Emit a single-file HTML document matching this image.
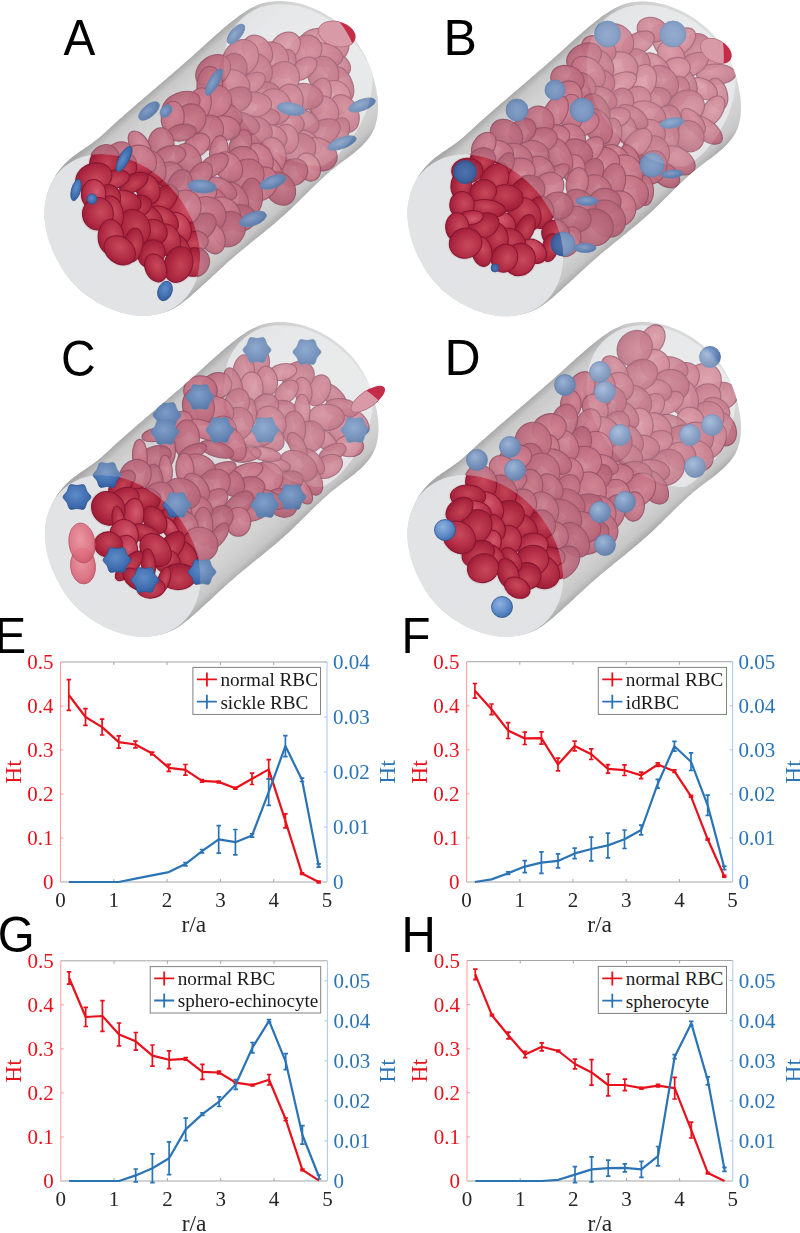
<!DOCTYPE html>
<html><head><meta charset="utf-8"><style>
html,body{margin:0;padding:0;background:#fff;width:800px;height:1233px;overflow:hidden}
svg{display:block;font-family:"Liberation Serif",serif;filter:blur(0.35px)}
</style></head><body>
<svg width="800" height="1233" viewBox="0 0 800 1233">
<defs>
<radialGradient id="pk0" cx="0.4" cy="0.38" r="0.65"><stop offset="0" stop-color="#d07486"/><stop offset="0.75" stop-color="#bd596f"/><stop offset="1" stop-color="#a94c63"/></radialGradient>
<radialGradient id="pk1" cx="0.45" cy="0.4" r="0.65"><stop offset="0" stop-color="#c66a7c"/><stop offset="0.75" stop-color="#b44f66"/><stop offset="1" stop-color="#9f435a"/></radialGradient>
<radialGradient id="pk2" cx="0.4" cy="0.45" r="0.65"><stop offset="0" stop-color="#d88494"/><stop offset="0.75" stop-color="#c66679"/><stop offset="1" stop-color="#b1566b"/></radialGradient>
<radialGradient id="pk3" cx="0.5" cy="0.4" r="0.65"><stop offset="0" stop-color="#c06074"/><stop offset="0.75" stop-color="#ab4860"/><stop offset="1" stop-color="#983e55"/></radialGradient>
<radialGradient id="dk0" cx="0.4" cy="0.38" r="0.65"><stop offset="0" stop-color="#d25a6c"/><stop offset="0.7" stop-color="#b8304a"/><stop offset="1" stop-color="#9c223b"/></radialGradient>
<radialGradient id="dk1" cx="0.45" cy="0.4" r="0.65"><stop offset="0" stop-color="#c84a5c"/><stop offset="0.7" stop-color="#ae2841"/><stop offset="1" stop-color="#931c34"/></radialGradient>
<radialGradient id="dk2" cx="0.4" cy="0.45" r="0.65"><stop offset="0" stop-color="#d86474"/><stop offset="0.7" stop-color="#bd384f"/><stop offset="1" stop-color="#a2263e"/></radialGradient>
<radialGradient id="dk3" cx="0.5" cy="0.4" r="0.65"><stop offset="0" stop-color="#c44456"/><stop offset="0.7" stop-color="#a8243c"/><stop offset="1" stop-color="#8e1a31"/></radialGradient>
<radialGradient id="bs" cx="0.4" cy="0.35" r="0.7"><stop offset="0" stop-color="#91aed6"/><stop offset="0.55" stop-color="#6888ba"/><stop offset="1" stop-color="#4e6d9e"/></radialGradient>
<radialGradient id="bd" cx="0.5" cy="0.5" r="0.6"><stop offset="0" stop-color="#7395c4"/><stop offset="0.55" stop-color="#6688ba"/><stop offset="0.8" stop-color="#5a7cb0"/><stop offset="1" stop-color="#46679a"/></radialGradient>
<radialGradient id="be" cx="0.45" cy="0.4" r="0.65"><stop offset="0" stop-color="#7393c4"/><stop offset="0.7" stop-color="#4d72aa"/><stop offset="1" stop-color="#3e6096"/></radialGradient>
<filter id="soft" x="-5%" y="-5%" width="110%" height="110%"><feGaussianBlur stdDeviation="0.45"/></filter>
<radialGradient id="bf" cx="0.45" cy="0.4" r="0.65"><stop offset="0" stop-color="#5e8cc8"/><stop offset="0.7" stop-color="#3f6cae"/><stop offset="1" stop-color="#2f5a98"/></radialGradient>
<radialGradient id="bdf" cx="0.5" cy="0.5" r="0.6"><stop offset="0" stop-color="#4f74b0"/><stop offset="0.6" stop-color="#40649f"/><stop offset="1" stop-color="#2f4f88"/></radialGradient>
<radialGradient id="bsf" cx="0.4" cy="0.35" r="0.7"><stop offset="0" stop-color="#8fb2e0"/><stop offset="0.6" stop-color="#5f8cc8"/><stop offset="1" stop-color="#3f6aa8"/></radialGradient>
<radialGradient id="lr" cx="0.45" cy="0.4" r="0.65"><stop offset="0" stop-color="#ec909c"/><stop offset="0.7" stop-color="#dc6a7c"/><stop offset="1" stop-color="#c85468"/></radialGradient>
<radialGradient id="bst" cx="0.45" cy="0.4" r="0.65"><stop offset="0" stop-color="#6e93c6"/><stop offset="0.7" stop-color="#4a72ab"/><stop offset="1" stop-color="#3a5f96"/></radialGradient>
</defs>
<linearGradient id="gA" gradientUnits="userSpaceOnUse" x1="120.0" y1="118.6" x2="239.3" y2="254.9"><stop offset="0" stop-color="#a8a8a9"/><stop offset="0.045" stop-color="#c8c8c9"/><stop offset="0.1" stop-color="#d0d0d1"/><stop offset="0.2" stop-color="#d7d7d8"/><stop offset="0.5" stop-color="#dddddf"/><stop offset="0.8" stop-color="#d7d7d8"/><stop offset="0.9" stop-color="#cfcfd0"/><stop offset="0.955" stop-color="#c6c6c7"/><stop offset="1" stop-color="#a8a8a9"/></linearGradient>
<clipPath id="rimA"><ellipse cx="122.2" cy="235.0" rx="89.5" ry="68.0" transform="rotate(49.2 122.2 235.0)"/></clipPath>
<clipPath id="silA"><path d="M45.0 221.1 L44.8 218.7 L44.6 216.3 L44.5 214.0 L44.5 211.6 L44.6 209.2 L44.8 206.8 L45.1 204.4 L45.5 202.0 L45.9 199.7 L46.4 197.3 L47.1 195.0 L47.7 192.7 L48.5 190.4 L49.4 188.1 L50.3 185.8 L51.3 183.6 L52.3 181.5 L53.5 179.3 L54.7 177.2 L55.9 175.1 L57.3 173.1 L58.7 171.1 L60.1 169.2 L61.7 167.3 L63.3 165.5 L64.9 163.8 L66.6 162.1 L68.3 160.4 L70.2 158.8 L72.0 157.3 L73.9 155.8 L75.8 154.4 L77.8 153.0 L79.8 151.6 L81.8 150.2 L83.8 148.9 L85.8 147.5 L87.8 146.2 L89.8 144.8 L91.7 143.4 L93.7 142.0 L95.6 140.5 L97.5 139.1 L99.4 137.5 L101.2 135.9 L103.0 134.3 L104.8 132.7 L106.6 131.1 L108.4 129.4 L110.2 127.7 L112.0 126.1 L113.7 124.5 L115.5 122.8 L117.3 121.2 L119.1 119.6 L121.0 118.0 L122.8 116.4 L124.6 114.8 L126.4 113.2 L128.2 111.6 L130.1 110.0 L131.9 108.4 L133.7 106.8 L135.6 105.2 L137.4 103.6 L139.2 102.1 L141.1 100.5 L142.9 98.9 L144.7 97.3 L146.6 95.7 L148.4 94.2 L150.3 92.6 L152.1 91.0 L153.9 89.4 L155.8 87.9 L157.6 86.3 L159.4 84.7 L161.3 83.2 L163.1 81.6 L165.0 80.0 L166.8 78.4 L168.6 76.8 L170.5 75.3 L172.3 73.7 L174.1 72.1 L175.9 70.5 L177.8 68.9 L179.6 67.4 L181.4 65.8 L183.2 64.2 L185.1 62.6 L186.9 61.0 L188.7 59.4 L190.5 57.8 L192.3 56.2 L194.1 54.6 L195.9 52.9 L197.8 51.3 L199.6 49.7 L201.4 48.1 L203.2 46.5 L204.9 44.8 L206.7 43.2 L208.5 41.6 L210.3 39.9 L212.1 38.3 L213.9 36.7 L215.8 35.1 L217.6 33.5 L219.4 31.9 L221.2 30.3 L223.1 28.7 L224.9 27.1 L226.8 25.6 L228.7 24.0 L230.5 22.5 L232.4 21.0 L234.4 19.5 L236.3 18.0 L238.2 16.6 L240.2 15.1 L242.2 13.7 L244.2 12.4 L246.2 11.0 L248.3 9.8 L250.4 8.5 L252.5 7.4 L254.6 6.4 L256.8 5.4 L259.0 4.6 L261.2 3.8 L263.4 3.1 L265.7 2.6 L268.0 2.1 L270.3 1.7 L272.7 1.4 L275.0 1.2 L277.4 1.1 L279.8 1.0 L282.2 1.1 L284.6 1.2 L287.0 1.4 L289.4 1.7 L291.8 2.0 L294.2 2.4 L296.6 2.9 L298.9 3.5 L301.3 4.1 L303.7 4.8 L306.1 5.6 L308.4 6.4 L310.7 7.3 L313.1 8.2 L315.3 9.2 L317.6 10.2 L319.9 11.3 L322.1 12.5 L324.3 13.7 L326.4 14.9 L328.5 16.2 L330.6 17.6 L332.7 19.0 L334.7 20.4 L336.6 21.9 L338.5 23.4 L340.4 24.9 L342.2 26.5 L344.0 28.1 L345.7 29.7 L347.4 31.4 L349.1 33.1 L350.6 34.8 L352.2 36.6 L353.7 38.4 L355.1 40.2 L356.5 42.1 L357.9 44.0 L359.2 45.9 L360.4 47.9 L361.7 49.9 L362.8 51.9 L364.0 53.9 L365.1 56.0 L366.1 58.1 L367.1 60.3 L368.1 62.5 L369.0 64.7 L369.9 66.9 L370.7 69.2 L371.5 71.5 L372.3 73.8 L373.0 76.2 L373.7 78.6 L374.4 81.0 L375.0 83.5 L375.5 85.9 L376.1 88.4 L376.5 90.9 L376.9 93.4 L377.3 95.9 L377.6 98.4 L377.8 101.0 L377.9 103.5 L378.0 105.9 L378.0 108.4 L377.9 110.9 L377.7 113.3 L377.5 115.7 L377.1 118.1 L376.7 120.4 L376.1 122.7 L375.5 125.0 L374.8 127.2 L373.9 129.3 L372.9 131.4 L371.8 133.5 L370.6 135.5 L369.3 137.4 L367.9 139.3 L366.5 141.1 L364.9 142.8 L363.3 144.6 L361.6 146.3 L359.8 147.9 L358.0 149.5 L356.2 151.1 L354.3 152.7 L352.4 154.2 L350.4 155.7 L348.5 157.2 L346.5 158.7 L344.6 160.1 L342.6 161.6 L340.7 163.1 L338.7 164.5 L336.8 166.0 L334.9 167.5 L333.0 169.0 L331.1 170.6 L329.2 172.1 L327.4 173.7 L325.6 175.3 L323.8 176.9 L322.0 178.6 L320.2 180.2 L318.5 181.9 L316.7 183.5 L315.0 185.2 L313.2 186.9 L311.5 188.6 L309.8 190.3 L308.1 192.0 L306.4 193.7 L304.6 195.4 L302.9 197.1 L301.2 198.8 L299.5 200.5 L297.8 202.2 L296.1 203.8 L294.3 205.5 L292.6 207.2 L290.8 208.9 L289.1 210.5 L287.3 212.2 L285.5 213.8 L283.7 215.4 L281.9 217.0 L280.1 218.6 L278.3 220.2 L276.4 221.8 L274.6 223.4 L272.7 224.9 L270.9 226.5 L269.0 228.0 L267.1 229.6 L265.3 231.1 L263.4 232.7 L261.5 234.2 L259.6 235.7 L257.7 237.2 L255.8 238.8 L254.0 240.3 L252.1 241.8 L250.2 243.3 L248.3 244.9 L246.4 246.4 L244.6 247.9 L242.7 249.5 L240.8 251.0 L239.0 252.6 L237.1 254.1 L235.3 255.7 L233.5 257.3 L231.6 258.9 L229.8 260.5 L228.0 262.1 L226.2 263.7 L224.4 265.3 L222.7 266.9 L220.9 268.5 L219.1 270.2 L217.3 271.8 L215.6 273.4 L213.8 275.1 L212.0 276.7 L210.3 278.4 L208.5 280.0 L206.7 281.7 L204.9 283.3 L203.1 285.0 L201.3 286.6 L199.5 288.2 L197.7 289.9 L195.9 291.5 L194.1 293.1 L192.2 294.8 L190.4 296.4 L188.5 298.0 L186.6 299.5 L184.7 301.1 L182.7 302.6 L180.8 304.0 L178.8 305.4 L176.7 306.7 L174.7 307.9 L172.6 309.0 L170.5 310.0 L168.3 311.0 L166.1 311.8 L163.9 312.6 L161.7 313.2 L159.4 313.8 L157.1 314.3 L154.8 314.7 L152.5 315.0 L150.1 315.3 L147.7 315.5 L145.4 315.5 L143.0 315.6 L140.6 315.5 L138.2 315.4 L135.8 315.2 L133.4 314.9 L131.0 314.5 L128.6 314.1 L126.2 313.6 L123.8 313.1 L121.4 312.5 L119.1 311.8 L116.7 311.1 L114.4 310.3 L112.0 309.4 L109.7 308.5 L107.4 307.5 L105.2 306.5 L102.9 305.4 L100.7 304.3 L98.5 303.1 L96.4 301.9 L94.3 300.6 L92.2 299.3 L90.1 298.0 L88.1 296.5 L86.1 295.1 L84.2 293.6 L82.3 292.1 L80.5 290.5 L78.7 288.9 L77.0 287.3 L75.3 285.6 L73.6 283.9 L72.0 282.1 L70.5 280.4 L69.0 278.5 L67.5 276.7 L66.1 274.8 L64.8 272.9 L63.5 270.9 L62.2 268.9 L61.0 266.9 L59.8 264.8 L58.7 262.7 L57.6 260.5 L56.6 258.4 L55.6 256.1 L54.7 253.9 L53.8 251.6 L52.9 249.3 L52.1 247.0 L51.3 244.6 L50.5 242.3 L49.7 239.9 L49.0 237.6 L48.3 235.2 L47.6 232.9 L47.0 230.5 L46.4 228.2 L45.8 225.8 L45.4 223.5Z"/></clipPath>
<path d="M45.0 221.1 L44.8 218.7 L44.6 216.3 L44.5 214.0 L44.5 211.6 L44.6 209.2 L44.8 206.8 L45.1 204.4 L45.5 202.0 L45.9 199.7 L46.4 197.3 L47.1 195.0 L47.7 192.7 L48.5 190.4 L49.4 188.1 L50.3 185.8 L51.3 183.6 L52.3 181.5 L53.5 179.3 L54.7 177.2 L55.9 175.1 L57.3 173.1 L58.7 171.1 L60.1 169.2 L61.7 167.3 L63.3 165.5 L64.9 163.8 L66.6 162.1 L68.3 160.4 L70.2 158.8 L72.0 157.3 L73.9 155.8 L75.8 154.4 L77.8 153.0 L79.8 151.6 L81.8 150.2 L83.8 148.9 L85.8 147.5 L87.8 146.2 L89.8 144.8 L91.7 143.4 L93.7 142.0 L95.6 140.5 L97.5 139.1 L99.4 137.5 L101.2 135.9 L103.0 134.3 L104.8 132.7 L106.6 131.1 L108.4 129.4 L110.2 127.7 L112.0 126.1 L113.7 124.5 L115.5 122.8 L117.3 121.2 L119.1 119.6 L121.0 118.0 L122.8 116.4 L124.6 114.8 L126.4 113.2 L128.2 111.6 L130.1 110.0 L131.9 108.4 L133.7 106.8 L135.6 105.2 L137.4 103.6 L139.2 102.1 L141.1 100.5 L142.9 98.9 L144.7 97.3 L146.6 95.7 L148.4 94.2 L150.3 92.6 L152.1 91.0 L153.9 89.4 L155.8 87.9 L157.6 86.3 L159.4 84.7 L161.3 83.2 L163.1 81.6 L165.0 80.0 L166.8 78.4 L168.6 76.8 L170.5 75.3 L172.3 73.7 L174.1 72.1 L175.9 70.5 L177.8 68.9 L179.6 67.4 L181.4 65.8 L183.2 64.2 L185.1 62.6 L186.9 61.0 L188.7 59.4 L190.5 57.8 L192.3 56.2 L194.1 54.6 L195.9 52.9 L197.8 51.3 L199.6 49.7 L201.4 48.1 L203.2 46.5 L204.9 44.8 L206.7 43.2 L208.5 41.6 L210.3 39.9 L212.1 38.3 L213.9 36.7 L215.8 35.1 L217.6 33.5 L219.4 31.9 L221.2 30.3 L223.1 28.7 L224.9 27.1 L226.8 25.6 L228.7 24.0 L230.5 22.5 L232.4 21.0 L234.4 19.5 L236.3 18.0 L238.2 16.6 L240.2 15.1 L242.2 13.7 L244.2 12.4 L246.2 11.0 L248.3 9.8 L250.4 8.5 L252.5 7.4 L254.6 6.4 L256.8 5.4 L259.0 4.6 L261.2 3.8 L263.4 3.1 L265.7 2.6 L268.0 2.1 L270.3 1.7 L272.7 1.4 L275.0 1.2 L277.4 1.1 L279.8 1.0 L282.2 1.1 L284.6 1.2 L287.0 1.4 L289.4 1.7 L291.8 2.0 L294.2 2.4 L296.6 2.9 L298.9 3.5 L301.3 4.1 L303.7 4.8 L306.1 5.6 L308.4 6.4 L310.7 7.3 L313.1 8.2 L315.3 9.2 L317.6 10.2 L319.9 11.3 L322.1 12.5 L324.3 13.7 L326.4 14.9 L328.5 16.2 L330.6 17.6 L332.7 19.0 L334.7 20.4 L336.6 21.9 L338.5 23.4 L340.4 24.9 L342.2 26.5 L344.0 28.1 L345.7 29.7 L347.4 31.4 L349.1 33.1 L350.6 34.8 L352.2 36.6 L353.7 38.4 L355.1 40.2 L356.5 42.1 L357.9 44.0 L359.2 45.9 L360.4 47.9 L361.7 49.9 L362.8 51.9 L364.0 53.9 L365.1 56.0 L366.1 58.1 L367.1 60.3 L368.1 62.5 L369.0 64.7 L369.9 66.9 L370.7 69.2 L371.5 71.5 L372.3 73.8 L373.0 76.2 L373.7 78.6 L374.4 81.0 L375.0 83.5 L375.5 85.9 L376.1 88.4 L376.5 90.9 L376.9 93.4 L377.3 95.9 L377.6 98.4 L377.8 101.0 L377.9 103.5 L378.0 105.9 L378.0 108.4 L377.9 110.9 L377.7 113.3 L377.5 115.7 L377.1 118.1 L376.7 120.4 L376.1 122.7 L375.5 125.0 L374.8 127.2 L373.9 129.3 L372.9 131.4 L371.8 133.5 L370.6 135.5 L369.3 137.4 L367.9 139.3 L366.5 141.1 L364.9 142.8 L363.3 144.6 L361.6 146.3 L359.8 147.9 L358.0 149.5 L356.2 151.1 L354.3 152.7 L352.4 154.2 L350.4 155.7 L348.5 157.2 L346.5 158.7 L344.6 160.1 L342.6 161.6 L340.7 163.1 L338.7 164.5 L336.8 166.0 L334.9 167.5 L333.0 169.0 L331.1 170.6 L329.2 172.1 L327.4 173.7 L325.6 175.3 L323.8 176.9 L322.0 178.6 L320.2 180.2 L318.5 181.9 L316.7 183.5 L315.0 185.2 L313.2 186.9 L311.5 188.6 L309.8 190.3 L308.1 192.0 L306.4 193.7 L304.6 195.4 L302.9 197.1 L301.2 198.8 L299.5 200.5 L297.8 202.2 L296.1 203.8 L294.3 205.5 L292.6 207.2 L290.8 208.9 L289.1 210.5 L287.3 212.2 L285.5 213.8 L283.7 215.4 L281.9 217.0 L280.1 218.6 L278.3 220.2 L276.4 221.8 L274.6 223.4 L272.7 224.9 L270.9 226.5 L269.0 228.0 L267.1 229.6 L265.3 231.1 L263.4 232.7 L261.5 234.2 L259.6 235.7 L257.7 237.2 L255.8 238.8 L254.0 240.3 L252.1 241.8 L250.2 243.3 L248.3 244.9 L246.4 246.4 L244.6 247.9 L242.7 249.5 L240.8 251.0 L239.0 252.6 L237.1 254.1 L235.3 255.7 L233.5 257.3 L231.6 258.9 L229.8 260.5 L228.0 262.1 L226.2 263.7 L224.4 265.3 L222.7 266.9 L220.9 268.5 L219.1 270.2 L217.3 271.8 L215.6 273.4 L213.8 275.1 L212.0 276.7 L210.3 278.4 L208.5 280.0 L206.7 281.7 L204.9 283.3 L203.1 285.0 L201.3 286.6 L199.5 288.2 L197.7 289.9 L195.9 291.5 L194.1 293.1 L192.2 294.8 L190.4 296.4 L188.5 298.0 L186.6 299.5 L184.7 301.1 L182.7 302.6 L180.8 304.0 L178.8 305.4 L176.7 306.7 L174.7 307.9 L172.6 309.0 L170.5 310.0 L168.3 311.0 L166.1 311.8 L163.9 312.6 L161.7 313.2 L159.4 313.8 L157.1 314.3 L154.8 314.7 L152.5 315.0 L150.1 315.3 L147.7 315.5 L145.4 315.5 L143.0 315.6 L140.6 315.5 L138.2 315.4 L135.8 315.2 L133.4 314.9 L131.0 314.5 L128.6 314.1 L126.2 313.6 L123.8 313.1 L121.4 312.5 L119.1 311.8 L116.7 311.1 L114.4 310.3 L112.0 309.4 L109.7 308.5 L107.4 307.5 L105.2 306.5 L102.9 305.4 L100.7 304.3 L98.5 303.1 L96.4 301.9 L94.3 300.6 L92.2 299.3 L90.1 298.0 L88.1 296.5 L86.1 295.1 L84.2 293.6 L82.3 292.1 L80.5 290.5 L78.7 288.9 L77.0 287.3 L75.3 285.6 L73.6 283.9 L72.0 282.1 L70.5 280.4 L69.0 278.5 L67.5 276.7 L66.1 274.8 L64.8 272.9 L63.5 270.9 L62.2 268.9 L61.0 266.9 L59.8 264.8 L58.7 262.7 L57.6 260.5 L56.6 258.4 L55.6 256.1 L54.7 253.9 L53.8 251.6 L52.9 249.3 L52.1 247.0 L51.3 244.6 L50.5 242.3 L49.7 239.9 L49.0 237.6 L48.3 235.2 L47.6 232.9 L47.0 230.5 L46.4 228.2 L45.8 225.8 L45.4 223.5Z" fill="url(#gA)"/>
<ellipse cx="122.2" cy="235.0" rx="89.5" ry="68.0" transform="rotate(49.2 122.2 235.0)" fill="#e4e5e7"/>
<ellipse cx="301.6" cy="85.2" rx="89.5" ry="68.0" transform="rotate(49.2 301.6 85.2)" fill="#eaebec" opacity="0.85" clip-path="url(#silA)"/>
<g clip-path="url(#silA)"><g filter="url(#soft)" stroke="#86344e" stroke-width="1.1" stroke-opacity="0.85" fill-opacity="0.92"><ellipse cx="332.3" cy="42.4" rx="19.4" ry="16.3" transform="rotate(69 332.3 42.4)" fill="url(#pk0)"/><ellipse cx="317.7" cy="39.9" rx="17.8" ry="11.4" transform="rotate(174 317.7 39.9)" fill="url(#pk2)"/><ellipse cx="335.8" cy="65.2" rx="15.4" ry="11.4" transform="rotate(25 335.8 65.2)" fill="url(#pk0)"/><ellipse cx="324.2" cy="54.9" rx="18.8" ry="11.6" transform="rotate(13 324.2 54.9)" fill="url(#pk0)"/><ellipse cx="341.3" cy="83.9" rx="18.9" ry="10.9" transform="rotate(66 341.3 83.9)" fill="url(#pk1)"/><ellipse cx="306.1" cy="50.1" rx="16.1" ry="14.8" transform="rotate(150 306.1 50.1)" fill="url(#pk0)"/><ellipse cx="323.1" cy="73.5" rx="17.2" ry="15.7" transform="rotate(81 323.1 73.5)" fill="url(#pk1)"/><ellipse cx="334.6" cy="98.0" rx="17.5" ry="16.3" transform="rotate(86 334.6 98.0)" fill="url(#pk2)"/><ellipse cx="344.3" cy="113.5" rx="19.6" ry="13.9" transform="rotate(66 344.3 113.5)" fill="url(#pk0)"/><ellipse cx="285.1" cy="47.0" rx="16.8" ry="13.1" transform="rotate(138 285.1 47.0)" fill="url(#pk2)"/><ellipse cx="303.1" cy="68.9" rx="15.6" ry="9.4" transform="rotate(144 303.1 68.9)" fill="url(#pk0)"/><ellipse cx="319.5" cy="96.4" rx="18.9" ry="11.0" transform="rotate(106 319.5 96.4)" fill="url(#pk0)"/><ellipse cx="285.4" cy="63.7" rx="14.7" ry="10.3" transform="rotate(106 285.4 63.7)" fill="url(#pk1)"/><ellipse cx="325.1" cy="111.2" rx="15.8" ry="13.0" transform="rotate(62 325.1 111.2)" fill="url(#pk0)"/><ellipse cx="304.5" cy="96.5" rx="18.5" ry="13.0" transform="rotate(6 304.5 96.5)" fill="url(#pk1)"/><ellipse cx="336.6" cy="134.0" rx="17.7" ry="10.9" transform="rotate(121 336.6 134.0)" fill="url(#pk1)"/><ellipse cx="269.2" cy="60.5" rx="19.8" ry="18.1" transform="rotate(150 269.2 60.5)" fill="url(#pk0)"/><ellipse cx="257.5" cy="51.5" rx="17.4" ry="13.8" transform="rotate(55 257.5 51.5)" fill="url(#pk0)"/><ellipse cx="281.8" cy="80.4" rx="19.7" ry="16.6" transform="rotate(124 281.8 80.4)" fill="url(#pk0)"/><ellipse cx="321.8" cy="133.3" rx="19.8" ry="12.5" transform="rotate(151 321.8 133.3)" fill="url(#pk1)"/><ellipse cx="288.8" cy="101.4" rx="17.3" ry="14.3" transform="rotate(99 288.8 101.4)" fill="url(#pk0)"/><ellipse cx="305.7" cy="121.8" rx="14.5" ry="10.5" transform="rotate(35 305.7 121.8)" fill="url(#pk1)"/><ellipse cx="257.2" cy="71.6" rx="17.8" ry="15.0" transform="rotate(78 257.2 71.6)" fill="url(#pk1)"/><ellipse cx="240.7" cy="58.1" rx="19.6" ry="16.8" transform="rotate(129 240.7 58.1)" fill="url(#pk0)"/><ellipse cx="309.9" cy="141.9" rx="14.2" ry="8.0" transform="rotate(47 309.9 141.9)" fill="url(#pk0)"/><ellipse cx="317.9" cy="154.2" rx="19.9" ry="16.0" transform="rotate(25 317.9 154.2)" fill="url(#pk0)"/><ellipse cx="289.7" cy="123.4" rx="14.6" ry="11.6" transform="rotate(12 289.7 123.4)" fill="url(#pk0)"/><ellipse cx="263.1" cy="93.1" rx="16.9" ry="11.4" transform="rotate(175 263.1 93.1)" fill="url(#pk1)"/><ellipse cx="274.4" cy="106.7" rx="18.1" ry="16.7" transform="rotate(70 274.4 106.7)" fill="url(#pk0)"/><ellipse cx="249.9" cy="84.4" rx="17.1" ry="9.6" transform="rotate(148 249.9 84.4)" fill="url(#pk0)"/><ellipse cx="232.6" cy="70.4" rx="17.3" ry="14.1" transform="rotate(110 232.6 70.4)" fill="url(#pk3)"/><ellipse cx="297.5" cy="149.5" rx="18.7" ry="15.9" transform="rotate(161 297.5 149.5)" fill="url(#pk1)"/><ellipse cx="286.4" cy="139.0" rx="14.8" ry="12.2" transform="rotate(86 286.4 139.0)" fill="url(#pk0)"/><ellipse cx="308.5" cy="167.0" rx="14.6" ry="11.5" transform="rotate(64 308.5 167.0)" fill="url(#pk2)"/><ellipse cx="265.2" cy="118.1" rx="14.8" ry="9.7" transform="rotate(176 265.2 118.1)" fill="url(#pk1)"/><ellipse cx="251.6" cy="104.6" rx="20.0" ry="12.8" transform="rotate(179 251.6 104.6)" fill="url(#pk0)"/><ellipse cx="233.5" cy="85.1" rx="16.9" ry="14.9" transform="rotate(33 233.5 85.1)" fill="url(#pk0)"/><ellipse cx="271.2" cy="136.8" rx="16.2" ry="11.9" transform="rotate(19 271.2 136.8)" fill="url(#pk0)"/><ellipse cx="213.1" cy="71.0" rx="19.1" ry="14.5" transform="rotate(141 213.1 71.0)" fill="url(#pk1)"/><ellipse cx="236.7" cy="99.8" rx="16.0" ry="12.0" transform="rotate(151 236.7 99.8)" fill="url(#pk3)"/><ellipse cx="292.9" cy="172.4" rx="15.3" ry="13.1" transform="rotate(152 292.9 172.4)" fill="url(#pk1)"/><ellipse cx="255.9" cy="131.2" rx="16.8" ry="14.5" transform="rotate(26 255.9 131.2)" fill="url(#pk1)"/><ellipse cx="272.5" cy="155.4" rx="18.1" ry="13.5" transform="rotate(82 272.5 155.4)" fill="url(#pk0)"/><ellipse cx="209.8" cy="85.8" rx="19.4" ry="12.9" transform="rotate(91 209.8 85.8)" fill="url(#pk1)"/><ellipse cx="240.8" cy="123.8" rx="19.3" ry="11.3" transform="rotate(15 240.8 123.8)" fill="url(#pk3)"/><ellipse cx="227.5" cy="113.4" rx="16.6" ry="9.6" transform="rotate(33 227.5 113.4)" fill="url(#pk1)"/><ellipse cx="214.4" cy="101.4" rx="17.5" ry="16.1" transform="rotate(148 214.4 101.4)" fill="url(#pk0)"/><ellipse cx="270.8" cy="171.0" rx="17.7" ry="10.1" transform="rotate(59 270.8 171.0)" fill="url(#pk0)"/><ellipse cx="257.8" cy="160.5" rx="17.5" ry="15.1" transform="rotate(67 257.8 160.5)" fill="url(#pk0)"/><ellipse cx="280.1" cy="188.5" rx="17.7" ry="14.4" transform="rotate(56 280.1 188.5)" fill="url(#pk3)"/><ellipse cx="240.3" cy="144.9" rx="16.1" ry="10.4" transform="rotate(112 240.3 144.9)" fill="url(#pk1)"/><ellipse cx="224.9" cy="128.0" rx="15.6" ry="12.1" transform="rotate(10 224.9 128.0)" fill="url(#pk0)"/><ellipse cx="199.0" cy="105.4" rx="18.0" ry="11.8" transform="rotate(105 199.0 105.4)" fill="url(#pk0)"/><ellipse cx="242.3" cy="161.9" rx="16.3" ry="15.5" transform="rotate(171 242.3 161.9)" fill="url(#pk0)"/><ellipse cx="261.2" cy="183.9" rx="18.3" ry="15.2" transform="rotate(132 261.2 183.9)" fill="url(#pk0)"/><ellipse cx="207.9" cy="132.6" rx="18.2" ry="14.8" transform="rotate(119 207.9 132.6)" fill="url(#pk1)"/><ellipse cx="246.1" cy="177.2" rx="19.3" ry="16.9" transform="rotate(131 246.1 177.2)" fill="url(#pk1)"/><ellipse cx="181.2" cy="104.6" rx="19.6" ry="12.1" transform="rotate(159 181.2 104.6)" fill="url(#pk1)"/><ellipse cx="218.9" cy="151.6" rx="16.1" ry="9.2" transform="rotate(97 218.9 151.6)" fill="url(#pk0)"/><ellipse cx="190.0" cy="119.7" rx="16.6" ry="15.2" transform="rotate(137 190.0 119.7)" fill="url(#pk1)"/><ellipse cx="228.4" cy="167.0" rx="16.3" ry="12.9" transform="rotate(53 228.4 167.0)" fill="url(#pk0)"/><ellipse cx="250.9" cy="197.8" rx="19.9" ry="11.7" transform="rotate(95 250.9 197.8)" fill="url(#pk3)"/><ellipse cx="196.5" cy="145.4" rx="14.5" ry="10.7" transform="rotate(142 196.5 145.4)" fill="url(#pk0)"/><ellipse cx="172.7" cy="117.8" rx="16.6" ry="11.5" transform="rotate(93 172.7 117.8)" fill="url(#pk0)"/><ellipse cx="213.2" cy="165.6" rx="17.1" ry="9.6" transform="rotate(146 213.2 165.6)" fill="url(#pk1)"/><ellipse cx="181.7" cy="132.6" rx="14.8" ry="8.3" transform="rotate(171 181.7 132.6)" fill="url(#pk3)"/><ellipse cx="232.9" cy="200.2" rx="19.1" ry="14.5" transform="rotate(59 232.9 200.2)" fill="url(#pk1)"/><ellipse cx="222.2" cy="188.4" rx="16.2" ry="9.0" transform="rotate(32 222.2 188.4)" fill="url(#pk1)"/><ellipse cx="240.6" cy="217.9" rx="15.1" ry="13.4" transform="rotate(174 240.6 217.9)" fill="url(#pk3)"/><ellipse cx="188.3" cy="158.1" rx="15.7" ry="11.8" transform="rotate(56 188.3 158.1)" fill="url(#pk1)"/><ellipse cx="200.0" cy="175.7" rx="15.6" ry="10.2" transform="rotate(129 200.0 175.7)" fill="url(#pk1)"/><ellipse cx="214.8" cy="201.7" rx="15.3" ry="11.4" transform="rotate(54 214.8 201.7)" fill="url(#pk1)"/><ellipse cx="223.0" cy="214.0" rx="18.3" ry="16.2" transform="rotate(39 223.0 214.0)" fill="url(#pk0)"/><ellipse cx="161.2" cy="144.1" rx="16.4" ry="12.9" transform="rotate(89 161.2 144.1)" fill="url(#pk1)"/><ellipse cx="170.4" cy="155.5" rx="15.5" ry="9.8" transform="rotate(169 170.4 155.5)" fill="url(#pk1)"/><ellipse cx="201.8" cy="194.0" rx="15.0" ry="9.6" transform="rotate(171 201.8 194.0)" fill="url(#pk0)"/><ellipse cx="229.2" cy="229.1" rx="18.0" ry="16.0" transform="rotate(113 229.2 229.1)" fill="url(#pk3)"/><ellipse cx="207.2" cy="214.6" rx="19.1" ry="17.8" transform="rotate(29 207.2 214.6)" fill="url(#pk1)"/><ellipse cx="169.9" cy="176.1" rx="15.2" ry="14.3" transform="rotate(9 169.9 176.1)" fill="url(#pk3)"/><ellipse cx="179.5" cy="187.6" rx="18.5" ry="12.4" transform="rotate(106 179.5 187.6)" fill="url(#pk3)"/><ellipse cx="139.8" cy="145.9" rx="16.4" ry="9.3" transform="rotate(59 139.8 145.9)" fill="url(#pk0)"/><ellipse cx="153.4" cy="167.9" rx="17.6" ry="11.9" transform="rotate(71 153.4 167.9)" fill="url(#pk1)"/><ellipse cx="213.0" cy="238.4" rx="15.8" ry="11.8" transform="rotate(72 213.0 238.4)" fill="url(#pk0)"/><ellipse cx="200.3" cy="227.6" rx="17.8" ry="12.0" transform="rotate(142 200.3 227.6)" fill="url(#pk3)"/><ellipse cx="183.4" cy="208.4" rx="18.9" ry="17.0" transform="rotate(125 183.4 208.4)" fill="url(#pk0)"/><ellipse cx="140.5" cy="161.1" rx="16.9" ry="15.1" transform="rotate(44 140.5 161.1)" fill="url(#pk0)"/><ellipse cx="161.5" cy="200.2" rx="19.2" ry="12.9" transform="rotate(141 161.5 200.2)" fill="url(#pk3)"/><ellipse cx="148.1" cy="189.4" rx="16.3" ry="12.5" transform="rotate(73 148.1 189.4)" fill="url(#pk1)"/><ellipse cx="117.8" cy="154.8" rx="15.4" ry="11.6" transform="rotate(143 117.8 154.8)" fill="url(#pk1)"/><ellipse cx="192.3" cy="241.8" rx="16.0" ry="11.3" transform="rotate(174 192.3 241.8)" fill="url(#pk1)"/><ellipse cx="177.6" cy="228.4" rx="17.9" ry="14.1" transform="rotate(66 177.6 228.4)" fill="url(#pk0)"/><ellipse cx="124.1" cy="168.7" rx="16.2" ry="13.1" transform="rotate(105 124.1 168.7)" fill="url(#pk3)"/><ellipse cx="133.8" cy="182.6" rx="16.6" ry="9.3" transform="rotate(151 133.8 182.6)" fill="url(#pk3)"/><ellipse cx="163.1" cy="219.7" rx="18.5" ry="12.4" transform="rotate(37 163.1 219.7)" fill="url(#pk1)"/><ellipse cx="193.3" cy="262.0" rx="16.4" ry="15.2" transform="rotate(161 193.3 262.0)" fill="url(#pk3)"/><ellipse cx="104.1" cy="162.2" rx="18.1" ry="15.1" transform="rotate(114 104.1 162.2)" fill="url(#pk3)"/><ellipse cx="177.9" cy="249.6" rx="19.5" ry="12.4" transform="rotate(61 177.9 249.6)" fill="url(#pk3)"/><ellipse cx="167.0" cy="239.8" rx="17.7" ry="14.2" transform="rotate(66 167.0 239.8)" fill="url(#pk1)"/><ellipse cx="147.3" cy="217.5" rx="19.1" ry="12.5" transform="rotate(38 147.3 217.5)" fill="url(#pk3)"/><ellipse cx="137.2" cy="206.6" rx="16.1" ry="11.5" transform="rotate(157 137.2 206.6)" fill="url(#pk3)"/><ellipse cx="113.5" cy="179.6" rx="17.5" ry="9.8" transform="rotate(165 113.5 179.6)" fill="url(#pk1)"/><ellipse cx="154.1" cy="231.9" rx="14.5" ry="13.3" transform="rotate(32 154.1 231.9)" fill="url(#pk3)"/><ellipse cx="178.3" cy="264.4" rx="19.7" ry="15.2" transform="rotate(110 178.3 264.4)" fill="url(#pk3)"/><ellipse cx="122.9" cy="202.4" rx="19.8" ry="13.0" transform="rotate(10 122.9 202.4)" fill="url(#pk1)"/><ellipse cx="93.8" cy="177.9" rx="19.9" ry="15.6" transform="rotate(158 93.8 177.9)" fill="url(#pk1)"/><ellipse cx="108.6" cy="198.1" rx="14.7" ry="12.9" transform="rotate(88 108.6 198.1)" fill="url(#pk3)"/><ellipse cx="133.8" cy="227.9" rx="20.0" ry="17.4" transform="rotate(68 133.8 227.9)" fill="url(#pk3)"/><ellipse cx="151.6" cy="253.7" rx="15.7" ry="13.8" transform="rotate(126 151.6 253.7)" fill="url(#pk3)"/><ellipse cx="112.6" cy="213.0" rx="18.8" ry="11.2" transform="rotate(79 112.6 213.0)" fill="url(#pk1)"/><ellipse cx="93.6" cy="194.3" rx="15.8" ry="13.1" transform="rotate(92 93.6 194.3)" fill="url(#pk0)"/><ellipse cx="155.7" cy="267.8" rx="15.7" ry="11.1" transform="rotate(67 155.7 267.8)" fill="url(#pk1)"/><ellipse cx="133.3" cy="245.0" rx="18.4" ry="10.2" transform="rotate(99 133.3 245.0)" fill="url(#pk3)"/><ellipse cx="97.9" cy="213.8" rx="17.5" ry="16.6" transform="rotate(93 97.9 213.8)" fill="url(#pk1)"/><ellipse cx="110.8" cy="236.9" rx="18.8" ry="13.7" transform="rotate(89 110.8 236.9)" fill="url(#pk1)"/><ellipse cx="119.7" cy="250.3" rx="18.3" ry="14.1" transform="rotate(37 119.7 250.3)" fill="url(#pk1)"/></g><ellipse cx="236" cy="34" rx="12" ry="5.5" transform="rotate(-50 236 34)" fill="url(#be)" stroke="#4d74a8" stroke-width="0.8"/><ellipse cx="214" cy="82" rx="15" ry="5" transform="rotate(-60 214 82)" fill="url(#be)" stroke="#4d74a8" stroke-width="0.8"/><ellipse cx="149" cy="111" rx="12.5" ry="6" transform="rotate(-40 149 111)" fill="url(#be)" stroke="#4d74a8" stroke-width="0.8"/><ellipse cx="166" cy="111" rx="7" ry="5" transform="rotate(-50 166 111)" fill="url(#be)" stroke="#4d74a8" stroke-width="0.8"/><ellipse cx="291" cy="109" rx="14" ry="6" transform="rotate(10 291 109)" fill="url(#be)" stroke="#4d74a8" stroke-width="0.8"/><ellipse cx="362" cy="105" rx="14" ry="5.5" transform="rotate(-20 362 105)" fill="url(#be)" stroke="#4d74a8" stroke-width="0.8"/><ellipse cx="342" cy="143" rx="15" ry="5.5" transform="rotate(-20 342 143)" fill="url(#be)" stroke="#4d74a8" stroke-width="0.8"/><ellipse cx="273" cy="182" rx="13.5" ry="6" transform="rotate(-20 273 182)" fill="url(#be)" stroke="#4d74a8" stroke-width="0.8"/><ellipse cx="202" cy="186.5" rx="14" ry="6.5" transform="rotate(5 202 186.5)" fill="url(#be)" stroke="#4d74a8" stroke-width="0.8"/><ellipse cx="253" cy="219" rx="14" ry="6.5" transform="rotate(-20 253 219)" fill="url(#be)" stroke="#4d74a8" stroke-width="0.8"/></g>

<path d="M45.0 221.1 L44.8 218.7 L44.6 216.3 L44.5 214.0 L44.5 211.6 L44.6 209.2 L44.8 206.8 L45.1 204.4 L45.5 202.0 L45.9 199.7 L46.4 197.3 L47.1 195.0 L47.7 192.7 L48.5 190.4 L49.4 188.1 L50.3 185.8 L51.3 183.6 L52.3 181.5 L53.5 179.3 L54.7 177.2 L55.9 175.1 L57.3 173.1 L58.7 171.1 L60.1 169.2 L61.7 167.3 L63.3 165.5 L64.9 163.8 L66.6 162.1 L68.3 160.4 L70.2 158.8 L72.0 157.3 L73.9 155.8 L75.8 154.4 L77.8 153.0 L79.8 151.6 L81.8 150.2 L83.8 148.9 L85.8 147.5 L87.8 146.2 L89.8 144.8 L91.7 143.4 L93.7 142.0 L95.6 140.5 L97.5 139.1 L99.4 137.5 L101.2 135.9 L103.0 134.3 L104.8 132.7 L106.6 131.1 L108.4 129.4 L110.2 127.7 L112.0 126.1 L113.7 124.5 L115.5 122.8 L117.3 121.2 L119.1 119.6 L121.0 118.0 L122.8 116.4 L124.6 114.8 L126.4 113.2 L128.2 111.6 L130.1 110.0 L131.9 108.4 L133.7 106.8 L135.6 105.2 L137.4 103.6 L139.2 102.1 L141.1 100.5 L142.9 98.9 L144.7 97.3 L146.6 95.7 L148.4 94.2 L150.3 92.6 L152.1 91.0 L153.9 89.4 L155.8 87.9 L157.6 86.3 L159.4 84.7 L161.3 83.2 L163.1 81.6 L165.0 80.0 L166.8 78.4 L168.6 76.8 L170.5 75.3 L172.3 73.7 L174.1 72.1 L175.9 70.5 L177.8 68.9 L179.6 67.4 L181.4 65.8 L183.2 64.2 L185.1 62.6 L186.9 61.0 L188.7 59.4 L190.5 57.8 L192.3 56.2 L194.1 54.6 L195.9 52.9 L197.8 51.3 L199.6 49.7 L201.4 48.1 L203.2 46.5 L204.9 44.8 L206.7 43.2 L208.5 41.6 L210.3 39.9 L212.1 38.3 L213.9 36.7 L215.8 35.1 L217.6 33.5 L219.4 31.9 L221.2 30.3 L223.1 28.7 L224.9 27.1 L226.8 25.6 L228.7 24.0 L230.5 22.5 L232.4 21.0 L234.4 19.5 L236.3 18.0 L238.2 16.6 L240.2 15.1 L242.2 13.7 L244.2 12.4 L246.2 11.0 L248.3 9.8 L250.4 8.5 L252.5 7.4 L254.6 6.4 L256.8 5.4 L259.0 4.6 L261.2 3.8 L263.4 3.1 L265.7 2.6 L268.0 2.1 L270.3 1.7 L272.7 1.4 L275.0 1.2 L277.4 1.1 L279.8 1.0 L282.2 1.1 L284.6 1.2 L287.0 1.4 L289.4 1.7 L291.8 2.0 L294.2 2.4 L296.6 2.9 L298.9 3.5 L301.3 4.1 L303.7 4.8 L306.1 5.6 L308.4 6.4 L310.7 7.3 L313.1 8.2 L315.3 9.2 L317.6 10.2 L319.9 11.3 L322.1 12.5 L324.3 13.7 L326.4 14.9 L328.5 16.2 L330.6 17.6 L332.7 19.0 L334.7 20.4 L336.6 21.9 L338.5 23.4 L340.4 24.9 L342.2 26.5 L344.0 28.1 L345.7 29.7 L347.4 31.4 L349.1 33.1 L350.6 34.8 L352.2 36.6 L353.7 38.4 L355.1 40.2 L356.5 42.1 L357.9 44.0 L359.2 45.9 L360.4 47.9 L361.7 49.9 L362.8 51.9 L364.0 53.9 L365.1 56.0 L366.1 58.1 L367.1 60.3 L368.1 62.5 L369.0 64.7 L369.9 66.9 L370.7 69.2 L371.5 71.5 L372.3 73.8 L373.0 76.2 L373.7 78.6 L374.4 81.0 L375.0 83.5 L375.5 85.9 L376.1 88.4 L376.5 90.9 L376.9 93.4 L377.3 95.9 L377.6 98.4 L377.8 101.0 L377.9 103.5 L378.0 105.9 L378.0 108.4 L377.9 110.9 L377.7 113.3 L377.5 115.7 L377.1 118.1 L376.7 120.4 L376.1 122.7 L375.5 125.0 L374.8 127.2 L373.9 129.3 L372.9 131.4 L371.8 133.5 L370.6 135.5 L369.3 137.4 L367.9 139.3 L366.5 141.1 L364.9 142.8 L363.3 144.6 L361.6 146.3 L359.8 147.9 L358.0 149.5 L356.2 151.1 L354.3 152.7 L352.4 154.2 L350.4 155.7 L348.5 157.2 L346.5 158.7 L344.6 160.1 L342.6 161.6 L340.7 163.1 L338.7 164.5 L336.8 166.0 L334.9 167.5 L333.0 169.0 L331.1 170.6 L329.2 172.1 L327.4 173.7 L325.6 175.3 L323.8 176.9 L322.0 178.6 L320.2 180.2 L318.5 181.9 L316.7 183.5 L315.0 185.2 L313.2 186.9 L311.5 188.6 L309.8 190.3 L308.1 192.0 L306.4 193.7 L304.6 195.4 L302.9 197.1 L301.2 198.8 L299.5 200.5 L297.8 202.2 L296.1 203.8 L294.3 205.5 L292.6 207.2 L290.8 208.9 L289.1 210.5 L287.3 212.2 L285.5 213.8 L283.7 215.4 L281.9 217.0 L280.1 218.6 L278.3 220.2 L276.4 221.8 L274.6 223.4 L272.7 224.9 L270.9 226.5 L269.0 228.0 L267.1 229.6 L265.3 231.1 L263.4 232.7 L261.5 234.2 L259.6 235.7 L257.7 237.2 L255.8 238.8 L254.0 240.3 L252.1 241.8 L250.2 243.3 L248.3 244.9 L246.4 246.4 L244.6 247.9 L242.7 249.5 L240.8 251.0 L239.0 252.6 L237.1 254.1 L235.3 255.7 L233.5 257.3 L231.6 258.9 L229.8 260.5 L228.0 262.1 L226.2 263.7 L224.4 265.3 L222.7 266.9 L220.9 268.5 L219.1 270.2 L217.3 271.8 L215.6 273.4 L213.8 275.1 L212.0 276.7 L210.3 278.4 L208.5 280.0 L206.7 281.7 L204.9 283.3 L203.1 285.0 L201.3 286.6 L199.5 288.2 L197.7 289.9 L195.9 291.5 L194.1 293.1 L192.2 294.8 L190.4 296.4 L188.5 298.0 L186.6 299.5 L184.7 301.1 L182.7 302.6 L180.8 304.0 L178.8 305.4 L176.7 306.7 L174.7 307.9 L172.6 309.0 L170.5 310.0 L168.3 311.0 L166.1 311.8 L163.9 312.6 L161.7 313.2 L159.4 313.8 L157.1 314.3 L154.8 314.7 L152.5 315.0 L150.1 315.3 L147.7 315.5 L145.4 315.5 L143.0 315.6 L140.6 315.5 L138.2 315.4 L135.8 315.2 L133.4 314.9 L131.0 314.5 L128.6 314.1 L126.2 313.6 L123.8 313.1 L121.4 312.5 L119.1 311.8 L116.7 311.1 L114.4 310.3 L112.0 309.4 L109.7 308.5 L107.4 307.5 L105.2 306.5 L102.9 305.4 L100.7 304.3 L98.5 303.1 L96.4 301.9 L94.3 300.6 L92.2 299.3 L90.1 298.0 L88.1 296.5 L86.1 295.1 L84.2 293.6 L82.3 292.1 L80.5 290.5 L78.7 288.9 L77.0 287.3 L75.3 285.6 L73.6 283.9 L72.0 282.1 L70.5 280.4 L69.0 278.5 L67.5 276.7 L66.1 274.8 L64.8 272.9 L63.5 270.9 L62.2 268.9 L61.0 266.9 L59.8 264.8 L58.7 262.7 L57.6 260.5 L56.6 258.4 L55.6 256.1 L54.7 253.9 L53.8 251.6 L52.9 249.3 L52.1 247.0 L51.3 244.6 L50.5 242.3 L49.7 239.9 L49.0 237.6 L48.3 235.2 L47.6 232.9 L47.0 230.5 L46.4 228.2 L45.8 225.8 L45.4 223.5Z" fill="url(#gA)" opacity="0.18"/>
<ellipse cx="301.6" cy="85.2" rx="89.5" ry="68.0" transform="rotate(49.2 301.6 85.2)" fill="#ffffff" opacity="0.12" clip-path="url(#silA)"/>
<g clip-path="url(#rimA)"><ellipse cx="122.2" cy="235.0" rx="89.5" ry="68.0" transform="rotate(49.2 122.2 235.0)" fill="#e2e3e5" opacity="0.85"/><g filter="url(#soft)" stroke="#861630" stroke-width="1"><ellipse cx="207.2" cy="214.6" rx="17.7" ry="16.6" transform="rotate(29 207.2 214.6)" fill="url(#dk1)"/><ellipse cx="169.9" cy="176.1" rx="14.2" ry="13.3" transform="rotate(9 169.9 176.1)" fill="url(#dk3)"/><ellipse cx="179.5" cy="187.6" rx="17.2" ry="11.5" transform="rotate(106 179.5 187.6)" fill="url(#dk3)"/><ellipse cx="139.8" cy="145.9" rx="15.3" ry="8.6" transform="rotate(59 139.8 145.9)" fill="url(#dk0)"/><ellipse cx="153.4" cy="167.9" rx="16.3" ry="11.1" transform="rotate(71 153.4 167.9)" fill="url(#dk1)"/><ellipse cx="213.0" cy="238.4" rx="14.7" ry="11.0" transform="rotate(72 213.0 238.4)" fill="url(#dk0)"/><ellipse cx="200.3" cy="227.6" rx="16.6" ry="11.2" transform="rotate(142 200.3 227.6)" fill="url(#dk3)"/><ellipse cx="183.4" cy="208.4" rx="17.6" ry="15.8" transform="rotate(125 183.4 208.4)" fill="url(#dk0)"/><ellipse cx="140.5" cy="161.1" rx="15.7" ry="14.0" transform="rotate(44 140.5 161.1)" fill="url(#dk0)"/><ellipse cx="161.5" cy="200.2" rx="17.9" ry="12.0" transform="rotate(141 161.5 200.2)" fill="url(#dk3)"/><ellipse cx="148.1" cy="189.4" rx="15.2" ry="11.6" transform="rotate(73 148.1 189.4)" fill="url(#dk1)"/><ellipse cx="117.8" cy="154.8" rx="14.4" ry="10.8" transform="rotate(143 117.8 154.8)" fill="url(#dk1)"/><ellipse cx="192.3" cy="241.8" rx="14.9" ry="10.5" transform="rotate(174 192.3 241.8)" fill="url(#dk1)"/><ellipse cx="177.6" cy="228.4" rx="16.6" ry="13.1" transform="rotate(66 177.6 228.4)" fill="url(#dk0)"/><ellipse cx="124.1" cy="168.7" rx="15.0" ry="12.2" transform="rotate(105 124.1 168.7)" fill="url(#dk3)"/><ellipse cx="133.8" cy="182.6" rx="15.5" ry="8.7" transform="rotate(151 133.8 182.6)" fill="url(#dk3)"/><ellipse cx="163.1" cy="219.7" rx="17.2" ry="11.5" transform="rotate(37 163.1 219.7)" fill="url(#dk1)"/><ellipse cx="193.3" cy="262.0" rx="15.3" ry="14.2" transform="rotate(161 193.3 262.0)" fill="url(#dk3)"/><ellipse cx="104.1" cy="162.2" rx="16.8" ry="14.0" transform="rotate(114 104.1 162.2)" fill="url(#dk3)"/><ellipse cx="177.9" cy="249.6" rx="18.1" ry="11.5" transform="rotate(61 177.9 249.6)" fill="url(#dk3)"/><ellipse cx="167.0" cy="239.8" rx="16.4" ry="13.2" transform="rotate(66 167.0 239.8)" fill="url(#dk1)"/><ellipse cx="147.3" cy="217.5" rx="17.8" ry="11.6" transform="rotate(38 147.3 217.5)" fill="url(#dk3)"/><ellipse cx="137.2" cy="206.6" rx="15.0" ry="10.7" transform="rotate(157 137.2 206.6)" fill="url(#dk3)"/><ellipse cx="113.5" cy="179.6" rx="16.3" ry="9.1" transform="rotate(165 113.5 179.6)" fill="url(#dk1)"/><ellipse cx="154.1" cy="231.9" rx="13.5" ry="12.3" transform="rotate(32 154.1 231.9)" fill="url(#dk3)"/><ellipse cx="178.3" cy="264.4" rx="18.4" ry="14.1" transform="rotate(110 178.3 264.4)" fill="url(#dk3)"/><ellipse cx="122.9" cy="202.4" rx="18.4" ry="12.1" transform="rotate(10 122.9 202.4)" fill="url(#dk1)"/><ellipse cx="93.8" cy="177.9" rx="18.5" ry="14.5" transform="rotate(158 93.8 177.9)" fill="url(#dk1)"/><ellipse cx="108.6" cy="198.1" rx="13.6" ry="12.0" transform="rotate(88 108.6 198.1)" fill="url(#dk3)"/><ellipse cx="133.8" cy="227.9" rx="18.6" ry="16.2" transform="rotate(68 133.8 227.9)" fill="url(#dk3)"/><ellipse cx="151.6" cy="253.7" rx="14.6" ry="12.8" transform="rotate(126 151.6 253.7)" fill="url(#dk3)"/><ellipse cx="112.6" cy="213.0" rx="17.5" ry="10.4" transform="rotate(79 112.6 213.0)" fill="url(#dk1)"/><ellipse cx="93.6" cy="194.3" rx="14.7" ry="12.2" transform="rotate(92 93.6 194.3)" fill="url(#dk0)"/><ellipse cx="155.7" cy="267.8" rx="14.6" ry="10.4" transform="rotate(67 155.7 267.8)" fill="url(#dk1)"/><ellipse cx="133.3" cy="245.0" rx="17.1" ry="9.5" transform="rotate(99 133.3 245.0)" fill="url(#dk3)"/><ellipse cx="97.9" cy="213.8" rx="16.3" ry="15.4" transform="rotate(93 97.9 213.8)" fill="url(#dk1)"/><ellipse cx="110.8" cy="236.9" rx="17.5" ry="12.7" transform="rotate(89 110.8 236.9)" fill="url(#dk1)"/><ellipse cx="119.7" cy="250.3" rx="17.0" ry="13.1" transform="rotate(37 119.7 250.3)" fill="url(#dk1)"/></g></g>
<ellipse cx="124" cy="159" rx="14" ry="5" transform="rotate(-62 124 159)" fill="url(#bf)" stroke="#2f5590" stroke-width="0.8"/><ellipse cx="76" cy="190" rx="4.5" ry="11" transform="rotate(15 76 190)" fill="url(#bf)" stroke="#2f5590" stroke-width="0.8"/><ellipse cx="92" cy="199" rx="5" ry="5" transform="rotate(0 92 199)" fill="url(#bf)" stroke="#2f5590" stroke-width="0.8"/><ellipse cx="165" cy="291" rx="7" ry="10" transform="rotate(20 165 291)" fill="url(#bf)" stroke="#2f5590" stroke-width="0.8"/>
<ellipse cx="337" cy="34" rx="19" ry="12.5" transform="rotate(15 337 34)" fill="#c42c48"/>
<ellipse cx="337" cy="34" rx="19" ry="12.5" transform="rotate(15 337 34)" fill="#d99aa8" stroke="#b77486" stroke-width="0.8" clip-path="url(#silA)"/>
<text transform="translate(63.5 55) scale(0.955 1)" font-family="Liberation Sans" font-size="50" fill="#000">A</text>
<linearGradient id="gB" gradientUnits="userSpaceOnUse" x1="483.0" y1="119.1" x2="602.3" y2="255.4"><stop offset="0" stop-color="#a8a8a9"/><stop offset="0.045" stop-color="#c8c8c9"/><stop offset="0.1" stop-color="#d0d0d1"/><stop offset="0.2" stop-color="#d7d7d8"/><stop offset="0.5" stop-color="#dddddf"/><stop offset="0.8" stop-color="#d7d7d8"/><stop offset="0.9" stop-color="#cfcfd0"/><stop offset="0.955" stop-color="#c6c6c7"/><stop offset="1" stop-color="#a8a8a9"/></linearGradient>
<clipPath id="rimB"><ellipse cx="485.2" cy="235.5" rx="89.5" ry="68.0" transform="rotate(49.2 485.2 235.5)"/></clipPath>
<clipPath id="silB"><path d="M408.0 221.6 L407.8 219.2 L407.6 216.8 L407.5 214.5 L407.5 212.1 L407.6 209.7 L407.8 207.3 L408.1 204.9 L408.5 202.5 L408.9 200.2 L409.4 197.8 L410.1 195.5 L410.7 193.2 L411.5 190.9 L412.4 188.6 L413.3 186.3 L414.3 184.1 L415.3 182.0 L416.5 179.8 L417.7 177.7 L418.9 175.6 L420.3 173.6 L421.7 171.6 L423.1 169.7 L424.7 167.8 L426.3 166.0 L427.9 164.3 L429.6 162.6 L431.3 160.9 L433.2 159.3 L435.0 157.8 L436.9 156.3 L438.8 154.9 L440.8 153.5 L442.8 152.1 L444.8 150.7 L446.8 149.4 L448.8 148.0 L450.8 146.7 L452.8 145.3 L454.7 143.9 L456.7 142.5 L458.6 141.0 L460.5 139.6 L462.4 138.0 L464.2 136.4 L466.0 134.8 L467.8 133.2 L469.6 131.6 L471.4 129.9 L473.2 128.2 L475.0 126.6 L476.7 125.0 L478.5 123.3 L480.3 121.7 L482.1 120.1 L484.0 118.5 L485.8 116.9 L487.6 115.3 L489.4 113.7 L491.2 112.1 L493.1 110.5 L494.9 108.9 L496.7 107.3 L498.6 105.7 L500.4 104.1 L502.2 102.6 L504.1 101.0 L505.9 99.4 L507.7 97.8 L509.6 96.2 L511.4 94.7 L513.3 93.1 L515.1 91.5 L516.9 89.9 L518.8 88.4 L520.6 86.8 L522.4 85.2 L524.3 83.7 L526.1 82.1 L528.0 80.5 L529.8 78.9 L531.6 77.3 L533.5 75.8 L535.3 74.2 L537.1 72.6 L538.9 71.0 L540.8 69.4 L542.6 67.9 L544.4 66.3 L546.2 64.7 L548.1 63.1 L549.9 61.5 L551.7 59.9 L553.5 58.3 L555.3 56.7 L557.1 55.1 L558.9 53.4 L560.8 51.8 L562.6 50.2 L564.4 48.6 L566.2 47.0 L567.9 45.3 L569.7 43.7 L571.5 42.1 L573.3 40.4 L575.1 38.8 L576.9 37.2 L578.8 35.6 L580.6 34.0 L582.4 32.4 L584.2 30.8 L586.1 29.2 L587.9 27.6 L589.8 26.1 L591.7 24.5 L593.5 23.0 L595.4 21.5 L597.4 20.0 L599.3 18.5 L601.2 17.1 L603.2 15.6 L605.2 14.2 L607.2 12.9 L609.2 11.5 L611.3 10.3 L613.4 9.0 L615.5 7.9 L617.6 6.9 L619.8 5.9 L622.0 5.1 L624.2 4.3 L626.4 3.6 L628.7 3.1 L631.0 2.6 L633.3 2.2 L635.7 1.9 L638.0 1.7 L640.4 1.6 L642.8 1.5 L645.2 1.6 L647.6 1.7 L650.0 1.9 L652.4 2.2 L654.8 2.5 L657.2 2.9 L659.6 3.4 L661.9 4.0 L664.3 4.6 L666.7 5.3 L669.1 6.1 L671.4 6.9 L673.7 7.8 L676.1 8.7 L678.3 9.7 L680.6 10.7 L682.9 11.8 L685.1 13.0 L687.3 14.2 L689.4 15.4 L691.5 16.7 L693.6 18.1 L695.7 19.5 L697.7 20.9 L699.6 22.4 L701.5 23.9 L703.4 25.4 L705.2 27.0 L707.0 28.6 L708.7 30.2 L710.4 31.9 L712.1 33.6 L713.6 35.3 L715.2 37.1 L716.7 38.9 L718.1 40.7 L719.5 42.6 L720.9 44.5 L722.2 46.4 L723.4 48.4 L724.7 50.4 L725.8 52.4 L727.0 54.4 L728.1 56.5 L729.1 58.6 L730.1 60.8 L731.1 63.0 L732.0 65.2 L732.9 67.4 L733.7 69.7 L734.5 72.0 L735.3 74.3 L736.0 76.7 L736.7 79.1 L737.4 81.5 L738.0 84.0 L738.5 86.4 L739.1 88.9 L739.5 91.4 L739.9 93.9 L740.3 96.4 L740.6 98.9 L740.8 101.5 L740.9 104.0 L741.0 106.4 L741.0 108.9 L740.9 111.4 L740.7 113.8 L740.5 116.2 L740.1 118.6 L739.7 120.9 L739.1 123.2 L738.5 125.5 L737.8 127.7 L736.9 129.8 L735.9 131.9 L734.8 134.0 L733.6 136.0 L732.3 137.9 L730.9 139.8 L729.5 141.6 L727.9 143.3 L726.3 145.1 L724.6 146.8 L722.8 148.4 L721.0 150.0 L719.2 151.6 L717.3 153.2 L715.4 154.7 L713.4 156.2 L711.5 157.7 L709.5 159.2 L707.6 160.6 L705.6 162.1 L703.7 163.6 L701.7 165.0 L699.8 166.5 L697.9 168.0 L696.0 169.5 L694.1 171.1 L692.2 172.6 L690.4 174.2 L688.6 175.8 L686.8 177.4 L685.0 179.1 L683.2 180.7 L681.5 182.4 L679.7 184.0 L678.0 185.7 L676.2 187.4 L674.5 189.1 L672.8 190.8 L671.1 192.5 L669.4 194.2 L667.6 195.9 L665.9 197.6 L664.2 199.3 L662.5 201.0 L660.8 202.7 L659.1 204.3 L657.3 206.0 L655.6 207.7 L653.8 209.4 L652.1 211.0 L650.3 212.7 L648.5 214.3 L646.7 215.9 L644.9 217.5 L643.1 219.1 L641.3 220.7 L639.4 222.3 L637.6 223.9 L635.7 225.4 L633.9 227.0 L632.0 228.5 L630.1 230.1 L628.3 231.6 L626.4 233.2 L624.5 234.7 L622.6 236.2 L620.7 237.7 L618.8 239.3 L617.0 240.8 L615.1 242.3 L613.2 243.8 L611.3 245.4 L609.4 246.9 L607.6 248.4 L605.7 250.0 L603.8 251.5 L602.0 253.1 L600.1 254.6 L598.3 256.2 L596.5 257.8 L594.6 259.4 L592.8 261.0 L591.0 262.6 L589.2 264.2 L587.4 265.8 L585.7 267.4 L583.9 269.0 L582.1 270.7 L580.3 272.3 L578.6 273.9 L576.8 275.6 L575.0 277.2 L573.3 278.9 L571.5 280.5 L569.7 282.2 L567.9 283.8 L566.1 285.5 L564.3 287.1 L562.5 288.7 L560.7 290.4 L558.9 292.0 L557.1 293.6 L555.2 295.3 L553.4 296.9 L551.5 298.5 L549.6 300.0 L547.7 301.6 L545.7 303.1 L543.8 304.5 L541.8 305.9 L539.7 307.2 L537.7 308.4 L535.6 309.5 L533.5 310.5 L531.3 311.5 L529.1 312.3 L526.9 313.1 L524.7 313.7 L522.4 314.3 L520.1 314.8 L517.8 315.2 L515.5 315.5 L513.1 315.8 L510.7 316.0 L508.4 316.0 L506.0 316.1 L503.6 316.0 L501.2 315.9 L498.8 315.7 L496.4 315.4 L494.0 315.0 L491.6 314.6 L489.2 314.1 L486.8 313.6 L484.4 313.0 L482.1 312.3 L479.7 311.6 L477.4 310.8 L475.0 309.9 L472.7 309.0 L470.4 308.0 L468.2 307.0 L465.9 305.9 L463.7 304.8 L461.5 303.6 L459.4 302.4 L457.3 301.1 L455.2 299.8 L453.1 298.5 L451.1 297.0 L449.1 295.6 L447.2 294.1 L445.3 292.6 L443.5 291.0 L441.7 289.4 L440.0 287.8 L438.3 286.1 L436.6 284.4 L435.0 282.6 L433.5 280.9 L432.0 279.0 L430.5 277.2 L429.1 275.3 L427.8 273.4 L426.5 271.4 L425.2 269.4 L424.0 267.4 L422.8 265.3 L421.7 263.2 L420.6 261.0 L419.6 258.9 L418.6 256.6 L417.7 254.4 L416.8 252.1 L415.9 249.8 L415.1 247.5 L414.3 245.1 L413.5 242.8 L412.7 240.4 L412.0 238.1 L411.3 235.7 L410.6 233.4 L410.0 231.0 L409.4 228.7 L408.8 226.3 L408.4 224.0Z"/></clipPath>
<path d="M408.0 221.6 L407.8 219.2 L407.6 216.8 L407.5 214.5 L407.5 212.1 L407.6 209.7 L407.8 207.3 L408.1 204.9 L408.5 202.5 L408.9 200.2 L409.4 197.8 L410.1 195.5 L410.7 193.2 L411.5 190.9 L412.4 188.6 L413.3 186.3 L414.3 184.1 L415.3 182.0 L416.5 179.8 L417.7 177.7 L418.9 175.6 L420.3 173.6 L421.7 171.6 L423.1 169.7 L424.7 167.8 L426.3 166.0 L427.9 164.3 L429.6 162.6 L431.3 160.9 L433.2 159.3 L435.0 157.8 L436.9 156.3 L438.8 154.9 L440.8 153.5 L442.8 152.1 L444.8 150.7 L446.8 149.4 L448.8 148.0 L450.8 146.7 L452.8 145.3 L454.7 143.9 L456.7 142.5 L458.6 141.0 L460.5 139.6 L462.4 138.0 L464.2 136.4 L466.0 134.8 L467.8 133.2 L469.6 131.6 L471.4 129.9 L473.2 128.2 L475.0 126.6 L476.7 125.0 L478.5 123.3 L480.3 121.7 L482.1 120.1 L484.0 118.5 L485.8 116.9 L487.6 115.3 L489.4 113.7 L491.2 112.1 L493.1 110.5 L494.9 108.9 L496.7 107.3 L498.6 105.7 L500.4 104.1 L502.2 102.6 L504.1 101.0 L505.9 99.4 L507.7 97.8 L509.6 96.2 L511.4 94.7 L513.3 93.1 L515.1 91.5 L516.9 89.9 L518.8 88.4 L520.6 86.8 L522.4 85.2 L524.3 83.7 L526.1 82.1 L528.0 80.5 L529.8 78.9 L531.6 77.3 L533.5 75.8 L535.3 74.2 L537.1 72.6 L538.9 71.0 L540.8 69.4 L542.6 67.9 L544.4 66.3 L546.2 64.7 L548.1 63.1 L549.9 61.5 L551.7 59.9 L553.5 58.3 L555.3 56.7 L557.1 55.1 L558.9 53.4 L560.8 51.8 L562.6 50.2 L564.4 48.6 L566.2 47.0 L567.9 45.3 L569.7 43.7 L571.5 42.1 L573.3 40.4 L575.1 38.8 L576.9 37.2 L578.8 35.6 L580.6 34.0 L582.4 32.4 L584.2 30.8 L586.1 29.2 L587.9 27.6 L589.8 26.1 L591.7 24.5 L593.5 23.0 L595.4 21.5 L597.4 20.0 L599.3 18.5 L601.2 17.1 L603.2 15.6 L605.2 14.2 L607.2 12.9 L609.2 11.5 L611.3 10.3 L613.4 9.0 L615.5 7.9 L617.6 6.9 L619.8 5.9 L622.0 5.1 L624.2 4.3 L626.4 3.6 L628.7 3.1 L631.0 2.6 L633.3 2.2 L635.7 1.9 L638.0 1.7 L640.4 1.6 L642.8 1.5 L645.2 1.6 L647.6 1.7 L650.0 1.9 L652.4 2.2 L654.8 2.5 L657.2 2.9 L659.6 3.4 L661.9 4.0 L664.3 4.6 L666.7 5.3 L669.1 6.1 L671.4 6.9 L673.7 7.8 L676.1 8.7 L678.3 9.7 L680.6 10.7 L682.9 11.8 L685.1 13.0 L687.3 14.2 L689.4 15.4 L691.5 16.7 L693.6 18.1 L695.7 19.5 L697.7 20.9 L699.6 22.4 L701.5 23.9 L703.4 25.4 L705.2 27.0 L707.0 28.6 L708.7 30.2 L710.4 31.9 L712.1 33.6 L713.6 35.3 L715.2 37.1 L716.7 38.9 L718.1 40.7 L719.5 42.6 L720.9 44.5 L722.2 46.4 L723.4 48.4 L724.7 50.4 L725.8 52.4 L727.0 54.4 L728.1 56.5 L729.1 58.6 L730.1 60.8 L731.1 63.0 L732.0 65.2 L732.9 67.4 L733.7 69.7 L734.5 72.0 L735.3 74.3 L736.0 76.7 L736.7 79.1 L737.4 81.5 L738.0 84.0 L738.5 86.4 L739.1 88.9 L739.5 91.4 L739.9 93.9 L740.3 96.4 L740.6 98.9 L740.8 101.5 L740.9 104.0 L741.0 106.4 L741.0 108.9 L740.9 111.4 L740.7 113.8 L740.5 116.2 L740.1 118.6 L739.7 120.9 L739.1 123.2 L738.5 125.5 L737.8 127.7 L736.9 129.8 L735.9 131.9 L734.8 134.0 L733.6 136.0 L732.3 137.9 L730.9 139.8 L729.5 141.6 L727.9 143.3 L726.3 145.1 L724.6 146.8 L722.8 148.4 L721.0 150.0 L719.2 151.6 L717.3 153.2 L715.4 154.7 L713.4 156.2 L711.5 157.7 L709.5 159.2 L707.6 160.6 L705.6 162.1 L703.7 163.6 L701.7 165.0 L699.8 166.5 L697.9 168.0 L696.0 169.5 L694.1 171.1 L692.2 172.6 L690.4 174.2 L688.6 175.8 L686.8 177.4 L685.0 179.1 L683.2 180.7 L681.5 182.4 L679.7 184.0 L678.0 185.7 L676.2 187.4 L674.5 189.1 L672.8 190.8 L671.1 192.5 L669.4 194.2 L667.6 195.9 L665.9 197.6 L664.2 199.3 L662.5 201.0 L660.8 202.7 L659.1 204.3 L657.3 206.0 L655.6 207.7 L653.8 209.4 L652.1 211.0 L650.3 212.7 L648.5 214.3 L646.7 215.9 L644.9 217.5 L643.1 219.1 L641.3 220.7 L639.4 222.3 L637.6 223.9 L635.7 225.4 L633.9 227.0 L632.0 228.5 L630.1 230.1 L628.3 231.6 L626.4 233.2 L624.5 234.7 L622.6 236.2 L620.7 237.7 L618.8 239.3 L617.0 240.8 L615.1 242.3 L613.2 243.8 L611.3 245.4 L609.4 246.9 L607.6 248.4 L605.7 250.0 L603.8 251.5 L602.0 253.1 L600.1 254.6 L598.3 256.2 L596.5 257.8 L594.6 259.4 L592.8 261.0 L591.0 262.6 L589.2 264.2 L587.4 265.8 L585.7 267.4 L583.9 269.0 L582.1 270.7 L580.3 272.3 L578.6 273.9 L576.8 275.6 L575.0 277.2 L573.3 278.9 L571.5 280.5 L569.7 282.2 L567.9 283.8 L566.1 285.5 L564.3 287.1 L562.5 288.7 L560.7 290.4 L558.9 292.0 L557.1 293.6 L555.2 295.3 L553.4 296.9 L551.5 298.5 L549.6 300.0 L547.7 301.6 L545.7 303.1 L543.8 304.5 L541.8 305.9 L539.7 307.2 L537.7 308.4 L535.6 309.5 L533.5 310.5 L531.3 311.5 L529.1 312.3 L526.9 313.1 L524.7 313.7 L522.4 314.3 L520.1 314.8 L517.8 315.2 L515.5 315.5 L513.1 315.8 L510.7 316.0 L508.4 316.0 L506.0 316.1 L503.6 316.0 L501.2 315.9 L498.8 315.7 L496.4 315.4 L494.0 315.0 L491.6 314.6 L489.2 314.1 L486.8 313.6 L484.4 313.0 L482.1 312.3 L479.7 311.6 L477.4 310.8 L475.0 309.9 L472.7 309.0 L470.4 308.0 L468.2 307.0 L465.9 305.9 L463.7 304.8 L461.5 303.6 L459.4 302.4 L457.3 301.1 L455.2 299.8 L453.1 298.5 L451.1 297.0 L449.1 295.6 L447.2 294.1 L445.3 292.6 L443.5 291.0 L441.7 289.4 L440.0 287.8 L438.3 286.1 L436.6 284.4 L435.0 282.6 L433.5 280.9 L432.0 279.0 L430.5 277.2 L429.1 275.3 L427.8 273.4 L426.5 271.4 L425.2 269.4 L424.0 267.4 L422.8 265.3 L421.7 263.2 L420.6 261.0 L419.6 258.9 L418.6 256.6 L417.7 254.4 L416.8 252.1 L415.9 249.8 L415.1 247.5 L414.3 245.1 L413.5 242.8 L412.7 240.4 L412.0 238.1 L411.3 235.7 L410.6 233.4 L410.0 231.0 L409.4 228.7 L408.8 226.3 L408.4 224.0Z" fill="url(#gB)"/>
<ellipse cx="485.2" cy="235.5" rx="89.5" ry="68.0" transform="rotate(49.2 485.2 235.5)" fill="#e4e5e7"/>
<ellipse cx="664.6" cy="85.8" rx="89.5" ry="68.0" transform="rotate(49.2 664.6 85.8)" fill="#eaebec" opacity="0.85" clip-path="url(#silB)"/>
<g clip-path="url(#silB)"><g filter="url(#soft)" stroke="#86344e" stroke-width="1.1" stroke-opacity="0.85" fill-opacity="0.92"><ellipse cx="713.2" cy="57.5" rx="17.6" ry="9.4" transform="rotate(146 713.2 57.5)" fill="url(#pk0)"/><ellipse cx="716.0" cy="74.1" rx="19.7" ry="10.1" transform="rotate(0 716.0 74.1)" fill="url(#pk0)"/><ellipse cx="695.0" cy="51.1" rx="18.4" ry="16.2" transform="rotate(128 695.0 51.1)" fill="url(#pk1)"/><ellipse cx="679.8" cy="42.5" rx="18.5" ry="11.0" transform="rotate(140 679.8 42.5)" fill="url(#pk2)"/><ellipse cx="717.7" cy="93.9" rx="16.2" ry="9.6" transform="rotate(75 717.7 93.9)" fill="url(#pk0)"/><ellipse cx="691.0" cy="65.4" rx="19.2" ry="10.3" transform="rotate(150 691.0 65.4)" fill="url(#pk0)"/><ellipse cx="664.8" cy="41.9" rx="18.6" ry="11.5" transform="rotate(65 664.8 41.9)" fill="url(#pk2)"/><ellipse cx="703.4" cy="88.8" rx="15.1" ry="9.6" transform="rotate(30 703.4 88.8)" fill="url(#pk2)"/><ellipse cx="652.4" cy="29.7" rx="15.6" ry="12.0" transform="rotate(18 652.4 29.7)" fill="url(#pk0)"/><ellipse cx="671.2" cy="55.2" rx="15.4" ry="12.1" transform="rotate(48 671.2 55.2)" fill="url(#pk2)"/><ellipse cx="686.8" cy="81.3" rx="15.8" ry="8.2" transform="rotate(61 686.8 81.3)" fill="url(#pk1)"/><ellipse cx="712.5" cy="111.2" rx="17.0" ry="9.8" transform="rotate(123 712.5 111.2)" fill="url(#pk2)"/><ellipse cx="676.0" cy="69.0" rx="14.5" ry="11.3" transform="rotate(164 676.0 69.0)" fill="url(#pk2)"/><ellipse cx="638.2" cy="43.3" rx="17.4" ry="10.4" transform="rotate(151 638.2 43.3)" fill="url(#pk0)"/><ellipse cx="656.3" cy="65.3" rx="16.1" ry="9.0" transform="rotate(40 656.3 65.3)" fill="url(#pk0)"/><ellipse cx="675.0" cy="92.1" rx="17.1" ry="12.9" transform="rotate(126 675.0 92.1)" fill="url(#pk1)"/><ellipse cx="686.5" cy="106.7" rx="18.1" ry="16.5" transform="rotate(160 686.5 106.7)" fill="url(#pk0)"/><ellipse cx="705.3" cy="129.7" rx="20.0" ry="10.2" transform="rotate(37 705.3 129.7)" fill="url(#pk0)"/><ellipse cx="662.8" cy="81.6" rx="17.9" ry="13.8" transform="rotate(49 662.8 81.6)" fill="url(#pk1)"/><ellipse cx="693.2" cy="121.6" rx="15.8" ry="8.4" transform="rotate(48 693.2 121.6)" fill="url(#pk0)"/><ellipse cx="636.5" cy="63.1" rx="14.4" ry="13.5" transform="rotate(67 636.5 63.1)" fill="url(#pk1)"/><ellipse cx="616.0" cy="41.2" rx="18.6" ry="16.4" transform="rotate(40 616.0 41.2)" fill="url(#pk0)"/><ellipse cx="656.2" cy="97.7" rx="14.8" ry="10.4" transform="rotate(175 656.2 97.7)" fill="url(#pk1)"/><ellipse cx="689.1" cy="136.2" rx="15.9" ry="14.7" transform="rotate(61 689.1 136.2)" fill="url(#pk1)"/><ellipse cx="640.9" cy="83.3" rx="19.9" ry="14.2" transform="rotate(118 640.9 83.3)" fill="url(#pk2)"/><ellipse cx="667.3" cy="121.5" rx="16.6" ry="13.4" transform="rotate(106 667.3 121.5)" fill="url(#pk1)"/><ellipse cx="620.3" cy="67.9" rx="17.7" ry="16.1" transform="rotate(14 620.3 67.9)" fill="url(#pk2)"/><ellipse cx="598.8" cy="49.1" rx="17.9" ry="12.7" transform="rotate(23 598.8 49.1)" fill="url(#pk0)"/><ellipse cx="636.5" cy="100.4" rx="15.1" ry="13.5" transform="rotate(145 636.5 100.4)" fill="url(#pk0)"/><ellipse cx="647.9" cy="114.7" rx="18.6" ry="12.9" transform="rotate(22 647.9 114.7)" fill="url(#pk0)"/><ellipse cx="602.9" cy="64.0" rx="15.2" ry="9.4" transform="rotate(62 602.9 64.0)" fill="url(#pk1)"/><ellipse cx="619.7" cy="83.6" rx="17.9" ry="10.0" transform="rotate(155 619.7 83.6)" fill="url(#pk2)"/><ellipse cx="664.0" cy="138.0" rx="17.8" ry="14.8" transform="rotate(108 664.0 138.0)" fill="url(#pk1)"/><ellipse cx="677.6" cy="160.4" rx="19.2" ry="12.4" transform="rotate(32 677.6 160.4)" fill="url(#pk0)"/><ellipse cx="584.0" cy="57.1" rx="18.4" ry="13.0" transform="rotate(153 584.0 57.1)" fill="url(#pk1)"/><ellipse cx="650.0" cy="133.8" rx="15.4" ry="14.3" transform="rotate(16 650.0 133.8)" fill="url(#pk0)"/><ellipse cx="621.2" cy="102.2" rx="14.2" ry="12.2" transform="rotate(109 621.2 102.2)" fill="url(#pk1)"/><ellipse cx="632.8" cy="116.8" rx="17.1" ry="9.5" transform="rotate(33 632.8 116.8)" fill="url(#pk1)"/><ellipse cx="600.6" cy="83.2" rx="14.2" ry="13.3" transform="rotate(0 600.6 83.2)" fill="url(#pk1)"/><ellipse cx="588.4" cy="72.7" rx="19.1" ry="13.8" transform="rotate(42 588.4 72.7)" fill="url(#pk0)"/><ellipse cx="653.9" cy="152.8" rx="17.0" ry="15.7" transform="rotate(85 653.9 152.8)" fill="url(#pk1)"/><ellipse cx="602.7" cy="98.4" rx="15.4" ry="10.6" transform="rotate(31 602.7 98.4)" fill="url(#pk1)"/><ellipse cx="665.1" cy="174.4" rx="16.6" ry="10.7" transform="rotate(39 665.1 174.4)" fill="url(#pk1)"/><ellipse cx="626.7" cy="130.3" rx="15.0" ry="10.0" transform="rotate(79 626.7 130.3)" fill="url(#pk1)"/><ellipse cx="615.2" cy="118.1" rx="15.5" ry="9.8" transform="rotate(161 615.2 118.1)" fill="url(#pk0)"/><ellipse cx="637.2" cy="143.7" rx="18.0" ry="11.2" transform="rotate(132 637.2 143.7)" fill="url(#pk0)"/><ellipse cx="652.3" cy="167.3" rx="17.1" ry="14.3" transform="rotate(111 652.3 167.3)" fill="url(#pk1)"/><ellipse cx="581.0" cy="87.6" rx="15.9" ry="14.2" transform="rotate(49 581.0 87.6)" fill="url(#pk1)"/><ellipse cx="595.5" cy="111.3" rx="18.4" ry="13.5" transform="rotate(65 595.5 111.3)" fill="url(#pk3)"/><ellipse cx="567.5" cy="79.4" rx="17.1" ry="13.6" transform="rotate(19 567.5 79.4)" fill="url(#pk1)"/><ellipse cx="611.2" cy="133.9" rx="16.0" ry="10.5" transform="rotate(99 611.2 133.9)" fill="url(#pk1)"/><ellipse cx="630.2" cy="158.1" rx="14.1" ry="8.3" transform="rotate(65 630.2 158.1)" fill="url(#pk1)"/><ellipse cx="597.9" cy="126.4" rx="18.9" ry="13.0" transform="rotate(63 597.9 126.4)" fill="url(#pk1)"/><ellipse cx="568.4" cy="95.6" rx="14.8" ry="13.6" transform="rotate(107 568.4 95.6)" fill="url(#pk0)"/><ellipse cx="645.1" cy="190.4" rx="15.1" ry="8.5" transform="rotate(88 645.1 190.4)" fill="url(#pk1)"/><ellipse cx="615.6" cy="157.6" rx="15.8" ry="11.2" transform="rotate(36 615.6 157.6)" fill="url(#pk0)"/><ellipse cx="626.2" cy="172.0" rx="18.1" ry="15.8" transform="rotate(49 626.2 172.0)" fill="url(#pk0)"/><ellipse cx="582.5" cy="123.6" rx="17.2" ry="12.0" transform="rotate(158 582.5 123.6)" fill="url(#pk0)"/><ellipse cx="571.5" cy="112.7" rx="18.4" ry="12.2" transform="rotate(90 571.5 112.7)" fill="url(#pk0)"/><ellipse cx="628.6" cy="193.2" rx="19.9" ry="17.7" transform="rotate(7 628.6 193.2)" fill="url(#pk0)"/><ellipse cx="600.8" cy="161.9" rx="18.9" ry="15.0" transform="rotate(176 600.8 161.9)" fill="url(#pk0)"/><ellipse cx="590.8" cy="150.4" rx="16.0" ry="9.9" transform="rotate(131 590.8 150.4)" fill="url(#pk0)"/><ellipse cx="555.4" cy="112.3" rx="17.9" ry="11.2" transform="rotate(118 555.4 112.3)" fill="url(#pk0)"/><ellipse cx="613.4" cy="181.5" rx="18.2" ry="12.0" transform="rotate(100 613.4 181.5)" fill="url(#pk1)"/><ellipse cx="569.9" cy="138.6" rx="15.6" ry="14.7" transform="rotate(16 569.9 138.6)" fill="url(#pk0)"/><ellipse cx="576.2" cy="153.0" rx="16.7" ry="13.8" transform="rotate(18 576.2 153.0)" fill="url(#pk3)"/><ellipse cx="591.5" cy="173.7" rx="16.1" ry="11.0" transform="rotate(117 591.5 173.7)" fill="url(#pk3)"/><ellipse cx="619.4" cy="208.5" rx="17.6" ry="16.5" transform="rotate(93 619.4 208.5)" fill="url(#pk0)"/><ellipse cx="555.3" cy="135.5" rx="14.4" ry="10.9" transform="rotate(178 555.3 135.5)" fill="url(#pk0)"/><ellipse cx="539.3" cy="120.9" rx="15.3" ry="14.3" transform="rotate(46 539.3 120.9)" fill="url(#pk1)"/><ellipse cx="596.9" cy="189.6" rx="16.2" ry="13.6" transform="rotate(45 596.9 189.6)" fill="url(#pk1)"/><ellipse cx="605.5" cy="201.5" rx="15.7" ry="13.0" transform="rotate(9 605.5 201.5)" fill="url(#pk3)"/><ellipse cx="573.8" cy="168.8" rx="14.3" ry="11.2" transform="rotate(97 573.8 168.8)" fill="url(#pk0)"/><ellipse cx="559.9" cy="156.3" rx="19.4" ry="11.2" transform="rotate(67 559.9 156.3)" fill="url(#pk1)"/><ellipse cx="541.4" cy="139.7" rx="16.1" ry="11.9" transform="rotate(166 541.4 139.7)" fill="url(#pk1)"/><ellipse cx="577.2" cy="183.1" rx="15.7" ry="10.9" transform="rotate(101 577.2 183.1)" fill="url(#pk0)"/><ellipse cx="606.9" cy="218.6" rx="19.9" ry="17.2" transform="rotate(45 606.9 218.6)" fill="url(#pk3)"/><ellipse cx="522.3" cy="130.9" rx="14.5" ry="11.6" transform="rotate(145 522.3 130.9)" fill="url(#pk3)"/><ellipse cx="556.5" cy="174.1" rx="14.6" ry="7.5" transform="rotate(145 556.5 174.1)" fill="url(#pk1)"/><ellipse cx="580.3" cy="203.9" rx="17.2" ry="12.8" transform="rotate(37 580.3 203.9)" fill="url(#pk3)"/><ellipse cx="532.9" cy="154.2" rx="16.2" ry="13.6" transform="rotate(8 532.9 154.2)" fill="url(#pk1)"/><ellipse cx="593.4" cy="227.6" rx="19.9" ry="18.6" transform="rotate(165 593.4 227.6)" fill="url(#pk3)"/><ellipse cx="540.2" cy="170.5" rx="15.7" ry="13.2" transform="rotate(41 540.2 170.5)" fill="url(#pk1)"/><ellipse cx="506.5" cy="134.5" rx="17.2" ry="14.0" transform="rotate(35 506.5 134.5)" fill="url(#pk3)"/><ellipse cx="576.0" cy="219.3" rx="15.2" ry="13.1" transform="rotate(2 576.0 219.3)" fill="url(#pk3)"/><ellipse cx="547.3" cy="188.7" rx="18.1" ry="14.6" transform="rotate(135 547.3 188.7)" fill="url(#pk0)"/><ellipse cx="516.7" cy="157.1" rx="16.8" ry="12.9" transform="rotate(28 516.7 157.1)" fill="url(#pk1)"/><ellipse cx="558.2" cy="205.7" rx="15.1" ry="13.7" transform="rotate(7 558.2 205.7)" fill="url(#pk3)"/><ellipse cx="518.6" cy="172.7" rx="16.8" ry="14.4" transform="rotate(158 518.6 172.7)" fill="url(#pk0)"/><ellipse cx="497.6" cy="151.9" rx="16.2" ry="11.5" transform="rotate(15 497.6 151.9)" fill="url(#pk0)"/><ellipse cx="526.9" cy="192.1" rx="19.0" ry="15.9" transform="rotate(145 526.9 192.1)" fill="url(#pk3)"/><ellipse cx="504.4" cy="166.6" rx="15.1" ry="8.2" transform="rotate(117 504.4 166.6)" fill="url(#pk3)"/><ellipse cx="568.5" cy="241.8" rx="15.9" ry="11.3" transform="rotate(119 568.5 241.8)" fill="url(#pk1)"/><ellipse cx="483.7" cy="146.3" rx="15.3" ry="10.7" transform="rotate(124 483.7 146.3)" fill="url(#pk0)"/><ellipse cx="540.1" cy="212.7" rx="17.0" ry="13.8" transform="rotate(89 540.1 212.7)" fill="url(#pk3)"/><ellipse cx="555.2" cy="233.7" rx="15.0" ry="13.9" transform="rotate(48 555.2 233.7)" fill="url(#pk3)"/><ellipse cx="481.9" cy="160.7" rx="14.2" ry="12.5" transform="rotate(147 481.9 160.7)" fill="url(#pk3)"/><ellipse cx="524.5" cy="214.5" rx="19.6" ry="16.7" transform="rotate(50 524.5 214.5)" fill="url(#pk1)"/><ellipse cx="493.9" cy="180.7" rx="19.9" ry="14.3" transform="rotate(124 493.9 180.7)" fill="url(#pk1)"/><ellipse cx="550.1" cy="247.5" rx="15.4" ry="8.5" transform="rotate(103 550.1 247.5)" fill="url(#pk3)"/><ellipse cx="505.4" cy="198.1" rx="19.2" ry="14.5" transform="rotate(0 505.4 198.1)" fill="url(#pk3)"/><ellipse cx="524.9" cy="229.2" rx="16.7" ry="9.5" transform="rotate(115 524.9 229.2)" fill="url(#pk3)"/><ellipse cx="467.3" cy="170.7" rx="16.8" ry="13.4" transform="rotate(176 467.3 170.7)" fill="url(#pk3)"/><ellipse cx="483.3" cy="191.5" rx="14.3" ry="12.7" transform="rotate(162 483.3 191.5)" fill="url(#pk1)"/><ellipse cx="533.7" cy="251.2" rx="15.2" ry="11.5" transform="rotate(40 533.7 251.2)" fill="url(#pk0)"/><ellipse cx="502.6" cy="224.1" rx="14.8" ry="12.4" transform="rotate(35 502.6 224.1)" fill="url(#pk0)"/><ellipse cx="487.6" cy="208.5" rx="19.1" ry="9.6" transform="rotate(7 487.6 208.5)" fill="url(#pk1)"/><ellipse cx="461.3" cy="185.1" rx="15.8" ry="11.0" transform="rotate(97 461.3 185.1)" fill="url(#pk3)"/><ellipse cx="509.8" cy="243.4" rx="17.6" ry="15.8" transform="rotate(34 509.8 243.4)" fill="url(#pk3)"/><ellipse cx="519.5" cy="259.5" rx="17.8" ry="16.7" transform="rotate(125 519.5 259.5)" fill="url(#pk1)"/><ellipse cx="496.1" cy="238.4" rx="17.5" ry="13.0" transform="rotate(82 496.1 238.4)" fill="url(#pk3)"/><ellipse cx="483.4" cy="226.1" rx="17.7" ry="13.0" transform="rotate(151 483.4 226.1)" fill="url(#pk3)"/><ellipse cx="462.0" cy="204.8" rx="14.4" ry="13.1" transform="rotate(93 462.0 204.8)" fill="url(#pk1)"/><ellipse cx="470.1" cy="217.8" rx="14.3" ry="7.6" transform="rotate(171 470.1 217.8)" fill="url(#pk0)"/><ellipse cx="504.6" cy="258.1" rx="15.5" ry="13.7" transform="rotate(120 504.6 258.1)" fill="url(#pk1)"/><ellipse cx="481.8" cy="251.3" rx="16.4" ry="10.7" transform="rotate(78 481.8 251.3)" fill="url(#pk1)"/><ellipse cx="457.3" cy="227.2" rx="15.5" ry="12.4" transform="rotate(88 457.3 227.2)" fill="url(#pk1)"/><ellipse cx="465.6" cy="243.1" rx="17.6" ry="16.2" transform="rotate(162 465.6 243.1)" fill="url(#pk1)"/></g><circle cx="607.5" cy="34" r="13" fill="url(#bd)" stroke="#4d74a8" stroke-width="0.8"/><circle cx="673" cy="34" r="13" fill="url(#bd)" stroke="#4d74a8" stroke-width="0.8"/><circle cx="555" cy="90" r="10" fill="url(#bd)" stroke="#4d74a8" stroke-width="0.8"/><circle cx="517" cy="110" r="11" fill="url(#bd)" stroke="#4d74a8" stroke-width="0.8"/><circle cx="582" cy="110" r="12" fill="url(#bd)" stroke="#4d74a8" stroke-width="0.8"/><circle cx="652" cy="165" r="12" fill="url(#bd)" stroke="#4d74a8" stroke-width="0.8"/><ellipse cx="672" cy="174" rx="11" ry="4" transform="rotate(-5 672 174)" fill="url(#be)" stroke="#4d74a8" stroke-width="0.8"/><ellipse cx="587" cy="201" rx="11" ry="4.5" transform="rotate(0 587 201)" fill="url(#be)" stroke="#4d74a8" stroke-width="0.8"/><circle cx="563" cy="244" r="12" fill="url(#bd)" stroke="#4d74a8" stroke-width="0.8"/><ellipse cx="585" cy="248" rx="11" ry="4.5" transform="rotate(0 585 248)" fill="url(#be)" stroke="#4d74a8" stroke-width="0.8"/><ellipse cx="672" cy="123" rx="12" ry="5" transform="rotate(-10 672 123)" fill="url(#be)" stroke="#4d74a8" stroke-width="0.8"/></g>

<path d="M408.0 221.6 L407.8 219.2 L407.6 216.8 L407.5 214.5 L407.5 212.1 L407.6 209.7 L407.8 207.3 L408.1 204.9 L408.5 202.5 L408.9 200.2 L409.4 197.8 L410.1 195.5 L410.7 193.2 L411.5 190.9 L412.4 188.6 L413.3 186.3 L414.3 184.1 L415.3 182.0 L416.5 179.8 L417.7 177.7 L418.9 175.6 L420.3 173.6 L421.7 171.6 L423.1 169.7 L424.7 167.8 L426.3 166.0 L427.9 164.3 L429.6 162.6 L431.3 160.9 L433.2 159.3 L435.0 157.8 L436.9 156.3 L438.8 154.9 L440.8 153.5 L442.8 152.1 L444.8 150.7 L446.8 149.4 L448.8 148.0 L450.8 146.7 L452.8 145.3 L454.7 143.9 L456.7 142.5 L458.6 141.0 L460.5 139.6 L462.4 138.0 L464.2 136.4 L466.0 134.8 L467.8 133.2 L469.6 131.6 L471.4 129.9 L473.2 128.2 L475.0 126.6 L476.7 125.0 L478.5 123.3 L480.3 121.7 L482.1 120.1 L484.0 118.5 L485.8 116.9 L487.6 115.3 L489.4 113.7 L491.2 112.1 L493.1 110.5 L494.9 108.9 L496.7 107.3 L498.6 105.7 L500.4 104.1 L502.2 102.6 L504.1 101.0 L505.9 99.4 L507.7 97.8 L509.6 96.2 L511.4 94.7 L513.3 93.1 L515.1 91.5 L516.9 89.9 L518.8 88.4 L520.6 86.8 L522.4 85.2 L524.3 83.7 L526.1 82.1 L528.0 80.5 L529.8 78.9 L531.6 77.3 L533.5 75.8 L535.3 74.2 L537.1 72.6 L538.9 71.0 L540.8 69.4 L542.6 67.9 L544.4 66.3 L546.2 64.7 L548.1 63.1 L549.9 61.5 L551.7 59.9 L553.5 58.3 L555.3 56.7 L557.1 55.1 L558.9 53.4 L560.8 51.8 L562.6 50.2 L564.4 48.6 L566.2 47.0 L567.9 45.3 L569.7 43.7 L571.5 42.1 L573.3 40.4 L575.1 38.8 L576.9 37.2 L578.8 35.6 L580.6 34.0 L582.4 32.4 L584.2 30.8 L586.1 29.2 L587.9 27.6 L589.8 26.1 L591.7 24.5 L593.5 23.0 L595.4 21.5 L597.4 20.0 L599.3 18.5 L601.2 17.1 L603.2 15.6 L605.2 14.2 L607.2 12.9 L609.2 11.5 L611.3 10.3 L613.4 9.0 L615.5 7.9 L617.6 6.9 L619.8 5.9 L622.0 5.1 L624.2 4.3 L626.4 3.6 L628.7 3.1 L631.0 2.6 L633.3 2.2 L635.7 1.9 L638.0 1.7 L640.4 1.6 L642.8 1.5 L645.2 1.6 L647.6 1.7 L650.0 1.9 L652.4 2.2 L654.8 2.5 L657.2 2.9 L659.6 3.4 L661.9 4.0 L664.3 4.6 L666.7 5.3 L669.1 6.1 L671.4 6.9 L673.7 7.8 L676.1 8.7 L678.3 9.7 L680.6 10.7 L682.9 11.8 L685.1 13.0 L687.3 14.2 L689.4 15.4 L691.5 16.7 L693.6 18.1 L695.7 19.5 L697.7 20.9 L699.6 22.4 L701.5 23.9 L703.4 25.4 L705.2 27.0 L707.0 28.6 L708.7 30.2 L710.4 31.9 L712.1 33.6 L713.6 35.3 L715.2 37.1 L716.7 38.9 L718.1 40.7 L719.5 42.6 L720.9 44.5 L722.2 46.4 L723.4 48.4 L724.7 50.4 L725.8 52.4 L727.0 54.4 L728.1 56.5 L729.1 58.6 L730.1 60.8 L731.1 63.0 L732.0 65.2 L732.9 67.4 L733.7 69.7 L734.5 72.0 L735.3 74.3 L736.0 76.7 L736.7 79.1 L737.4 81.5 L738.0 84.0 L738.5 86.4 L739.1 88.9 L739.5 91.4 L739.9 93.9 L740.3 96.4 L740.6 98.9 L740.8 101.5 L740.9 104.0 L741.0 106.4 L741.0 108.9 L740.9 111.4 L740.7 113.8 L740.5 116.2 L740.1 118.6 L739.7 120.9 L739.1 123.2 L738.5 125.5 L737.8 127.7 L736.9 129.8 L735.9 131.9 L734.8 134.0 L733.6 136.0 L732.3 137.9 L730.9 139.8 L729.5 141.6 L727.9 143.3 L726.3 145.1 L724.6 146.8 L722.8 148.4 L721.0 150.0 L719.2 151.6 L717.3 153.2 L715.4 154.7 L713.4 156.2 L711.5 157.7 L709.5 159.2 L707.6 160.6 L705.6 162.1 L703.7 163.6 L701.7 165.0 L699.8 166.5 L697.9 168.0 L696.0 169.5 L694.1 171.1 L692.2 172.6 L690.4 174.2 L688.6 175.8 L686.8 177.4 L685.0 179.1 L683.2 180.7 L681.5 182.4 L679.7 184.0 L678.0 185.7 L676.2 187.4 L674.5 189.1 L672.8 190.8 L671.1 192.5 L669.4 194.2 L667.6 195.9 L665.9 197.6 L664.2 199.3 L662.5 201.0 L660.8 202.7 L659.1 204.3 L657.3 206.0 L655.6 207.7 L653.8 209.4 L652.1 211.0 L650.3 212.7 L648.5 214.3 L646.7 215.9 L644.9 217.5 L643.1 219.1 L641.3 220.7 L639.4 222.3 L637.6 223.9 L635.7 225.4 L633.9 227.0 L632.0 228.5 L630.1 230.1 L628.3 231.6 L626.4 233.2 L624.5 234.7 L622.6 236.2 L620.7 237.7 L618.8 239.3 L617.0 240.8 L615.1 242.3 L613.2 243.8 L611.3 245.4 L609.4 246.9 L607.6 248.4 L605.7 250.0 L603.8 251.5 L602.0 253.1 L600.1 254.6 L598.3 256.2 L596.5 257.8 L594.6 259.4 L592.8 261.0 L591.0 262.6 L589.2 264.2 L587.4 265.8 L585.7 267.4 L583.9 269.0 L582.1 270.7 L580.3 272.3 L578.6 273.9 L576.8 275.6 L575.0 277.2 L573.3 278.9 L571.5 280.5 L569.7 282.2 L567.9 283.8 L566.1 285.5 L564.3 287.1 L562.5 288.7 L560.7 290.4 L558.9 292.0 L557.1 293.6 L555.2 295.3 L553.4 296.9 L551.5 298.5 L549.6 300.0 L547.7 301.6 L545.7 303.1 L543.8 304.5 L541.8 305.9 L539.7 307.2 L537.7 308.4 L535.6 309.5 L533.5 310.5 L531.3 311.5 L529.1 312.3 L526.9 313.1 L524.7 313.7 L522.4 314.3 L520.1 314.8 L517.8 315.2 L515.5 315.5 L513.1 315.8 L510.7 316.0 L508.4 316.0 L506.0 316.1 L503.6 316.0 L501.2 315.9 L498.8 315.7 L496.4 315.4 L494.0 315.0 L491.6 314.6 L489.2 314.1 L486.8 313.6 L484.4 313.0 L482.1 312.3 L479.7 311.6 L477.4 310.8 L475.0 309.9 L472.7 309.0 L470.4 308.0 L468.2 307.0 L465.9 305.9 L463.7 304.8 L461.5 303.6 L459.4 302.4 L457.3 301.1 L455.2 299.8 L453.1 298.5 L451.1 297.0 L449.1 295.6 L447.2 294.1 L445.3 292.6 L443.5 291.0 L441.7 289.4 L440.0 287.8 L438.3 286.1 L436.6 284.4 L435.0 282.6 L433.5 280.9 L432.0 279.0 L430.5 277.2 L429.1 275.3 L427.8 273.4 L426.5 271.4 L425.2 269.4 L424.0 267.4 L422.8 265.3 L421.7 263.2 L420.6 261.0 L419.6 258.9 L418.6 256.6 L417.7 254.4 L416.8 252.1 L415.9 249.8 L415.1 247.5 L414.3 245.1 L413.5 242.8 L412.7 240.4 L412.0 238.1 L411.3 235.7 L410.6 233.4 L410.0 231.0 L409.4 228.7 L408.8 226.3 L408.4 224.0Z" fill="url(#gB)" opacity="0.18"/>
<ellipse cx="664.6" cy="85.8" rx="89.5" ry="68.0" transform="rotate(49.2 664.6 85.8)" fill="#ffffff" opacity="0.12" clip-path="url(#silB)"/>
<g clip-path="url(#rimB)"><ellipse cx="485.2" cy="235.5" rx="89.5" ry="68.0" transform="rotate(49.2 485.2 235.5)" fill="#e2e3e5" opacity="0.85"/><g filter="url(#soft)" stroke="#861630" stroke-width="1"><ellipse cx="547.3" cy="188.7" rx="16.8" ry="13.6" transform="rotate(135 547.3 188.7)" fill="url(#dk0)"/><ellipse cx="516.7" cy="157.1" rx="15.6" ry="12.0" transform="rotate(28 516.7 157.1)" fill="url(#dk1)"/><ellipse cx="558.2" cy="205.7" rx="14.0" ry="12.8" transform="rotate(7 558.2 205.7)" fill="url(#dk3)"/><ellipse cx="518.6" cy="172.7" rx="15.6" ry="13.4" transform="rotate(158 518.6 172.7)" fill="url(#dk0)"/><ellipse cx="497.6" cy="151.9" rx="15.1" ry="10.7" transform="rotate(15 497.6 151.9)" fill="url(#dk0)"/><ellipse cx="526.9" cy="192.1" rx="17.7" ry="14.7" transform="rotate(145 526.9 192.1)" fill="url(#dk3)"/><ellipse cx="504.4" cy="166.6" rx="14.1" ry="7.7" transform="rotate(117 504.4 166.6)" fill="url(#dk3)"/><ellipse cx="568.5" cy="241.8" rx="14.8" ry="10.5" transform="rotate(119 568.5 241.8)" fill="url(#dk1)"/><ellipse cx="483.7" cy="146.3" rx="14.2" ry="10.0" transform="rotate(124 483.7 146.3)" fill="url(#dk0)"/><ellipse cx="540.1" cy="212.7" rx="15.8" ry="12.8" transform="rotate(89 540.1 212.7)" fill="url(#dk3)"/><ellipse cx="555.2" cy="233.7" rx="14.0" ry="13.0" transform="rotate(48 555.2 233.7)" fill="url(#dk3)"/><ellipse cx="481.9" cy="160.7" rx="13.2" ry="11.6" transform="rotate(147 481.9 160.7)" fill="url(#dk3)"/><ellipse cx="524.5" cy="214.5" rx="18.2" ry="15.5" transform="rotate(50 524.5 214.5)" fill="url(#dk1)"/><ellipse cx="493.9" cy="180.7" rx="18.5" ry="13.3" transform="rotate(124 493.9 180.7)" fill="url(#dk1)"/><ellipse cx="550.1" cy="247.5" rx="14.3" ry="7.9" transform="rotate(103 550.1 247.5)" fill="url(#dk3)"/><ellipse cx="505.4" cy="198.1" rx="17.9" ry="13.5" transform="rotate(0 505.4 198.1)" fill="url(#dk3)"/><ellipse cx="524.9" cy="229.2" rx="15.6" ry="8.9" transform="rotate(115 524.9 229.2)" fill="url(#dk3)"/><ellipse cx="467.3" cy="170.7" rx="15.6" ry="12.5" transform="rotate(176 467.3 170.7)" fill="url(#dk3)"/><ellipse cx="483.3" cy="191.5" rx="13.3" ry="11.8" transform="rotate(162 483.3 191.5)" fill="url(#dk1)"/><ellipse cx="533.7" cy="251.2" rx="14.1" ry="10.7" transform="rotate(40 533.7 251.2)" fill="url(#dk0)"/><ellipse cx="502.6" cy="224.1" rx="13.8" ry="11.5" transform="rotate(35 502.6 224.1)" fill="url(#dk0)"/><ellipse cx="487.6" cy="208.5" rx="17.8" ry="8.9" transform="rotate(7 487.6 208.5)" fill="url(#dk1)"/><ellipse cx="461.3" cy="185.1" rx="14.7" ry="10.3" transform="rotate(97 461.3 185.1)" fill="url(#dk3)"/><ellipse cx="509.8" cy="243.4" rx="16.3" ry="14.7" transform="rotate(34 509.8 243.4)" fill="url(#dk3)"/><ellipse cx="519.5" cy="259.5" rx="16.5" ry="15.5" transform="rotate(125 519.5 259.5)" fill="url(#dk1)"/><ellipse cx="496.1" cy="238.4" rx="16.3" ry="12.1" transform="rotate(82 496.1 238.4)" fill="url(#dk3)"/><ellipse cx="483.4" cy="226.1" rx="16.5" ry="12.1" transform="rotate(151 483.4 226.1)" fill="url(#dk3)"/><ellipse cx="462.0" cy="204.8" rx="13.4" ry="12.2" transform="rotate(93 462.0 204.8)" fill="url(#dk1)"/><ellipse cx="470.1" cy="217.8" rx="13.3" ry="7.1" transform="rotate(171 470.1 217.8)" fill="url(#dk0)"/><ellipse cx="504.6" cy="258.1" rx="14.4" ry="12.8" transform="rotate(120 504.6 258.1)" fill="url(#dk1)"/><ellipse cx="481.8" cy="251.3" rx="15.3" ry="9.9" transform="rotate(78 481.8 251.3)" fill="url(#dk1)"/><ellipse cx="457.3" cy="227.2" rx="14.4" ry="11.6" transform="rotate(88 457.3 227.2)" fill="url(#dk1)"/><ellipse cx="465.6" cy="243.1" rx="16.4" ry="15.0" transform="rotate(162 465.6 243.1)" fill="url(#dk1)"/></g></g>
<circle cx="465" cy="172" r="11.5" fill="url(#bdf)" stroke="#2f5590" stroke-width="0.8"/><circle cx="495" cy="268" r="4" fill="url(#bdf)" stroke="#2f5590" stroke-width="0.8"/>
<g clip-path="url(#rimB)"><circle cx="563" cy="244" r="12" fill="url(#bdf)" stroke="#2f5590" stroke-width="0.8"/></g>
<ellipse cx="716" cy="51" rx="17" ry="11" transform="rotate(30 716 51)" fill="#c42c48"/>
<ellipse cx="716" cy="51" rx="17" ry="11" transform="rotate(30 716 51)" fill="#d99aa8" stroke="#b77486" stroke-width="0.8" clip-path="url(#silB)"/>
<text transform="translate(443.5 55) scale(1 1)" font-family="Liberation Sans" font-size="50" fill="#000">B</text>
<linearGradient id="gC" gradientUnits="userSpaceOnUse" x1="120.5" y1="439.6" x2="239.8" y2="575.9"><stop offset="0" stop-color="#a8a8a9"/><stop offset="0.045" stop-color="#c8c8c9"/><stop offset="0.1" stop-color="#d0d0d1"/><stop offset="0.2" stop-color="#d7d7d8"/><stop offset="0.5" stop-color="#dddddf"/><stop offset="0.8" stop-color="#d7d7d8"/><stop offset="0.9" stop-color="#cfcfd0"/><stop offset="0.955" stop-color="#c6c6c7"/><stop offset="1" stop-color="#a8a8a9"/></linearGradient>
<clipPath id="rimC"><ellipse cx="122.7" cy="556.0" rx="89.5" ry="68.0" transform="rotate(49.2 122.7 556.0)"/></clipPath>
<clipPath id="silC"><path d="M45.5 542.1 L45.3 539.7 L45.1 537.3 L45.0 535.0 L45.0 532.6 L45.1 530.2 L45.3 527.8 L45.6 525.4 L46.0 523.0 L46.4 520.7 L46.9 518.3 L47.6 516.0 L48.2 513.7 L49.0 511.4 L49.9 509.1 L50.8 506.8 L51.8 504.6 L52.8 502.5 L54.0 500.3 L55.2 498.2 L56.4 496.1 L57.8 494.1 L59.2 492.1 L60.6 490.2 L62.2 488.3 L63.8 486.5 L65.4 484.8 L67.1 483.1 L68.8 481.4 L70.7 479.8 L72.5 478.3 L74.4 476.8 L76.3 475.4 L78.3 474.0 L80.3 472.6 L82.3 471.2 L84.3 469.9 L86.3 468.5 L88.3 467.2 L90.3 465.8 L92.2 464.4 L94.2 463.0 L96.1 461.5 L98.0 460.1 L99.9 458.5 L101.7 456.9 L103.5 455.3 L105.3 453.7 L107.1 452.1 L108.9 450.4 L110.7 448.7 L112.5 447.1 L114.2 445.5 L116.0 443.8 L117.8 442.2 L119.6 440.6 L121.5 439.0 L123.3 437.4 L125.1 435.8 L126.9 434.2 L128.7 432.6 L130.6 431.0 L132.4 429.4 L134.2 427.8 L136.1 426.2 L137.9 424.6 L139.7 423.1 L141.6 421.5 L143.4 419.9 L145.2 418.3 L147.1 416.7 L148.9 415.2 L150.8 413.6 L152.6 412.0 L154.4 410.4 L156.3 408.9 L158.1 407.3 L159.9 405.7 L161.8 404.2 L163.6 402.6 L165.5 401.0 L167.3 399.4 L169.1 397.8 L171.0 396.3 L172.8 394.7 L174.6 393.1 L176.4 391.5 L178.3 389.9 L180.1 388.4 L181.9 386.8 L183.7 385.2 L185.6 383.6 L187.4 382.0 L189.2 380.4 L191.0 378.8 L192.8 377.2 L194.6 375.6 L196.4 373.9 L198.3 372.3 L200.1 370.7 L201.9 369.1 L203.7 367.5 L205.4 365.8 L207.2 364.2 L209.0 362.6 L210.8 360.9 L212.6 359.3 L214.4 357.7 L216.3 356.1 L218.1 354.5 L219.9 352.9 L221.7 351.3 L223.6 349.7 L225.4 348.1 L227.3 346.6 L229.2 345.0 L231.0 343.5 L232.9 342.0 L234.9 340.5 L236.8 339.0 L238.7 337.6 L240.7 336.1 L242.7 334.7 L244.7 333.4 L246.7 332.0 L248.8 330.8 L250.9 329.5 L253.0 328.4 L255.1 327.4 L257.3 326.4 L259.5 325.6 L261.7 324.8 L263.9 324.1 L266.2 323.6 L268.5 323.1 L270.8 322.7 L273.2 322.4 L275.5 322.2 L277.9 322.1 L280.3 322.0 L282.7 322.1 L285.1 322.2 L287.5 322.4 L289.9 322.7 L292.3 323.0 L294.7 323.4 L297.1 323.9 L299.4 324.5 L301.8 325.1 L304.2 325.8 L306.6 326.6 L308.9 327.4 L311.2 328.3 L313.6 329.2 L315.8 330.2 L318.1 331.2 L320.4 332.3 L322.6 333.5 L324.8 334.7 L326.9 335.9 L329.0 337.2 L331.1 338.6 L333.2 340.0 L335.2 341.4 L337.1 342.9 L339.0 344.4 L340.9 345.9 L342.7 347.5 L344.5 349.1 L346.2 350.7 L347.9 352.4 L349.6 354.1 L351.1 355.8 L352.7 357.6 L354.2 359.4 L355.6 361.2 L357.0 363.1 L358.4 365.0 L359.7 366.9 L360.9 368.9 L362.2 370.9 L363.3 372.9 L364.5 374.9 L365.6 377.0 L366.6 379.1 L367.6 381.3 L368.6 383.5 L369.5 385.7 L370.4 387.9 L371.2 390.2 L372.0 392.5 L372.8 394.8 L373.5 397.2 L374.2 399.6 L374.9 402.0 L375.5 404.5 L376.0 406.9 L376.6 409.4 L377.0 411.9 L377.4 414.4 L377.8 416.9 L378.1 419.4 L378.3 422.0 L378.4 424.5 L378.5 426.9 L378.5 429.4 L378.4 431.9 L378.2 434.3 L378.0 436.7 L377.6 439.1 L377.2 441.4 L376.6 443.7 L376.0 446.0 L375.3 448.2 L374.4 450.3 L373.4 452.4 L372.3 454.5 L371.1 456.5 L369.8 458.4 L368.4 460.3 L367.0 462.1 L365.4 463.8 L363.8 465.6 L362.1 467.3 L360.3 468.9 L358.5 470.5 L356.7 472.1 L354.8 473.7 L352.9 475.2 L350.9 476.7 L349.0 478.2 L347.0 479.7 L345.1 481.1 L343.1 482.6 L341.2 484.1 L339.2 485.5 L337.3 487.0 L335.4 488.5 L333.5 490.0 L331.6 491.6 L329.7 493.1 L327.9 494.7 L326.1 496.3 L324.3 497.9 L322.5 499.6 L320.7 501.2 L319.0 502.9 L317.2 504.5 L315.5 506.2 L313.7 507.9 L312.0 509.6 L310.3 511.3 L308.6 513.0 L306.9 514.7 L305.1 516.4 L303.4 518.1 L301.7 519.8 L300.0 521.5 L298.3 523.2 L296.6 524.8 L294.8 526.5 L293.1 528.2 L291.3 529.9 L289.6 531.5 L287.8 533.2 L286.0 534.8 L284.2 536.4 L282.4 538.0 L280.6 539.6 L278.8 541.2 L276.9 542.8 L275.1 544.4 L273.2 545.9 L271.4 547.5 L269.5 549.0 L267.6 550.6 L265.8 552.1 L263.9 553.7 L262.0 555.2 L260.1 556.7 L258.2 558.2 L256.3 559.8 L254.5 561.3 L252.6 562.8 L250.7 564.3 L248.8 565.9 L246.9 567.4 L245.1 568.9 L243.2 570.5 L241.3 572.0 L239.5 573.6 L237.6 575.1 L235.8 576.7 L234.0 578.3 L232.1 579.9 L230.3 581.5 L228.5 583.1 L226.7 584.7 L224.9 586.3 L223.2 587.9 L221.4 589.5 L219.6 591.2 L217.8 592.8 L216.1 594.4 L214.3 596.1 L212.5 597.7 L210.8 599.4 L209.0 601.0 L207.2 602.7 L205.4 604.3 L203.6 606.0 L201.8 607.6 L200.0 609.2 L198.2 610.9 L196.4 612.5 L194.6 614.1 L192.7 615.8 L190.9 617.4 L189.0 619.0 L187.1 620.5 L185.2 622.1 L183.2 623.6 L181.3 625.0 L179.3 626.4 L177.2 627.7 L175.2 628.9 L173.1 630.0 L171.0 631.0 L168.8 632.0 L166.6 632.8 L164.4 633.6 L162.2 634.2 L159.9 634.8 L157.6 635.3 L155.3 635.7 L153.0 636.0 L150.6 636.3 L148.2 636.5 L145.9 636.5 L143.5 636.6 L141.1 636.5 L138.7 636.4 L136.3 636.2 L133.9 635.9 L131.5 635.5 L129.1 635.1 L126.7 634.6 L124.3 634.1 L121.9 633.5 L119.6 632.8 L117.2 632.1 L114.9 631.3 L112.5 630.4 L110.2 629.5 L107.9 628.5 L105.7 627.5 L103.4 626.4 L101.2 625.3 L99.0 624.1 L96.9 622.9 L94.8 621.6 L92.7 620.3 L90.6 619.0 L88.6 617.5 L86.6 616.1 L84.7 614.6 L82.8 613.1 L81.0 611.5 L79.2 609.9 L77.5 608.3 L75.8 606.6 L74.1 604.9 L72.5 603.1 L71.0 601.4 L69.5 599.5 L68.0 597.7 L66.6 595.8 L65.3 593.9 L64.0 591.9 L62.7 589.9 L61.5 587.9 L60.3 585.8 L59.2 583.7 L58.1 581.5 L57.1 579.4 L56.1 577.1 L55.2 574.9 L54.3 572.6 L53.4 570.3 L52.6 568.0 L51.8 565.6 L51.0 563.3 L50.2 560.9 L49.5 558.6 L48.8 556.2 L48.1 553.9 L47.5 551.5 L46.9 549.2 L46.3 546.8 L45.9 544.5Z"/></clipPath>
<path d="M45.5 542.1 L45.3 539.7 L45.1 537.3 L45.0 535.0 L45.0 532.6 L45.1 530.2 L45.3 527.8 L45.6 525.4 L46.0 523.0 L46.4 520.7 L46.9 518.3 L47.6 516.0 L48.2 513.7 L49.0 511.4 L49.9 509.1 L50.8 506.8 L51.8 504.6 L52.8 502.5 L54.0 500.3 L55.2 498.2 L56.4 496.1 L57.8 494.1 L59.2 492.1 L60.6 490.2 L62.2 488.3 L63.8 486.5 L65.4 484.8 L67.1 483.1 L68.8 481.4 L70.7 479.8 L72.5 478.3 L74.4 476.8 L76.3 475.4 L78.3 474.0 L80.3 472.6 L82.3 471.2 L84.3 469.9 L86.3 468.5 L88.3 467.2 L90.3 465.8 L92.2 464.4 L94.2 463.0 L96.1 461.5 L98.0 460.1 L99.9 458.5 L101.7 456.9 L103.5 455.3 L105.3 453.7 L107.1 452.1 L108.9 450.4 L110.7 448.7 L112.5 447.1 L114.2 445.5 L116.0 443.8 L117.8 442.2 L119.6 440.6 L121.5 439.0 L123.3 437.4 L125.1 435.8 L126.9 434.2 L128.7 432.6 L130.6 431.0 L132.4 429.4 L134.2 427.8 L136.1 426.2 L137.9 424.6 L139.7 423.1 L141.6 421.5 L143.4 419.9 L145.2 418.3 L147.1 416.7 L148.9 415.2 L150.8 413.6 L152.6 412.0 L154.4 410.4 L156.3 408.9 L158.1 407.3 L159.9 405.7 L161.8 404.2 L163.6 402.6 L165.5 401.0 L167.3 399.4 L169.1 397.8 L171.0 396.3 L172.8 394.7 L174.6 393.1 L176.4 391.5 L178.3 389.9 L180.1 388.4 L181.9 386.8 L183.7 385.2 L185.6 383.6 L187.4 382.0 L189.2 380.4 L191.0 378.8 L192.8 377.2 L194.6 375.6 L196.4 373.9 L198.3 372.3 L200.1 370.7 L201.9 369.1 L203.7 367.5 L205.4 365.8 L207.2 364.2 L209.0 362.6 L210.8 360.9 L212.6 359.3 L214.4 357.7 L216.3 356.1 L218.1 354.5 L219.9 352.9 L221.7 351.3 L223.6 349.7 L225.4 348.1 L227.3 346.6 L229.2 345.0 L231.0 343.5 L232.9 342.0 L234.9 340.5 L236.8 339.0 L238.7 337.6 L240.7 336.1 L242.7 334.7 L244.7 333.4 L246.7 332.0 L248.8 330.8 L250.9 329.5 L253.0 328.4 L255.1 327.4 L257.3 326.4 L259.5 325.6 L261.7 324.8 L263.9 324.1 L266.2 323.6 L268.5 323.1 L270.8 322.7 L273.2 322.4 L275.5 322.2 L277.9 322.1 L280.3 322.0 L282.7 322.1 L285.1 322.2 L287.5 322.4 L289.9 322.7 L292.3 323.0 L294.7 323.4 L297.1 323.9 L299.4 324.5 L301.8 325.1 L304.2 325.8 L306.6 326.6 L308.9 327.4 L311.2 328.3 L313.6 329.2 L315.8 330.2 L318.1 331.2 L320.4 332.3 L322.6 333.5 L324.8 334.7 L326.9 335.9 L329.0 337.2 L331.1 338.6 L333.2 340.0 L335.2 341.4 L337.1 342.9 L339.0 344.4 L340.9 345.9 L342.7 347.5 L344.5 349.1 L346.2 350.7 L347.9 352.4 L349.6 354.1 L351.1 355.8 L352.7 357.6 L354.2 359.4 L355.6 361.2 L357.0 363.1 L358.4 365.0 L359.7 366.9 L360.9 368.9 L362.2 370.9 L363.3 372.9 L364.5 374.9 L365.6 377.0 L366.6 379.1 L367.6 381.3 L368.6 383.5 L369.5 385.7 L370.4 387.9 L371.2 390.2 L372.0 392.5 L372.8 394.8 L373.5 397.2 L374.2 399.6 L374.9 402.0 L375.5 404.5 L376.0 406.9 L376.6 409.4 L377.0 411.9 L377.4 414.4 L377.8 416.9 L378.1 419.4 L378.3 422.0 L378.4 424.5 L378.5 426.9 L378.5 429.4 L378.4 431.9 L378.2 434.3 L378.0 436.7 L377.6 439.1 L377.2 441.4 L376.6 443.7 L376.0 446.0 L375.3 448.2 L374.4 450.3 L373.4 452.4 L372.3 454.5 L371.1 456.5 L369.8 458.4 L368.4 460.3 L367.0 462.1 L365.4 463.8 L363.8 465.6 L362.1 467.3 L360.3 468.9 L358.5 470.5 L356.7 472.1 L354.8 473.7 L352.9 475.2 L350.9 476.7 L349.0 478.2 L347.0 479.7 L345.1 481.1 L343.1 482.6 L341.2 484.1 L339.2 485.5 L337.3 487.0 L335.4 488.5 L333.5 490.0 L331.6 491.6 L329.7 493.1 L327.9 494.7 L326.1 496.3 L324.3 497.9 L322.5 499.6 L320.7 501.2 L319.0 502.9 L317.2 504.5 L315.5 506.2 L313.7 507.9 L312.0 509.6 L310.3 511.3 L308.6 513.0 L306.9 514.7 L305.1 516.4 L303.4 518.1 L301.7 519.8 L300.0 521.5 L298.3 523.2 L296.6 524.8 L294.8 526.5 L293.1 528.2 L291.3 529.9 L289.6 531.5 L287.8 533.2 L286.0 534.8 L284.2 536.4 L282.4 538.0 L280.6 539.6 L278.8 541.2 L276.9 542.8 L275.1 544.4 L273.2 545.9 L271.4 547.5 L269.5 549.0 L267.6 550.6 L265.8 552.1 L263.9 553.7 L262.0 555.2 L260.1 556.7 L258.2 558.2 L256.3 559.8 L254.5 561.3 L252.6 562.8 L250.7 564.3 L248.8 565.9 L246.9 567.4 L245.1 568.9 L243.2 570.5 L241.3 572.0 L239.5 573.6 L237.6 575.1 L235.8 576.7 L234.0 578.3 L232.1 579.9 L230.3 581.5 L228.5 583.1 L226.7 584.7 L224.9 586.3 L223.2 587.9 L221.4 589.5 L219.6 591.2 L217.8 592.8 L216.1 594.4 L214.3 596.1 L212.5 597.7 L210.8 599.4 L209.0 601.0 L207.2 602.7 L205.4 604.3 L203.6 606.0 L201.8 607.6 L200.0 609.2 L198.2 610.9 L196.4 612.5 L194.6 614.1 L192.7 615.8 L190.9 617.4 L189.0 619.0 L187.1 620.5 L185.2 622.1 L183.2 623.6 L181.3 625.0 L179.3 626.4 L177.2 627.7 L175.2 628.9 L173.1 630.0 L171.0 631.0 L168.8 632.0 L166.6 632.8 L164.4 633.6 L162.2 634.2 L159.9 634.8 L157.6 635.3 L155.3 635.7 L153.0 636.0 L150.6 636.3 L148.2 636.5 L145.9 636.5 L143.5 636.6 L141.1 636.5 L138.7 636.4 L136.3 636.2 L133.9 635.9 L131.5 635.5 L129.1 635.1 L126.7 634.6 L124.3 634.1 L121.9 633.5 L119.6 632.8 L117.2 632.1 L114.9 631.3 L112.5 630.4 L110.2 629.5 L107.9 628.5 L105.7 627.5 L103.4 626.4 L101.2 625.3 L99.0 624.1 L96.9 622.9 L94.8 621.6 L92.7 620.3 L90.6 619.0 L88.6 617.5 L86.6 616.1 L84.7 614.6 L82.8 613.1 L81.0 611.5 L79.2 609.9 L77.5 608.3 L75.8 606.6 L74.1 604.9 L72.5 603.1 L71.0 601.4 L69.5 599.5 L68.0 597.7 L66.6 595.8 L65.3 593.9 L64.0 591.9 L62.7 589.9 L61.5 587.9 L60.3 585.8 L59.2 583.7 L58.1 581.5 L57.1 579.4 L56.1 577.1 L55.2 574.9 L54.3 572.6 L53.4 570.3 L52.6 568.0 L51.8 565.6 L51.0 563.3 L50.2 560.9 L49.5 558.6 L48.8 556.2 L48.1 553.9 L47.5 551.5 L46.9 549.2 L46.3 546.8 L45.9 544.5Z" fill="url(#gC)"/>
<ellipse cx="122.7" cy="556.0" rx="89.5" ry="68.0" transform="rotate(49.2 122.7 556.0)" fill="#e4e5e7"/>
<ellipse cx="302.1" cy="406.2" rx="89.5" ry="68.0" transform="rotate(49.2 302.1 406.2)" fill="#eaebec" opacity="0.85" clip-path="url(#silC)"/>
<g clip-path="url(#silC)"><g filter="url(#soft)" stroke="#86344e" stroke-width="1.1" stroke-opacity="0.85" fill-opacity="0.92"><ellipse cx="356.5" cy="421.3" rx="15.6" ry="9.0" transform="rotate(46 356.5 421.3)" fill="url(#pk0)"/><ellipse cx="333.6" cy="396.3" rx="17.9" ry="8.4" transform="rotate(45 333.6 396.3)" fill="url(#pk1)"/><ellipse cx="342.1" cy="408.1" rx="17.1" ry="9.3" transform="rotate(9 342.1 408.1)" fill="url(#pk1)"/><ellipse cx="318.3" cy="390.3" rx="16.1" ry="11.5" transform="rotate(115 318.3 390.3)" fill="url(#pk0)"/><ellipse cx="298.3" cy="376.3" rx="16.5" ry="14.4" transform="rotate(149 298.3 376.3)" fill="url(#pk1)"/><ellipse cx="342.7" cy="429.3" rx="14.4" ry="13.6" transform="rotate(46 342.7 429.3)" fill="url(#pk0)"/><ellipse cx="326.3" cy="417.3" rx="18.1" ry="13.1" transform="rotate(0 326.3 417.3)" fill="url(#pk0)"/><ellipse cx="303.2" cy="391.0" rx="14.0" ry="8.7" transform="rotate(80 303.2 391.0)" fill="url(#pk0)"/><ellipse cx="349.5" cy="446.1" rx="14.1" ry="10.7" transform="rotate(3 349.5 446.1)" fill="url(#pk2)"/><ellipse cx="282.6" cy="372.0" rx="14.4" ry="8.1" transform="rotate(168 282.6 372.0)" fill="url(#pk2)"/><ellipse cx="286.4" cy="392.2" rx="14.2" ry="9.4" transform="rotate(133 286.4 392.2)" fill="url(#pk0)"/><ellipse cx="301.9" cy="412.4" rx="18.2" ry="8.2" transform="rotate(91 301.9 412.4)" fill="url(#pk0)"/><ellipse cx="257.7" cy="361.3" rx="16.8" ry="11.8" transform="rotate(84 257.7 361.3)" fill="url(#pk1)"/><ellipse cx="324.4" cy="439.8" rx="14.1" ry="8.4" transform="rotate(39 324.4 439.8)" fill="url(#pk0)"/><ellipse cx="332.6" cy="452.6" rx="14.3" ry="7.9" transform="rotate(155 332.6 452.6)" fill="url(#pk1)"/><ellipse cx="267.2" cy="380.7" rx="14.7" ry="10.2" transform="rotate(80 267.2 380.7)" fill="url(#pk0)"/><ellipse cx="309.2" cy="436.8" rx="16.2" ry="15.1" transform="rotate(124 309.2 436.8)" fill="url(#pk1)"/><ellipse cx="280.5" cy="409.6" rx="14.8" ry="9.1" transform="rotate(173 280.5 409.6)" fill="url(#pk1)"/><ellipse cx="327.8" cy="466.4" rx="15.6" ry="10.9" transform="rotate(152 327.8 466.4)" fill="url(#pk0)"/><ellipse cx="294.2" cy="429.0" rx="18.0" ry="11.4" transform="rotate(88 294.2 429.0)" fill="url(#pk1)"/><ellipse cx="243.6" cy="374.4" rx="19.7" ry="11.0" transform="rotate(93 243.6 374.4)" fill="url(#pk0)"/><ellipse cx="251.3" cy="388.4" rx="16.5" ry="11.8" transform="rotate(93 251.3 388.4)" fill="url(#pk2)"/><ellipse cx="312.4" cy="461.8" rx="15.5" ry="8.9" transform="rotate(50 312.4 461.8)" fill="url(#pk1)"/><ellipse cx="265.2" cy="407.3" rx="14.4" ry="12.5" transform="rotate(135 265.2 407.3)" fill="url(#pk1)"/><ellipse cx="297.3" cy="445.8" rx="14.8" ry="7.5" transform="rotate(60 297.3 445.8)" fill="url(#pk1)"/><ellipse cx="271.4" cy="421.2" rx="16.6" ry="13.0" transform="rotate(48 271.4 421.2)" fill="url(#pk0)"/><ellipse cx="233.4" cy="385.4" rx="18.1" ry="8.7" transform="rotate(73 233.4 385.4)" fill="url(#pk1)"/><ellipse cx="311.9" cy="479.9" rx="16.1" ry="9.5" transform="rotate(66 311.9 479.9)" fill="url(#pk1)"/><ellipse cx="298.4" cy="465.8" rx="19.8" ry="13.9" transform="rotate(29 298.4 465.8)" fill="url(#pk1)"/><ellipse cx="249.9" cy="412.6" rx="14.2" ry="6.7" transform="rotate(89 249.9 412.6)" fill="url(#pk1)"/><ellipse cx="270.0" cy="437.3" rx="16.2" ry="11.8" transform="rotate(46 270.0 437.3)" fill="url(#pk0)"/><ellipse cx="236.9" cy="403.5" rx="15.2" ry="12.4" transform="rotate(109 236.9 403.5)" fill="url(#pk1)"/><ellipse cx="216.8" cy="385.9" rx="15.3" ry="13.0" transform="rotate(158 216.8 385.9)" fill="url(#pk0)"/><ellipse cx="301.9" cy="490.8" rx="15.0" ry="8.0" transform="rotate(56 301.9 490.8)" fill="url(#pk0)"/><ellipse cx="276.5" cy="464.5" rx="14.2" ry="6.1" transform="rotate(13 276.5 464.5)" fill="url(#pk0)"/><ellipse cx="253.3" cy="438.4" rx="17.4" ry="7.9" transform="rotate(6 253.3 438.4)" fill="url(#pk0)"/><ellipse cx="265.9" cy="454.3" rx="15.5" ry="6.8" transform="rotate(12 265.9 454.3)" fill="url(#pk0)"/><ellipse cx="288.7" cy="481.5" rx="14.7" ry="10.3" transform="rotate(165 288.7 481.5)" fill="url(#pk3)"/><ellipse cx="237.4" cy="423.6" rx="16.7" ry="15.6" transform="rotate(124 237.4 423.6)" fill="url(#pk1)"/><ellipse cx="200.5" cy="391.0" rx="16.8" ry="15.3" transform="rotate(0 200.5 391.0)" fill="url(#pk0)"/><ellipse cx="214.6" cy="411.7" rx="19.3" ry="15.4" transform="rotate(13 214.6 411.7)" fill="url(#pk0)"/><ellipse cx="245.1" cy="454.5" rx="16.2" ry="7.5" transform="rotate(173 245.1 454.5)" fill="url(#pk1)"/><ellipse cx="222.6" cy="430.8" rx="14.8" ry="13.7" transform="rotate(105 222.6 430.8)" fill="url(#pk0)"/><ellipse cx="233.1" cy="443.8" rx="18.2" ry="11.2" transform="rotate(62 233.1 443.8)" fill="url(#pk0)"/><ellipse cx="263.5" cy="479.2" rx="19.8" ry="16.6" transform="rotate(158 263.5 479.2)" fill="url(#pk0)"/><ellipse cx="281.7" cy="502.9" rx="16.4" ry="13.3" transform="rotate(36 281.7 502.9)" fill="url(#pk3)"/><ellipse cx="198.4" cy="406.5" rx="18.9" ry="15.8" transform="rotate(75 198.4 406.5)" fill="url(#pk1)"/><ellipse cx="245.2" cy="472.7" rx="18.6" ry="8.5" transform="rotate(160 245.2 472.7)" fill="url(#pk0)"/><ellipse cx="267.3" cy="498.7" rx="19.3" ry="8.3" transform="rotate(23 267.3 498.7)" fill="url(#pk1)"/><ellipse cx="204.8" cy="430.0" rx="19.8" ry="8.9" transform="rotate(21 204.8 430.0)" fill="url(#pk0)"/><ellipse cx="249.8" cy="487.8" rx="15.1" ry="11.1" transform="rotate(173 249.8 487.8)" fill="url(#pk1)"/><ellipse cx="216.8" cy="449.4" rx="17.7" ry="7.5" transform="rotate(17 216.8 449.4)" fill="url(#pk3)"/><ellipse cx="257.4" cy="509.7" rx="18.4" ry="9.4" transform="rotate(153 257.4 509.7)" fill="url(#pk1)"/><ellipse cx="232.5" cy="483.2" rx="14.3" ry="11.3" transform="rotate(58 232.5 483.2)" fill="url(#pk3)"/><ellipse cx="220.8" cy="470.3" rx="16.2" ry="7.2" transform="rotate(160 220.8 470.3)" fill="url(#pk1)"/><ellipse cx="179.3" cy="424.6" rx="15.0" ry="11.0" transform="rotate(130 179.3 424.6)" fill="url(#pk0)"/><ellipse cx="186.4" cy="438.8" rx="18.9" ry="13.1" transform="rotate(93 186.4 438.8)" fill="url(#pk1)"/><ellipse cx="238.2" cy="505.3" rx="18.2" ry="10.2" transform="rotate(137 238.2 505.3)" fill="url(#pk3)"/><ellipse cx="192.4" cy="452.2" rx="15.3" ry="7.0" transform="rotate(155 192.4 452.2)" fill="url(#pk3)"/><ellipse cx="199.2" cy="466.2" rx="16.9" ry="11.5" transform="rotate(22 199.2 466.2)" fill="url(#pk1)"/><ellipse cx="213.7" cy="484.6" rx="17.4" ry="14.5" transform="rotate(144 213.7 484.6)" fill="url(#pk1)"/><ellipse cx="238.3" cy="521.8" rx="14.5" ry="12.5" transform="rotate(93 238.3 521.8)" fill="url(#pk0)"/><ellipse cx="156.3" cy="434.5" rx="14.6" ry="6.7" transform="rotate(168 156.3 434.5)" fill="url(#pk1)"/><ellipse cx="213.4" cy="502.2" rx="16.8" ry="10.5" transform="rotate(139 213.4 502.2)" fill="url(#pk1)"/><ellipse cx="184.9" cy="469.3" rx="16.1" ry="9.1" transform="rotate(87 184.9 469.3)" fill="url(#pk0)"/><ellipse cx="167.7" cy="450.1" rx="16.5" ry="7.9" transform="rotate(91 167.7 450.1)" fill="url(#pk1)"/><ellipse cx="196.5" cy="487.6" rx="16.2" ry="10.6" transform="rotate(52 196.5 487.6)" fill="url(#pk1)"/><ellipse cx="219.8" cy="518.7" rx="14.8" ry="11.7" transform="rotate(136 219.8 518.7)" fill="url(#pk3)"/><ellipse cx="154.6" cy="456.8" rx="17.0" ry="10.4" transform="rotate(162 154.6 456.8)" fill="url(#pk3)"/><ellipse cx="165.8" cy="470.4" rx="15.3" ry="6.5" transform="rotate(86 165.8 470.4)" fill="url(#pk0)"/><ellipse cx="196.6" cy="508.2" rx="16.4" ry="12.6" transform="rotate(24 196.6 508.2)" fill="url(#pk1)"/><ellipse cx="218.8" cy="535.6" rx="14.6" ry="7.0" transform="rotate(124 218.8 535.6)" fill="url(#pk3)"/><ellipse cx="182.3" cy="493.6" rx="18.6" ry="14.9" transform="rotate(25 182.3 493.6)" fill="url(#pk3)"/><ellipse cx="203.1" cy="526.5" rx="19.3" ry="9.7" transform="rotate(90 203.1 526.5)" fill="url(#pk1)"/><ellipse cx="139.9" cy="455.9" rx="16.5" ry="7.4" transform="rotate(88 139.9 455.9)" fill="url(#pk0)"/><ellipse cx="153.5" cy="482.4" rx="18.1" ry="9.5" transform="rotate(90 153.5 482.4)" fill="url(#pk3)"/><ellipse cx="176.5" cy="512.9" rx="15.4" ry="10.7" transform="rotate(178 176.5 512.9)" fill="url(#pk1)"/><ellipse cx="185.5" cy="527.8" rx="16.8" ry="12.9" transform="rotate(78 185.5 527.8)" fill="url(#pk1)"/><ellipse cx="199.5" cy="544.6" rx="18.5" ry="17.4" transform="rotate(5 199.5 544.6)" fill="url(#pk1)"/><ellipse cx="158.2" cy="497.5" rx="16.7" ry="14.4" transform="rotate(139 158.2 497.5)" fill="url(#pk1)"/><ellipse cx="135.4" cy="475.5" rx="16.9" ry="15.1" transform="rotate(131 135.4 475.5)" fill="url(#pk1)"/><ellipse cx="170.4" cy="529.5" rx="14.6" ry="7.5" transform="rotate(59 170.4 529.5)" fill="url(#pk0)"/><ellipse cx="143.0" cy="499.8" rx="18.5" ry="12.6" transform="rotate(4 143.0 499.8)" fill="url(#pk3)"/><ellipse cx="154.7" cy="520.0" rx="16.2" ry="11.4" transform="rotate(54 154.7 520.0)" fill="url(#pk3)"/><ellipse cx="121.5" cy="484.2" rx="17.2" ry="9.7" transform="rotate(134 121.5 484.2)" fill="url(#pk3)"/><ellipse cx="184.8" cy="558.2" rx="18.6" ry="13.1" transform="rotate(70 184.8 558.2)" fill="url(#pk3)"/><ellipse cx="170.7" cy="547.3" rx="19.8" ry="11.3" transform="rotate(129 170.7 547.3)" fill="url(#pk3)"/><ellipse cx="122.2" cy="501.9" rx="19.9" ry="13.3" transform="rotate(146 122.2 501.9)" fill="url(#pk1)"/><ellipse cx="133.0" cy="515.5" rx="18.5" ry="11.5" transform="rotate(98 133.0 515.5)" fill="url(#pk0)"/><ellipse cx="143.6" cy="533.4" rx="17.9" ry="9.3" transform="rotate(17 143.6 533.4)" fill="url(#pk3)"/><ellipse cx="166.8" cy="561.4" rx="15.8" ry="12.5" transform="rotate(34 166.8 561.4)" fill="url(#pk1)"/><ellipse cx="155.6" cy="550.0" rx="19.5" ry="14.9" transform="rotate(50 155.6 550.0)" fill="url(#pk1)"/><ellipse cx="178.6" cy="576.7" rx="18.9" ry="13.8" transform="rotate(175 178.6 576.7)" fill="url(#pk3)"/><ellipse cx="108.3" cy="508.4" rx="18.8" ry="17.2" transform="rotate(46 108.3 508.4)" fill="url(#pk3)"/><ellipse cx="118.4" cy="520.7" rx="15.6" ry="6.6" transform="rotate(81 118.4 520.7)" fill="url(#pk1)"/><ellipse cx="163.8" cy="580.0" rx="14.3" ry="6.4" transform="rotate(108 163.8 580.0)" fill="url(#pk1)"/><ellipse cx="124.1" cy="535.4" rx="17.1" ry="15.4" transform="rotate(84 124.1 535.4)" fill="url(#pk0)"/><ellipse cx="148.4" cy="564.4" rx="16.9" ry="7.5" transform="rotate(85 148.4 564.4)" fill="url(#pk3)"/><ellipse cx="124.9" cy="551.0" rx="17.1" ry="13.3" transform="rotate(102 124.9 551.0)" fill="url(#pk0)"/><ellipse cx="151.0" cy="588.1" rx="15.2" ry="10.7" transform="rotate(176 151.0 588.1)" fill="url(#pk1)"/><ellipse cx="129.2" cy="565.8" rx="20.0" ry="8.6" transform="rotate(132 129.2 565.8)" fill="url(#pk3)"/><ellipse cx="108.4" cy="544.6" rx="15.0" ry="13.7" transform="rotate(6 108.4 544.6)" fill="url(#pk3)"/><ellipse cx="135.6" cy="579.3" rx="15.9" ry="9.3" transform="rotate(37 135.6 579.3)" fill="url(#pk3)"/></g><path d="M271.0 350.0C271.0 351.7 268.0 353.9 266.9 355.7C265.9 357.6 265.5 361.3 264.0 362.1C262.5 363.0 259.1 361.5 257.0 361.5C254.9 361.5 251.5 363.0 250.0 362.1C248.5 361.3 248.1 357.6 247.1 355.7C246.0 353.9 243.0 351.7 243.0 350.0C243.0 348.3 246.0 346.1 247.1 344.3C248.1 342.4 248.5 338.7 250.0 337.9C251.5 337.0 254.9 338.5 257.0 338.5C259.1 338.5 262.5 337.0 264.0 337.9C265.5 338.7 265.9 342.4 266.9 344.3C268.0 346.1 271.0 348.3 271.0 350.0Z" fill="url(#bst)" stroke="#4d74a8" stroke-width="0.8"/><path d="M321.0 352.0C321.0 353.7 318.0 355.9 316.9 357.7C315.9 359.6 315.5 363.3 314.0 364.1C312.5 365.0 309.1 363.5 307.0 363.5C304.9 363.5 301.5 365.0 300.0 364.1C298.5 363.3 298.1 359.6 297.1 357.7C296.0 355.9 293.0 353.7 293.0 352.0C293.0 350.3 296.0 348.1 297.1 346.3C298.1 344.4 298.5 340.7 300.0 339.9C301.5 339.0 304.9 340.5 307.0 340.5C309.1 340.5 312.5 339.0 314.0 339.9C315.5 340.7 315.9 344.4 316.9 346.3C318.0 348.1 321.0 350.3 321.0 352.0Z" fill="url(#bst)" stroke="#4d74a8" stroke-width="0.8"/><path d="M214.0 397.0C214.0 398.7 211.0 400.9 209.9 402.7C208.9 404.6 208.5 408.3 207.0 409.1C205.5 410.0 202.1 408.5 200.0 408.5C197.9 408.5 194.5 410.0 193.0 409.1C191.5 408.3 191.1 404.6 190.1 402.7C189.0 400.9 186.0 398.7 186.0 397.0C186.0 395.3 189.0 393.1 190.1 391.3C191.1 389.4 191.5 385.7 193.0 384.9C194.5 384.0 197.9 385.5 200.0 385.5C202.1 385.5 205.5 384.0 207.0 384.9C208.5 385.7 208.9 389.4 209.9 391.3C211.0 393.1 214.0 395.3 214.0 397.0Z" fill="url(#bst)" stroke="#4d74a8" stroke-width="0.8"/><path d="M181.0 415.0C181.0 416.7 178.0 418.9 176.9 420.7C175.9 422.6 175.5 426.3 174.0 427.1C172.5 428.0 169.1 426.5 167.0 426.5C164.9 426.5 161.5 428.0 160.0 427.1C158.5 426.3 158.1 422.6 157.1 420.7C156.0 418.9 153.0 416.7 153.0 415.0C153.0 413.3 156.0 411.1 157.1 409.3C158.1 407.4 158.5 403.7 160.0 402.9C161.5 402.0 164.9 403.5 167.0 403.5C169.1 403.5 172.5 402.0 174.0 402.9C175.5 403.7 175.9 407.4 176.9 409.3C178.0 411.1 181.0 413.3 181.0 415.0Z" fill="url(#bst)" stroke="#4d74a8" stroke-width="0.8"/><path d="M179.0 432.0C179.0 433.7 176.0 435.9 174.9 437.7C173.9 439.6 173.5 443.3 172.0 444.1C170.5 445.0 167.1 443.5 165.0 443.5C162.9 443.5 159.5 445.0 158.0 444.1C156.5 443.3 156.1 439.6 155.1 437.7C154.0 435.9 151.0 433.7 151.0 432.0C151.0 430.3 154.0 428.1 155.1 426.3C156.1 424.4 156.5 420.7 158.0 419.9C159.5 419.0 162.9 420.5 165.0 420.5C167.1 420.5 170.5 419.0 172.0 419.9C173.5 420.7 173.9 424.4 174.9 426.3C176.0 428.1 179.0 430.3 179.0 432.0Z" fill="url(#bst)" stroke="#4d74a8" stroke-width="0.8"/><path d="M234.0 430.0C234.0 431.7 231.0 433.9 229.9 435.7C228.9 437.6 228.5 441.3 227.0 442.1C225.5 443.0 222.1 441.5 220.0 441.5C217.9 441.5 214.5 443.0 213.0 442.1C211.5 441.3 211.1 437.6 210.1 435.7C209.0 433.9 206.0 431.7 206.0 430.0C206.0 428.3 209.0 426.1 210.1 424.3C211.1 422.4 211.5 418.7 213.0 417.9C214.5 417.0 217.9 418.5 220.0 418.5C222.1 418.5 225.5 417.0 227.0 417.9C228.5 418.7 228.9 422.4 229.9 424.3C231.0 426.1 234.0 428.3 234.0 430.0Z" fill="url(#bst)" stroke="#4d74a8" stroke-width="0.8"/><path d="M279.0 430.0C279.0 431.7 276.0 433.9 274.9 435.7C273.9 437.6 273.5 441.3 272.0 442.1C270.5 443.0 267.1 441.5 265.0 441.5C262.9 441.5 259.5 443.0 258.0 442.1C256.5 441.3 256.1 437.6 255.1 435.7C254.0 433.9 251.0 431.7 251.0 430.0C251.0 428.3 254.0 426.1 255.1 424.3C256.1 422.4 256.5 418.7 258.0 417.9C259.5 417.0 262.9 418.5 265.0 418.5C267.1 418.5 270.5 417.0 272.0 417.9C273.5 418.7 273.9 422.4 274.9 424.3C276.0 426.1 279.0 428.3 279.0 430.0Z" fill="url(#bst)" stroke="#4d74a8" stroke-width="0.8"/><path d="M369.0 430.0C369.0 431.7 366.0 433.9 364.9 435.7C363.9 437.6 363.5 441.3 362.0 442.1C360.5 443.0 357.1 441.5 355.0 441.5C352.9 441.5 349.5 443.0 348.0 442.1C346.5 441.3 346.1 437.6 345.1 435.7C344.0 433.9 341.0 431.7 341.0 430.0C341.0 428.3 344.0 426.1 345.1 424.3C346.1 422.4 346.5 418.7 348.0 417.9C349.5 417.0 352.9 418.5 355.0 418.5C357.1 418.5 360.5 417.0 362.0 417.9C363.5 418.7 363.9 422.4 364.9 424.3C366.0 426.1 369.0 428.3 369.0 430.0Z" fill="url(#bst)" stroke="#4d74a8" stroke-width="0.8"/><path d="M121.0 475.0C121.0 476.7 118.0 478.9 116.9 480.7C115.9 482.6 115.5 486.3 114.0 487.1C112.5 488.0 109.1 486.5 107.0 486.5C104.9 486.5 101.5 488.0 100.0 487.1C98.5 486.3 98.1 482.6 97.1 480.7C96.0 478.9 93.0 476.7 93.0 475.0C93.0 473.3 96.0 471.1 97.1 469.3C98.1 467.4 98.5 463.7 100.0 462.9C101.5 462.0 104.9 463.5 107.0 463.5C109.1 463.5 112.5 462.0 114.0 462.9C115.5 463.7 115.9 467.4 116.9 469.3C118.0 471.1 121.0 473.3 121.0 475.0Z" fill="url(#bst)" stroke="#4d74a8" stroke-width="0.8"/><path d="M191.0 505.0C191.0 506.7 188.0 508.9 186.9 510.7C185.9 512.6 185.5 516.3 184.0 517.1C182.5 518.0 179.1 516.5 177.0 516.5C174.9 516.5 171.5 518.0 170.0 517.1C168.5 516.3 168.1 512.6 167.1 510.7C166.0 508.9 163.0 506.7 163.0 505.0C163.0 503.3 166.0 501.1 167.1 499.3C168.1 497.4 168.5 493.7 170.0 492.9C171.5 492.0 174.9 493.5 177.0 493.5C179.1 493.5 182.5 492.0 184.0 492.9C185.5 493.7 185.9 497.4 186.9 499.3C188.0 501.1 191.0 503.3 191.0 505.0Z" fill="url(#bst)" stroke="#4d74a8" stroke-width="0.8"/><path d="M279.0 505.0C279.0 506.7 276.0 508.9 274.9 510.7C273.9 512.6 273.5 516.3 272.0 517.1C270.5 518.0 267.1 516.5 265.0 516.5C262.9 516.5 259.5 518.0 258.0 517.1C256.5 516.3 256.1 512.6 255.1 510.7C254.0 508.9 251.0 506.7 251.0 505.0C251.0 503.3 254.0 501.1 255.1 499.3C256.1 497.4 256.5 493.7 258.0 492.9C259.5 492.0 262.9 493.5 265.0 493.5C267.1 493.5 270.5 492.0 272.0 492.9C273.5 493.7 273.9 497.4 274.9 499.3C276.0 501.1 279.0 503.3 279.0 505.0Z" fill="url(#bst)" stroke="#4d74a8" stroke-width="0.8"/><path d="M306.0 497.0C306.0 498.7 303.0 500.9 301.9 502.7C300.9 504.6 300.5 508.3 299.0 509.1C297.5 510.0 294.1 508.5 292.0 508.5C289.9 508.5 286.5 510.0 285.0 509.1C283.5 508.3 283.1 504.6 282.1 502.7C281.0 500.9 278.0 498.7 278.0 497.0C278.0 495.3 281.0 493.1 282.1 491.3C283.1 489.4 283.5 485.7 285.0 484.9C286.5 484.0 289.9 485.5 292.0 485.5C294.1 485.5 297.5 484.0 299.0 484.9C300.5 485.7 300.9 489.4 301.9 491.3C303.0 493.1 306.0 495.3 306.0 497.0Z" fill="url(#bst)" stroke="#4d74a8" stroke-width="0.8"/><path d="M216.0 572.0C216.0 573.7 213.0 575.9 211.9 577.7C210.9 579.6 210.5 583.3 209.0 584.1C207.5 585.0 204.1 583.5 202.0 583.5C199.9 583.5 196.5 585.0 195.0 584.1C193.5 583.3 193.1 579.6 192.1 577.7C191.0 575.9 188.0 573.7 188.0 572.0C188.0 570.3 191.0 568.1 192.1 566.3C193.1 564.4 193.5 560.7 195.0 559.9C196.5 559.0 199.9 560.5 202.0 560.5C204.1 560.5 207.5 559.0 209.0 559.9C210.5 560.7 210.9 564.4 211.9 566.3C213.0 568.1 216.0 570.3 216.0 572.0Z" fill="url(#bst)" stroke="#4d74a8" stroke-width="0.8"/></g>

<path d="M45.5 542.1 L45.3 539.7 L45.1 537.3 L45.0 535.0 L45.0 532.6 L45.1 530.2 L45.3 527.8 L45.6 525.4 L46.0 523.0 L46.4 520.7 L46.9 518.3 L47.6 516.0 L48.2 513.7 L49.0 511.4 L49.9 509.1 L50.8 506.8 L51.8 504.6 L52.8 502.5 L54.0 500.3 L55.2 498.2 L56.4 496.1 L57.8 494.1 L59.2 492.1 L60.6 490.2 L62.2 488.3 L63.8 486.5 L65.4 484.8 L67.1 483.1 L68.8 481.4 L70.7 479.8 L72.5 478.3 L74.4 476.8 L76.3 475.4 L78.3 474.0 L80.3 472.6 L82.3 471.2 L84.3 469.9 L86.3 468.5 L88.3 467.2 L90.3 465.8 L92.2 464.4 L94.2 463.0 L96.1 461.5 L98.0 460.1 L99.9 458.5 L101.7 456.9 L103.5 455.3 L105.3 453.7 L107.1 452.1 L108.9 450.4 L110.7 448.7 L112.5 447.1 L114.2 445.5 L116.0 443.8 L117.8 442.2 L119.6 440.6 L121.5 439.0 L123.3 437.4 L125.1 435.8 L126.9 434.2 L128.7 432.6 L130.6 431.0 L132.4 429.4 L134.2 427.8 L136.1 426.2 L137.9 424.6 L139.7 423.1 L141.6 421.5 L143.4 419.9 L145.2 418.3 L147.1 416.7 L148.9 415.2 L150.8 413.6 L152.6 412.0 L154.4 410.4 L156.3 408.9 L158.1 407.3 L159.9 405.7 L161.8 404.2 L163.6 402.6 L165.5 401.0 L167.3 399.4 L169.1 397.8 L171.0 396.3 L172.8 394.7 L174.6 393.1 L176.4 391.5 L178.3 389.9 L180.1 388.4 L181.9 386.8 L183.7 385.2 L185.6 383.6 L187.4 382.0 L189.2 380.4 L191.0 378.8 L192.8 377.2 L194.6 375.6 L196.4 373.9 L198.3 372.3 L200.1 370.7 L201.9 369.1 L203.7 367.5 L205.4 365.8 L207.2 364.2 L209.0 362.6 L210.8 360.9 L212.6 359.3 L214.4 357.7 L216.3 356.1 L218.1 354.5 L219.9 352.9 L221.7 351.3 L223.6 349.7 L225.4 348.1 L227.3 346.6 L229.2 345.0 L231.0 343.5 L232.9 342.0 L234.9 340.5 L236.8 339.0 L238.7 337.6 L240.7 336.1 L242.7 334.7 L244.7 333.4 L246.7 332.0 L248.8 330.8 L250.9 329.5 L253.0 328.4 L255.1 327.4 L257.3 326.4 L259.5 325.6 L261.7 324.8 L263.9 324.1 L266.2 323.6 L268.5 323.1 L270.8 322.7 L273.2 322.4 L275.5 322.2 L277.9 322.1 L280.3 322.0 L282.7 322.1 L285.1 322.2 L287.5 322.4 L289.9 322.7 L292.3 323.0 L294.7 323.4 L297.1 323.9 L299.4 324.5 L301.8 325.1 L304.2 325.8 L306.6 326.6 L308.9 327.4 L311.2 328.3 L313.6 329.2 L315.8 330.2 L318.1 331.2 L320.4 332.3 L322.6 333.5 L324.8 334.7 L326.9 335.9 L329.0 337.2 L331.1 338.6 L333.2 340.0 L335.2 341.4 L337.1 342.9 L339.0 344.4 L340.9 345.9 L342.7 347.5 L344.5 349.1 L346.2 350.7 L347.9 352.4 L349.6 354.1 L351.1 355.8 L352.7 357.6 L354.2 359.4 L355.6 361.2 L357.0 363.1 L358.4 365.0 L359.7 366.9 L360.9 368.9 L362.2 370.9 L363.3 372.9 L364.5 374.9 L365.6 377.0 L366.6 379.1 L367.6 381.3 L368.6 383.5 L369.5 385.7 L370.4 387.9 L371.2 390.2 L372.0 392.5 L372.8 394.8 L373.5 397.2 L374.2 399.6 L374.9 402.0 L375.5 404.5 L376.0 406.9 L376.6 409.4 L377.0 411.9 L377.4 414.4 L377.8 416.9 L378.1 419.4 L378.3 422.0 L378.4 424.5 L378.5 426.9 L378.5 429.4 L378.4 431.9 L378.2 434.3 L378.0 436.7 L377.6 439.1 L377.2 441.4 L376.6 443.7 L376.0 446.0 L375.3 448.2 L374.4 450.3 L373.4 452.4 L372.3 454.5 L371.1 456.5 L369.8 458.4 L368.4 460.3 L367.0 462.1 L365.4 463.8 L363.8 465.6 L362.1 467.3 L360.3 468.9 L358.5 470.5 L356.7 472.1 L354.8 473.7 L352.9 475.2 L350.9 476.7 L349.0 478.2 L347.0 479.7 L345.1 481.1 L343.1 482.6 L341.2 484.1 L339.2 485.5 L337.3 487.0 L335.4 488.5 L333.5 490.0 L331.6 491.6 L329.7 493.1 L327.9 494.7 L326.1 496.3 L324.3 497.9 L322.5 499.6 L320.7 501.2 L319.0 502.9 L317.2 504.5 L315.5 506.2 L313.7 507.9 L312.0 509.6 L310.3 511.3 L308.6 513.0 L306.9 514.7 L305.1 516.4 L303.4 518.1 L301.7 519.8 L300.0 521.5 L298.3 523.2 L296.6 524.8 L294.8 526.5 L293.1 528.2 L291.3 529.9 L289.6 531.5 L287.8 533.2 L286.0 534.8 L284.2 536.4 L282.4 538.0 L280.6 539.6 L278.8 541.2 L276.9 542.8 L275.1 544.4 L273.2 545.9 L271.4 547.5 L269.5 549.0 L267.6 550.6 L265.8 552.1 L263.9 553.7 L262.0 555.2 L260.1 556.7 L258.2 558.2 L256.3 559.8 L254.5 561.3 L252.6 562.8 L250.7 564.3 L248.8 565.9 L246.9 567.4 L245.1 568.9 L243.2 570.5 L241.3 572.0 L239.5 573.6 L237.6 575.1 L235.8 576.7 L234.0 578.3 L232.1 579.9 L230.3 581.5 L228.5 583.1 L226.7 584.7 L224.9 586.3 L223.2 587.9 L221.4 589.5 L219.6 591.2 L217.8 592.8 L216.1 594.4 L214.3 596.1 L212.5 597.7 L210.8 599.4 L209.0 601.0 L207.2 602.7 L205.4 604.3 L203.6 606.0 L201.8 607.6 L200.0 609.2 L198.2 610.9 L196.4 612.5 L194.6 614.1 L192.7 615.8 L190.9 617.4 L189.0 619.0 L187.1 620.5 L185.2 622.1 L183.2 623.6 L181.3 625.0 L179.3 626.4 L177.2 627.7 L175.2 628.9 L173.1 630.0 L171.0 631.0 L168.8 632.0 L166.6 632.8 L164.4 633.6 L162.2 634.2 L159.9 634.8 L157.6 635.3 L155.3 635.7 L153.0 636.0 L150.6 636.3 L148.2 636.5 L145.9 636.5 L143.5 636.6 L141.1 636.5 L138.7 636.4 L136.3 636.2 L133.9 635.9 L131.5 635.5 L129.1 635.1 L126.7 634.6 L124.3 634.1 L121.9 633.5 L119.6 632.8 L117.2 632.1 L114.9 631.3 L112.5 630.4 L110.2 629.5 L107.9 628.5 L105.7 627.5 L103.4 626.4 L101.2 625.3 L99.0 624.1 L96.9 622.9 L94.8 621.6 L92.7 620.3 L90.6 619.0 L88.6 617.5 L86.6 616.1 L84.7 614.6 L82.8 613.1 L81.0 611.5 L79.2 609.9 L77.5 608.3 L75.8 606.6 L74.1 604.9 L72.5 603.1 L71.0 601.4 L69.5 599.5 L68.0 597.7 L66.6 595.8 L65.3 593.9 L64.0 591.9 L62.7 589.9 L61.5 587.9 L60.3 585.8 L59.2 583.7 L58.1 581.5 L57.1 579.4 L56.1 577.1 L55.2 574.9 L54.3 572.6 L53.4 570.3 L52.6 568.0 L51.8 565.6 L51.0 563.3 L50.2 560.9 L49.5 558.6 L48.8 556.2 L48.1 553.9 L47.5 551.5 L46.9 549.2 L46.3 546.8 L45.9 544.5Z" fill="url(#gC)" opacity="0.18"/>
<ellipse cx="302.1" cy="406.2" rx="89.5" ry="68.0" transform="rotate(49.2 302.1 406.2)" fill="#ffffff" opacity="0.12" clip-path="url(#silC)"/>
<g clip-path="url(#rimC)"><ellipse cx="122.7" cy="556.0" rx="89.5" ry="68.0" transform="rotate(49.2 122.7 556.0)" fill="#e2e3e5" opacity="0.85"/><g filter="url(#soft)" stroke="#861630" stroke-width="1"><ellipse cx="182.3" cy="493.6" rx="17.3" ry="13.9" transform="rotate(25 182.3 493.6)" fill="url(#dk3)"/><ellipse cx="203.1" cy="526.5" rx="17.9" ry="9.0" transform="rotate(90 203.1 526.5)" fill="url(#dk1)"/><ellipse cx="153.5" cy="482.4" rx="16.8" ry="8.9" transform="rotate(90 153.5 482.4)" fill="url(#dk3)"/><ellipse cx="176.5" cy="512.9" rx="14.4" ry="10.0" transform="rotate(178 176.5 512.9)" fill="url(#dk1)"/><ellipse cx="185.5" cy="527.8" rx="15.6" ry="12.0" transform="rotate(78 185.5 527.8)" fill="url(#dk1)"/><ellipse cx="199.5" cy="544.6" rx="17.2" ry="16.1" transform="rotate(5 199.5 544.6)" fill="url(#dk1)"/><ellipse cx="158.2" cy="497.5" rx="15.5" ry="13.4" transform="rotate(139 158.2 497.5)" fill="url(#dk1)"/><ellipse cx="135.4" cy="475.5" rx="15.7" ry="14.0" transform="rotate(131 135.4 475.5)" fill="url(#dk1)"/><ellipse cx="170.4" cy="529.5" rx="13.6" ry="7.0" transform="rotate(59 170.4 529.5)" fill="url(#dk0)"/><ellipse cx="143.0" cy="499.8" rx="17.2" ry="11.7" transform="rotate(4 143.0 499.8)" fill="url(#dk3)"/><ellipse cx="154.7" cy="520.0" rx="15.1" ry="10.6" transform="rotate(54 154.7 520.0)" fill="url(#dk3)"/><ellipse cx="121.5" cy="484.2" rx="16.0" ry="9.0" transform="rotate(134 121.5 484.2)" fill="url(#dk3)"/><ellipse cx="184.8" cy="558.2" rx="17.3" ry="12.2" transform="rotate(70 184.8 558.2)" fill="url(#dk3)"/><ellipse cx="170.7" cy="547.3" rx="18.4" ry="10.5" transform="rotate(129 170.7 547.3)" fill="url(#dk3)"/><ellipse cx="122.2" cy="501.9" rx="18.5" ry="12.4" transform="rotate(146 122.2 501.9)" fill="url(#dk1)"/><ellipse cx="133.0" cy="515.5" rx="17.2" ry="10.7" transform="rotate(98 133.0 515.5)" fill="url(#dk0)"/><ellipse cx="143.6" cy="533.4" rx="16.6" ry="8.6" transform="rotate(17 143.6 533.4)" fill="url(#dk3)"/><ellipse cx="166.8" cy="561.4" rx="14.7" ry="11.7" transform="rotate(34 166.8 561.4)" fill="url(#dk1)"/><ellipse cx="155.6" cy="550.0" rx="18.1" ry="13.8" transform="rotate(50 155.6 550.0)" fill="url(#dk1)"/><ellipse cx="178.6" cy="576.7" rx="17.6" ry="12.9" transform="rotate(175 178.6 576.7)" fill="url(#dk3)"/><ellipse cx="108.3" cy="508.4" rx="17.5" ry="16.0" transform="rotate(46 108.3 508.4)" fill="url(#dk3)"/><ellipse cx="118.4" cy="520.7" rx="14.5" ry="6.2" transform="rotate(81 118.4 520.7)" fill="url(#dk1)"/><ellipse cx="163.8" cy="580.0" rx="13.3" ry="6.0" transform="rotate(108 163.8 580.0)" fill="url(#dk1)"/><ellipse cx="124.1" cy="535.4" rx="15.9" ry="14.3" transform="rotate(84 124.1 535.4)" fill="url(#dk0)"/><ellipse cx="148.4" cy="564.4" rx="15.7" ry="7.0" transform="rotate(85 148.4 564.4)" fill="url(#dk3)"/><ellipse cx="124.9" cy="551.0" rx="15.9" ry="12.4" transform="rotate(102 124.9 551.0)" fill="url(#dk0)"/><ellipse cx="151.0" cy="588.1" rx="14.1" ry="10.0" transform="rotate(176 151.0 588.1)" fill="url(#dk1)"/><ellipse cx="129.2" cy="565.8" rx="18.6" ry="8.0" transform="rotate(132 129.2 565.8)" fill="url(#dk3)"/><ellipse cx="108.4" cy="544.6" rx="14.0" ry="12.7" transform="rotate(6 108.4 544.6)" fill="url(#dk3)"/><ellipse cx="135.6" cy="579.3" rx="14.8" ry="8.7" transform="rotate(37 135.6 579.3)" fill="url(#dk3)"/></g></g>
<path d="M91.0 497.0C91.0 498.7 88.0 500.9 86.9 502.7C85.9 504.6 85.5 508.3 84.0 509.1C82.5 510.0 79.1 508.5 77.0 508.5C74.9 508.5 71.5 510.0 70.0 509.1C68.5 508.3 68.1 504.6 67.1 502.7C66.0 500.9 63.0 498.7 63.0 497.0C63.0 495.3 66.0 493.1 67.1 491.3C68.1 489.4 68.5 485.7 70.0 484.9C71.5 484.0 74.9 485.5 77.0 485.5C79.1 485.5 82.5 484.0 84.0 484.9C85.5 485.7 85.9 489.4 86.9 491.3C88.0 493.1 91.0 495.3 91.0 497.0Z" fill="url(#bf)" stroke="#2f5590" stroke-width="0.8"/><path d="M131.0 560.0C131.0 561.7 128.0 563.9 126.9 565.7C125.9 567.6 125.5 571.3 124.0 572.1C122.5 573.0 119.1 571.5 117.0 571.5C114.9 571.5 111.5 573.0 110.0 572.1C108.5 571.3 108.1 567.6 107.1 565.7C106.0 563.9 103.0 561.7 103.0 560.0C103.0 558.3 106.0 556.1 107.1 554.3C108.1 552.4 108.5 548.7 110.0 547.9C111.5 547.0 114.9 548.5 117.0 548.5C119.1 548.5 122.5 547.0 124.0 547.9C125.5 548.7 125.9 552.4 126.9 554.3C128.0 556.1 131.0 558.3 131.0 560.0Z" fill="url(#bf)" stroke="#2f5590" stroke-width="0.8"/><path d="M159.0 580.0C159.0 581.7 156.0 583.9 154.9 585.7C153.9 587.6 153.5 591.3 152.0 592.1C150.5 593.0 147.1 591.5 145.0 591.5C142.9 591.5 139.5 593.0 138.0 592.1C136.5 591.3 136.1 587.6 135.1 585.7C134.0 583.9 131.0 581.7 131.0 580.0C131.0 578.3 134.0 576.1 135.1 574.3C136.1 572.4 136.5 568.7 138.0 567.9C139.5 567.0 142.9 568.5 145.0 568.5C147.1 568.5 150.5 567.0 152.0 567.9C153.5 568.7 153.9 572.4 154.9 574.3C156.0 576.1 159.0 578.3 159.0 580.0Z" fill="url(#bf)" stroke="#2f5590" stroke-width="0.8"/>
<g clip-path="url(#rimC)"><path d="M121.0 475.0C121.0 476.7 118.0 478.9 116.9 480.7C115.9 482.6 115.5 486.3 114.0 487.1C112.5 488.0 109.1 486.5 107.0 486.5C104.9 486.5 101.5 488.0 100.0 487.1C98.5 486.3 98.1 482.6 97.1 480.7C96.0 478.9 93.0 476.7 93.0 475.0C93.0 473.3 96.0 471.1 97.1 469.3C98.1 467.4 98.5 463.7 100.0 462.9C101.5 462.0 104.9 463.5 107.0 463.5C109.1 463.5 112.5 462.0 114.0 462.9C115.5 463.7 115.9 467.4 116.9 469.3C118.0 471.1 121.0 473.3 121.0 475.0Z" fill="url(#bf)" stroke="#2f5590" stroke-width="0.8"/><path d="M191.0 505.0C191.0 506.7 188.0 508.9 186.9 510.7C185.9 512.6 185.5 516.3 184.0 517.1C182.5 518.0 179.1 516.5 177.0 516.5C174.9 516.5 171.5 518.0 170.0 517.1C168.5 516.3 168.1 512.6 167.1 510.7C166.0 508.9 163.0 506.7 163.0 505.0C163.0 503.3 166.0 501.1 167.1 499.3C168.1 497.4 168.5 493.7 170.0 492.9C171.5 492.0 174.9 493.5 177.0 493.5C179.1 493.5 182.5 492.0 184.0 492.9C185.5 493.7 185.9 497.4 186.9 499.3C188.0 501.1 191.0 503.3 191.0 505.0Z" fill="url(#bf)" stroke="#2f5590" stroke-width="0.8"/><path d="M216.0 572.0C216.0 573.7 213.0 575.9 211.9 577.7C210.9 579.6 210.5 583.3 209.0 584.1C207.5 585.0 204.1 583.5 202.0 583.5C199.9 583.5 196.5 585.0 195.0 584.1C193.5 583.3 193.1 579.6 192.1 577.7C191.0 575.9 188.0 573.7 188.0 572.0C188.0 570.3 191.0 568.1 192.1 566.3C193.1 564.4 193.5 560.7 195.0 559.9C196.5 559.0 199.9 560.5 202.0 560.5C204.1 560.5 207.5 559.0 209.0 559.9C210.5 560.7 210.9 564.4 211.9 566.3C213.0 568.1 216.0 570.3 216.0 572.0Z" fill="url(#bf)" stroke="#2f5590" stroke-width="0.8"/></g>
<ellipse cx="83" cy="566" rx="12.5" ry="18" transform="rotate(-5 83 566)" fill="url(#lr)" stroke="#b44a60" stroke-width="0.8" opacity="0.9"/>
<ellipse cx="82" cy="543" rx="13" ry="20" transform="rotate(-8 82 543)" fill="url(#lr)" stroke="#b44a60" stroke-width="0.8" opacity="0.9"/>
<ellipse cx="368" cy="399" rx="20" ry="8" transform="rotate(-35 368 399)" fill="#c42c48"/>
<ellipse cx="368" cy="399" rx="20" ry="8" transform="rotate(-35 368 399)" fill="#d99aa8" stroke="#b77486" stroke-width="0.8" clip-path="url(#silC)"/>
<text transform="translate(61 376) scale(0.96 1)" font-family="Liberation Sans" font-size="50" fill="#000">C</text>
<linearGradient id="gD" gradientUnits="userSpaceOnUse" x1="483.0" y1="439.6" x2="602.3" y2="575.9"><stop offset="0" stop-color="#a8a8a9"/><stop offset="0.045" stop-color="#c8c8c9"/><stop offset="0.1" stop-color="#d0d0d1"/><stop offset="0.2" stop-color="#d7d7d8"/><stop offset="0.5" stop-color="#dddddf"/><stop offset="0.8" stop-color="#d7d7d8"/><stop offset="0.9" stop-color="#cfcfd0"/><stop offset="0.955" stop-color="#c6c6c7"/><stop offset="1" stop-color="#a8a8a9"/></linearGradient>
<clipPath id="rimD"><ellipse cx="485.2" cy="556.0" rx="89.5" ry="68.0" transform="rotate(49.2 485.2 556.0)"/></clipPath>
<clipPath id="silD"><path d="M408.0 542.1 L407.8 539.7 L407.6 537.3 L407.5 535.0 L407.5 532.6 L407.6 530.2 L407.8 527.8 L408.1 525.4 L408.5 523.0 L408.9 520.7 L409.4 518.3 L410.1 516.0 L410.7 513.7 L411.5 511.4 L412.4 509.1 L413.3 506.8 L414.3 504.6 L415.3 502.5 L416.5 500.3 L417.7 498.2 L418.9 496.1 L420.3 494.1 L421.7 492.1 L423.1 490.2 L424.7 488.3 L426.3 486.5 L427.9 484.8 L429.6 483.1 L431.3 481.4 L433.2 479.8 L435.0 478.3 L436.9 476.8 L438.8 475.4 L440.8 474.0 L442.8 472.6 L444.8 471.2 L446.8 469.9 L448.8 468.5 L450.8 467.2 L452.8 465.8 L454.7 464.4 L456.7 463.0 L458.6 461.5 L460.5 460.1 L462.4 458.5 L464.2 456.9 L466.0 455.3 L467.8 453.7 L469.6 452.1 L471.4 450.4 L473.2 448.7 L475.0 447.1 L476.7 445.5 L478.5 443.8 L480.3 442.2 L482.1 440.6 L484.0 439.0 L485.8 437.4 L487.6 435.8 L489.4 434.2 L491.2 432.6 L493.1 431.0 L494.9 429.4 L496.7 427.8 L498.6 426.2 L500.4 424.6 L502.2 423.1 L504.1 421.5 L505.9 419.9 L507.7 418.3 L509.6 416.7 L511.4 415.2 L513.3 413.6 L515.1 412.0 L516.9 410.4 L518.8 408.9 L520.6 407.3 L522.4 405.7 L524.3 404.2 L526.1 402.6 L528.0 401.0 L529.8 399.4 L531.6 397.8 L533.5 396.3 L535.3 394.7 L537.1 393.1 L538.9 391.5 L540.8 389.9 L542.6 388.4 L544.4 386.8 L546.2 385.2 L548.1 383.6 L549.9 382.0 L551.7 380.4 L553.5 378.8 L555.3 377.2 L557.1 375.6 L558.9 373.9 L560.8 372.3 L562.6 370.7 L564.4 369.1 L566.2 367.5 L567.9 365.8 L569.7 364.2 L571.5 362.6 L573.3 360.9 L575.1 359.3 L576.9 357.7 L578.8 356.1 L580.6 354.5 L582.4 352.9 L584.2 351.3 L586.1 349.7 L587.9 348.1 L589.8 346.6 L591.7 345.0 L593.5 343.5 L595.4 342.0 L597.4 340.5 L599.3 339.0 L601.2 337.6 L603.2 336.1 L605.2 334.7 L607.2 333.4 L609.2 332.0 L611.3 330.8 L613.4 329.5 L615.5 328.4 L617.6 327.4 L619.8 326.4 L622.0 325.6 L624.2 324.8 L626.4 324.1 L628.7 323.6 L631.0 323.1 L633.3 322.7 L635.7 322.4 L638.0 322.2 L640.4 322.1 L642.8 322.0 L645.2 322.1 L647.6 322.2 L650.0 322.4 L652.4 322.7 L654.8 323.0 L657.2 323.4 L659.6 323.9 L661.9 324.5 L664.3 325.1 L666.7 325.8 L669.1 326.6 L671.4 327.4 L673.7 328.3 L676.1 329.2 L678.3 330.2 L680.6 331.2 L682.9 332.3 L685.1 333.5 L687.3 334.7 L689.4 335.9 L691.5 337.2 L693.6 338.6 L695.7 340.0 L697.7 341.4 L699.6 342.9 L701.5 344.4 L703.4 345.9 L705.2 347.5 L707.0 349.1 L708.7 350.7 L710.4 352.4 L712.1 354.1 L713.6 355.8 L715.2 357.6 L716.7 359.4 L718.1 361.2 L719.5 363.1 L720.9 365.0 L722.2 366.9 L723.4 368.9 L724.7 370.9 L725.8 372.9 L727.0 374.9 L728.1 377.0 L729.1 379.1 L730.1 381.3 L731.1 383.5 L732.0 385.7 L732.9 387.9 L733.7 390.2 L734.5 392.5 L735.3 394.8 L736.0 397.2 L736.7 399.6 L737.4 402.0 L738.0 404.5 L738.5 406.9 L739.1 409.4 L739.5 411.9 L739.9 414.4 L740.3 416.9 L740.6 419.4 L740.8 422.0 L740.9 424.5 L741.0 426.9 L741.0 429.4 L740.9 431.9 L740.7 434.3 L740.5 436.7 L740.1 439.1 L739.7 441.4 L739.1 443.7 L738.5 446.0 L737.8 448.2 L736.9 450.3 L735.9 452.4 L734.8 454.5 L733.6 456.5 L732.3 458.4 L730.9 460.3 L729.5 462.1 L727.9 463.8 L726.3 465.6 L724.6 467.3 L722.8 468.9 L721.0 470.5 L719.2 472.1 L717.3 473.7 L715.4 475.2 L713.4 476.7 L711.5 478.2 L709.5 479.7 L707.6 481.1 L705.6 482.6 L703.7 484.1 L701.7 485.5 L699.8 487.0 L697.9 488.5 L696.0 490.0 L694.1 491.6 L692.2 493.1 L690.4 494.7 L688.6 496.3 L686.8 497.9 L685.0 499.6 L683.2 501.2 L681.5 502.9 L679.7 504.5 L678.0 506.2 L676.2 507.9 L674.5 509.6 L672.8 511.3 L671.1 513.0 L669.4 514.7 L667.6 516.4 L665.9 518.1 L664.2 519.8 L662.5 521.5 L660.8 523.2 L659.1 524.8 L657.3 526.5 L655.6 528.2 L653.8 529.9 L652.1 531.5 L650.3 533.2 L648.5 534.8 L646.7 536.4 L644.9 538.0 L643.1 539.6 L641.3 541.2 L639.4 542.8 L637.6 544.4 L635.7 545.9 L633.9 547.5 L632.0 549.0 L630.1 550.6 L628.3 552.1 L626.4 553.7 L624.5 555.2 L622.6 556.7 L620.7 558.2 L618.8 559.8 L617.0 561.3 L615.1 562.8 L613.2 564.3 L611.3 565.9 L609.4 567.4 L607.6 568.9 L605.7 570.5 L603.8 572.0 L602.0 573.6 L600.1 575.1 L598.3 576.7 L596.5 578.3 L594.6 579.9 L592.8 581.5 L591.0 583.1 L589.2 584.7 L587.4 586.3 L585.7 587.9 L583.9 589.5 L582.1 591.2 L580.3 592.8 L578.6 594.4 L576.8 596.1 L575.0 597.7 L573.3 599.4 L571.5 601.0 L569.7 602.7 L567.9 604.3 L566.1 606.0 L564.3 607.6 L562.5 609.2 L560.7 610.9 L558.9 612.5 L557.1 614.1 L555.2 615.8 L553.4 617.4 L551.5 619.0 L549.6 620.5 L547.7 622.1 L545.7 623.6 L543.8 625.0 L541.8 626.4 L539.7 627.7 L537.7 628.9 L535.6 630.0 L533.5 631.0 L531.3 632.0 L529.1 632.8 L526.9 633.6 L524.7 634.2 L522.4 634.8 L520.1 635.3 L517.8 635.7 L515.5 636.0 L513.1 636.3 L510.7 636.5 L508.4 636.5 L506.0 636.6 L503.6 636.5 L501.2 636.4 L498.8 636.2 L496.4 635.9 L494.0 635.5 L491.6 635.1 L489.2 634.6 L486.8 634.1 L484.4 633.5 L482.1 632.8 L479.7 632.1 L477.4 631.3 L475.0 630.4 L472.7 629.5 L470.4 628.5 L468.2 627.5 L465.9 626.4 L463.7 625.3 L461.5 624.1 L459.4 622.9 L457.3 621.6 L455.2 620.3 L453.1 619.0 L451.1 617.5 L449.1 616.1 L447.2 614.6 L445.3 613.1 L443.5 611.5 L441.7 609.9 L440.0 608.3 L438.3 606.6 L436.6 604.9 L435.0 603.1 L433.5 601.4 L432.0 599.5 L430.5 597.7 L429.1 595.8 L427.8 593.9 L426.5 591.9 L425.2 589.9 L424.0 587.9 L422.8 585.8 L421.7 583.7 L420.6 581.5 L419.6 579.4 L418.6 577.1 L417.7 574.9 L416.8 572.6 L415.9 570.3 L415.1 568.0 L414.3 565.6 L413.5 563.3 L412.7 560.9 L412.0 558.6 L411.3 556.2 L410.6 553.9 L410.0 551.5 L409.4 549.2 L408.8 546.8 L408.4 544.5Z"/></clipPath>
<path d="M408.0 542.1 L407.8 539.7 L407.6 537.3 L407.5 535.0 L407.5 532.6 L407.6 530.2 L407.8 527.8 L408.1 525.4 L408.5 523.0 L408.9 520.7 L409.4 518.3 L410.1 516.0 L410.7 513.7 L411.5 511.4 L412.4 509.1 L413.3 506.8 L414.3 504.6 L415.3 502.5 L416.5 500.3 L417.7 498.2 L418.9 496.1 L420.3 494.1 L421.7 492.1 L423.1 490.2 L424.7 488.3 L426.3 486.5 L427.9 484.8 L429.6 483.1 L431.3 481.4 L433.2 479.8 L435.0 478.3 L436.9 476.8 L438.8 475.4 L440.8 474.0 L442.8 472.6 L444.8 471.2 L446.8 469.9 L448.8 468.5 L450.8 467.2 L452.8 465.8 L454.7 464.4 L456.7 463.0 L458.6 461.5 L460.5 460.1 L462.4 458.5 L464.2 456.9 L466.0 455.3 L467.8 453.7 L469.6 452.1 L471.4 450.4 L473.2 448.7 L475.0 447.1 L476.7 445.5 L478.5 443.8 L480.3 442.2 L482.1 440.6 L484.0 439.0 L485.8 437.4 L487.6 435.8 L489.4 434.2 L491.2 432.6 L493.1 431.0 L494.9 429.4 L496.7 427.8 L498.6 426.2 L500.4 424.6 L502.2 423.1 L504.1 421.5 L505.9 419.9 L507.7 418.3 L509.6 416.7 L511.4 415.2 L513.3 413.6 L515.1 412.0 L516.9 410.4 L518.8 408.9 L520.6 407.3 L522.4 405.7 L524.3 404.2 L526.1 402.6 L528.0 401.0 L529.8 399.4 L531.6 397.8 L533.5 396.3 L535.3 394.7 L537.1 393.1 L538.9 391.5 L540.8 389.9 L542.6 388.4 L544.4 386.8 L546.2 385.2 L548.1 383.6 L549.9 382.0 L551.7 380.4 L553.5 378.8 L555.3 377.2 L557.1 375.6 L558.9 373.9 L560.8 372.3 L562.6 370.7 L564.4 369.1 L566.2 367.5 L567.9 365.8 L569.7 364.2 L571.5 362.6 L573.3 360.9 L575.1 359.3 L576.9 357.7 L578.8 356.1 L580.6 354.5 L582.4 352.9 L584.2 351.3 L586.1 349.7 L587.9 348.1 L589.8 346.6 L591.7 345.0 L593.5 343.5 L595.4 342.0 L597.4 340.5 L599.3 339.0 L601.2 337.6 L603.2 336.1 L605.2 334.7 L607.2 333.4 L609.2 332.0 L611.3 330.8 L613.4 329.5 L615.5 328.4 L617.6 327.4 L619.8 326.4 L622.0 325.6 L624.2 324.8 L626.4 324.1 L628.7 323.6 L631.0 323.1 L633.3 322.7 L635.7 322.4 L638.0 322.2 L640.4 322.1 L642.8 322.0 L645.2 322.1 L647.6 322.2 L650.0 322.4 L652.4 322.7 L654.8 323.0 L657.2 323.4 L659.6 323.9 L661.9 324.5 L664.3 325.1 L666.7 325.8 L669.1 326.6 L671.4 327.4 L673.7 328.3 L676.1 329.2 L678.3 330.2 L680.6 331.2 L682.9 332.3 L685.1 333.5 L687.3 334.7 L689.4 335.9 L691.5 337.2 L693.6 338.6 L695.7 340.0 L697.7 341.4 L699.6 342.9 L701.5 344.4 L703.4 345.9 L705.2 347.5 L707.0 349.1 L708.7 350.7 L710.4 352.4 L712.1 354.1 L713.6 355.8 L715.2 357.6 L716.7 359.4 L718.1 361.2 L719.5 363.1 L720.9 365.0 L722.2 366.9 L723.4 368.9 L724.7 370.9 L725.8 372.9 L727.0 374.9 L728.1 377.0 L729.1 379.1 L730.1 381.3 L731.1 383.5 L732.0 385.7 L732.9 387.9 L733.7 390.2 L734.5 392.5 L735.3 394.8 L736.0 397.2 L736.7 399.6 L737.4 402.0 L738.0 404.5 L738.5 406.9 L739.1 409.4 L739.5 411.9 L739.9 414.4 L740.3 416.9 L740.6 419.4 L740.8 422.0 L740.9 424.5 L741.0 426.9 L741.0 429.4 L740.9 431.9 L740.7 434.3 L740.5 436.7 L740.1 439.1 L739.7 441.4 L739.1 443.7 L738.5 446.0 L737.8 448.2 L736.9 450.3 L735.9 452.4 L734.8 454.5 L733.6 456.5 L732.3 458.4 L730.9 460.3 L729.5 462.1 L727.9 463.8 L726.3 465.6 L724.6 467.3 L722.8 468.9 L721.0 470.5 L719.2 472.1 L717.3 473.7 L715.4 475.2 L713.4 476.7 L711.5 478.2 L709.5 479.7 L707.6 481.1 L705.6 482.6 L703.7 484.1 L701.7 485.5 L699.8 487.0 L697.9 488.5 L696.0 490.0 L694.1 491.6 L692.2 493.1 L690.4 494.7 L688.6 496.3 L686.8 497.9 L685.0 499.6 L683.2 501.2 L681.5 502.9 L679.7 504.5 L678.0 506.2 L676.2 507.9 L674.5 509.6 L672.8 511.3 L671.1 513.0 L669.4 514.7 L667.6 516.4 L665.9 518.1 L664.2 519.8 L662.5 521.5 L660.8 523.2 L659.1 524.8 L657.3 526.5 L655.6 528.2 L653.8 529.9 L652.1 531.5 L650.3 533.2 L648.5 534.8 L646.7 536.4 L644.9 538.0 L643.1 539.6 L641.3 541.2 L639.4 542.8 L637.6 544.4 L635.7 545.9 L633.9 547.5 L632.0 549.0 L630.1 550.6 L628.3 552.1 L626.4 553.7 L624.5 555.2 L622.6 556.7 L620.7 558.2 L618.8 559.8 L617.0 561.3 L615.1 562.8 L613.2 564.3 L611.3 565.9 L609.4 567.4 L607.6 568.9 L605.7 570.5 L603.8 572.0 L602.0 573.6 L600.1 575.1 L598.3 576.7 L596.5 578.3 L594.6 579.9 L592.8 581.5 L591.0 583.1 L589.2 584.7 L587.4 586.3 L585.7 587.9 L583.9 589.5 L582.1 591.2 L580.3 592.8 L578.6 594.4 L576.8 596.1 L575.0 597.7 L573.3 599.4 L571.5 601.0 L569.7 602.7 L567.9 604.3 L566.1 606.0 L564.3 607.6 L562.5 609.2 L560.7 610.9 L558.9 612.5 L557.1 614.1 L555.2 615.8 L553.4 617.4 L551.5 619.0 L549.6 620.5 L547.7 622.1 L545.7 623.6 L543.8 625.0 L541.8 626.4 L539.7 627.7 L537.7 628.9 L535.6 630.0 L533.5 631.0 L531.3 632.0 L529.1 632.8 L526.9 633.6 L524.7 634.2 L522.4 634.8 L520.1 635.3 L517.8 635.7 L515.5 636.0 L513.1 636.3 L510.7 636.5 L508.4 636.5 L506.0 636.6 L503.6 636.5 L501.2 636.4 L498.8 636.2 L496.4 635.9 L494.0 635.5 L491.6 635.1 L489.2 634.6 L486.8 634.1 L484.4 633.5 L482.1 632.8 L479.7 632.1 L477.4 631.3 L475.0 630.4 L472.7 629.5 L470.4 628.5 L468.2 627.5 L465.9 626.4 L463.7 625.3 L461.5 624.1 L459.4 622.9 L457.3 621.6 L455.2 620.3 L453.1 619.0 L451.1 617.5 L449.1 616.1 L447.2 614.6 L445.3 613.1 L443.5 611.5 L441.7 609.9 L440.0 608.3 L438.3 606.6 L436.6 604.9 L435.0 603.1 L433.5 601.4 L432.0 599.5 L430.5 597.7 L429.1 595.8 L427.8 593.9 L426.5 591.9 L425.2 589.9 L424.0 587.9 L422.8 585.8 L421.7 583.7 L420.6 581.5 L419.6 579.4 L418.6 577.1 L417.7 574.9 L416.8 572.6 L415.9 570.3 L415.1 568.0 L414.3 565.6 L413.5 563.3 L412.7 560.9 L412.0 558.6 L411.3 556.2 L410.6 553.9 L410.0 551.5 L409.4 549.2 L408.8 546.8 L408.4 544.5Z" fill="url(#gD)"/>
<ellipse cx="485.2" cy="556.0" rx="89.5" ry="68.0" transform="rotate(49.2 485.2 556.0)" fill="#e4e5e7"/>
<ellipse cx="664.6" cy="406.2" rx="89.5" ry="68.0" transform="rotate(49.2 664.6 406.2)" fill="#eaebec" opacity="0.85" clip-path="url(#silD)"/>
<g clip-path="url(#silD)"><g filter="url(#soft)" stroke="#86344e" stroke-width="1.1" stroke-opacity="0.85" fill-opacity="0.92"><ellipse cx="720.6" cy="395.8" rx="17.0" ry="13.7" transform="rotate(174 720.6 395.8)" fill="url(#pk0)"/><ellipse cx="703.3" cy="381.8" rx="19.1" ry="17.3" transform="rotate(127 703.3 381.8)" fill="url(#pk2)"/><ellipse cx="706.0" cy="397.6" rx="15.4" ry="13.2" transform="rotate(150 706.0 397.6)" fill="url(#pk0)"/><ellipse cx="716.2" cy="409.7" rx="14.8" ry="11.1" transform="rotate(36 716.2 409.7)" fill="url(#pk1)"/><ellipse cx="652.7" cy="339.7" rx="15.7" ry="11.4" transform="rotate(117 652.7 339.7)" fill="url(#pk2)"/><ellipse cx="684.3" cy="377.9" rx="16.3" ry="14.1" transform="rotate(130 684.3 377.9)" fill="url(#pk0)"/><ellipse cx="722.2" cy="428.7" rx="18.0" ry="13.2" transform="rotate(63 722.2 428.7)" fill="url(#pk1)"/><ellipse cx="669.0" cy="368.9" rx="19.2" ry="12.2" transform="rotate(8 669.0 368.9)" fill="url(#pk0)"/><ellipse cx="705.3" cy="419.4" rx="19.6" ry="16.8" transform="rotate(141 705.3 419.4)" fill="url(#pk0)"/><ellipse cx="655.1" cy="364.4" rx="15.1" ry="14.3" transform="rotate(65 655.1 364.4)" fill="url(#pk2)"/><ellipse cx="683.4" cy="397.6" rx="20.0" ry="14.3" transform="rotate(70 683.4 397.6)" fill="url(#pk0)"/><ellipse cx="670.8" cy="385.7" rx="18.3" ry="16.2" transform="rotate(8 670.8 385.7)" fill="url(#pk1)"/><ellipse cx="634.7" cy="348.2" rx="18.7" ry="16.7" transform="rotate(133 634.7 348.2)" fill="url(#pk1)"/><ellipse cx="712.2" cy="441.2" rx="18.9" ry="12.6" transform="rotate(118 712.2 441.2)" fill="url(#pk0)"/><ellipse cx="690.6" cy="420.7" rx="14.1" ry="13.2" transform="rotate(38 690.6 420.7)" fill="url(#pk2)"/><ellipse cx="668.3" cy="403.2" rx="16.5" ry="9.9" transform="rotate(151 668.3 403.2)" fill="url(#pk0)"/><ellipse cx="656.8" cy="390.7" rx="15.1" ry="11.1" transform="rotate(9 656.8 390.7)" fill="url(#pk0)"/><ellipse cx="696.5" cy="438.3" rx="17.0" ry="16.1" transform="rotate(14 696.5 438.3)" fill="url(#pk0)"/><ellipse cx="640.6" cy="374.8" rx="17.5" ry="14.8" transform="rotate(152 640.6 374.8)" fill="url(#pk1)"/><ellipse cx="672.7" cy="426.9" rx="17.7" ry="10.9" transform="rotate(27 672.7 426.9)" fill="url(#pk1)"/><ellipse cx="697.2" cy="456.0" rx="16.7" ry="14.8" transform="rotate(35 697.2 456.0)" fill="url(#pk0)"/><ellipse cx="650.7" cy="407.9" rx="16.4" ry="11.2" transform="rotate(132 650.7 407.9)" fill="url(#pk0)"/><ellipse cx="677.3" cy="440.9" rx="19.1" ry="13.3" transform="rotate(141 677.3 440.9)" fill="url(#pk1)"/><ellipse cx="615.0" cy="370.1" rx="16.4" ry="10.6" transform="rotate(50 615.0 370.1)" fill="url(#pk0)"/><ellipse cx="657.5" cy="427.2" rx="16.4" ry="12.2" transform="rotate(47 657.5 427.2)" fill="url(#pk0)"/><ellipse cx="680.8" cy="455.7" rx="15.1" ry="13.7" transform="rotate(7 680.8 455.7)" fill="url(#pk0)"/><ellipse cx="633.8" cy="401.7" rx="18.8" ry="15.8" transform="rotate(33 633.8 401.7)" fill="url(#pk1)"/><ellipse cx="619.3" cy="386.9" rx="14.8" ry="13.9" transform="rotate(60 619.3 386.9)" fill="url(#pk0)"/><ellipse cx="602.8" cy="379.4" rx="14.8" ry="9.0" transform="rotate(44 602.8 379.4)" fill="url(#pk0)"/><ellipse cx="657.1" cy="442.8" rx="16.3" ry="11.3" transform="rotate(155 657.1 442.8)" fill="url(#pk0)"/><ellipse cx="639.4" cy="425.8" rx="17.8" ry="13.7" transform="rotate(90 639.4 425.8)" fill="url(#pk2)"/><ellipse cx="627.3" cy="414.8" rx="14.9" ry="9.1" transform="rotate(53 627.3 414.8)" fill="url(#pk1)"/><ellipse cx="610.2" cy="400.8" rx="16.4" ry="15.0" transform="rotate(25 610.2 400.8)" fill="url(#pk1)"/><ellipse cx="666.7" cy="467.4" rx="19.2" ry="16.9" transform="rotate(133 666.7 467.4)" fill="url(#pk1)"/><ellipse cx="597.1" cy="393.5" rx="15.5" ry="10.7" transform="rotate(37 597.1 393.5)" fill="url(#pk1)"/><ellipse cx="640.9" cy="447.9" rx="18.7" ry="12.8" transform="rotate(1 640.9 447.9)" fill="url(#pk0)"/><ellipse cx="629.2" cy="439.2" rx="17.0" ry="11.8" transform="rotate(50 629.2 439.2)" fill="url(#pk1)"/><ellipse cx="615.6" cy="424.9" rx="15.2" ry="11.9" transform="rotate(136 615.6 424.9)" fill="url(#pk1)"/><ellipse cx="650.7" cy="471.4" rx="19.1" ry="11.8" transform="rotate(2 650.7 471.4)" fill="url(#pk1)"/><ellipse cx="580.2" cy="390.2" rx="19.7" ry="13.2" transform="rotate(117 580.2 390.2)" fill="url(#pk0)"/><ellipse cx="595.3" cy="408.3" rx="14.8" ry="12.2" transform="rotate(58 595.3 408.3)" fill="url(#pk0)"/><ellipse cx="627.4" cy="454.8" rx="16.3" ry="11.0" transform="rotate(27 627.4 454.8)" fill="url(#pk1)"/><ellipse cx="653.1" cy="486.6" rx="19.8" ry="12.3" transform="rotate(53 653.1 486.6)" fill="url(#pk1)"/><ellipse cx="613.8" cy="445.3" rx="19.8" ry="16.3" transform="rotate(138 613.8 445.3)" fill="url(#pk3)"/><ellipse cx="600.7" cy="433.1" rx="19.3" ry="16.5" transform="rotate(13 600.7 433.1)" fill="url(#pk0)"/><ellipse cx="634.2" cy="474.7" rx="17.6" ry="13.4" transform="rotate(174 634.2 474.7)" fill="url(#pk1)"/><ellipse cx="570.8" cy="404.6" rx="14.2" ry="10.3" transform="rotate(93 570.8 404.6)" fill="url(#pk0)"/><ellipse cx="587.9" cy="424.6" rx="16.5" ry="12.2" transform="rotate(115 587.9 424.6)" fill="url(#pk0)"/><ellipse cx="638.9" cy="489.9" rx="18.7" ry="14.7" transform="rotate(134 638.9 489.9)" fill="url(#pk0)"/><ellipse cx="596.7" cy="449.6" rx="18.4" ry="16.1" transform="rotate(79 596.7 449.6)" fill="url(#pk0)"/><ellipse cx="614.8" cy="475.4" rx="18.6" ry="11.6" transform="rotate(174 614.8 475.4)" fill="url(#pk0)"/><ellipse cx="605.0" cy="464.6" rx="14.3" ry="8.9" transform="rotate(26 605.0 464.6)" fill="url(#pk0)"/><ellipse cx="564.4" cy="421.4" rx="17.6" ry="12.8" transform="rotate(106 564.4 421.4)" fill="url(#pk1)"/><ellipse cx="581.0" cy="441.9" rx="15.4" ry="10.4" transform="rotate(97 581.0 441.9)" fill="url(#pk3)"/><ellipse cx="633.9" cy="506.5" rx="14.7" ry="10.5" transform="rotate(96 633.9 506.5)" fill="url(#pk0)"/><ellipse cx="614.8" cy="495.4" rx="16.2" ry="14.8" transform="rotate(115 614.8 495.4)" fill="url(#pk0)"/><ellipse cx="596.3" cy="478.2" rx="16.9" ry="12.6" transform="rotate(146 596.3 478.2)" fill="url(#pk3)"/><ellipse cx="582.6" cy="463.0" rx="19.2" ry="16.6" transform="rotate(167 582.6 463.0)" fill="url(#pk0)"/><ellipse cx="564.9" cy="445.6" rx="16.7" ry="12.9" transform="rotate(59 564.9 445.6)" fill="url(#pk0)"/><ellipse cx="549.2" cy="428.4" rx="17.3" ry="14.4" transform="rotate(160 549.2 428.4)" fill="url(#pk0)"/><ellipse cx="613.8" cy="512.2" rx="18.3" ry="11.1" transform="rotate(108 613.8 512.2)" fill="url(#pk1)"/><ellipse cx="588.7" cy="491.5" rx="19.6" ry="17.6" transform="rotate(86 588.7 491.5)" fill="url(#pk0)"/><ellipse cx="568.6" cy="472.7" rx="15.5" ry="14.4" transform="rotate(59 568.6 472.7)" fill="url(#pk0)"/><ellipse cx="546.6" cy="449.6" rx="15.3" ry="12.6" transform="rotate(106 546.6 449.6)" fill="url(#pk0)"/><ellipse cx="555.6" cy="461.5" rx="17.2" ry="11.4" transform="rotate(28 555.6 461.5)" fill="url(#pk1)"/><ellipse cx="596.5" cy="514.4" rx="19.7" ry="18.6" transform="rotate(156 596.5 514.4)" fill="url(#pk0)"/><ellipse cx="533.1" cy="441.9" rx="19.7" ry="18.3" transform="rotate(94 533.1 441.9)" fill="url(#pk1)"/><ellipse cx="584.3" cy="505.7" rx="18.3" ry="11.1" transform="rotate(163 584.3 505.7)" fill="url(#pk3)"/><ellipse cx="604.3" cy="529.2" rx="16.5" ry="13.3" transform="rotate(71 604.3 529.2)" fill="url(#pk1)"/><ellipse cx="567.8" cy="488.4" rx="14.3" ry="11.8" transform="rotate(116 567.8 488.4)" fill="url(#pk1)"/><ellipse cx="569.8" cy="503.0" rx="16.9" ry="12.4" transform="rotate(38 569.8 503.0)" fill="url(#pk3)"/><ellipse cx="530.2" cy="457.4" rx="14.2" ry="12.7" transform="rotate(92 530.2 457.4)" fill="url(#pk3)"/><ellipse cx="542.1" cy="472.0" rx="19.1" ry="17.6" transform="rotate(76 542.1 472.0)" fill="url(#pk1)"/><ellipse cx="550.7" cy="487.2" rx="14.9" ry="10.7" transform="rotate(53 550.7 487.2)" fill="url(#pk1)"/><ellipse cx="592.3" cy="538.0" rx="19.3" ry="13.3" transform="rotate(137 592.3 538.0)" fill="url(#pk3)"/><ellipse cx="582.3" cy="527.1" rx="18.7" ry="15.3" transform="rotate(16 582.3 527.1)" fill="url(#pk1)"/><ellipse cx="515.4" cy="457.6" rx="16.5" ry="12.4" transform="rotate(165 515.4 457.6)" fill="url(#pk0)"/><ellipse cx="563.4" cy="516.4" rx="20.0" ry="15.6" transform="rotate(39 563.4 516.4)" fill="url(#pk3)"/><ellipse cx="530.3" cy="485.7" rx="16.3" ry="12.5" transform="rotate(91 530.3 485.7)" fill="url(#pk1)"/><ellipse cx="574.4" cy="539.8" rx="18.9" ry="13.2" transform="rotate(56 574.4 539.8)" fill="url(#pk3)"/><ellipse cx="542.9" cy="509.6" rx="18.1" ry="15.4" transform="rotate(68 542.9 509.6)" fill="url(#pk1)"/><ellipse cx="503.8" cy="470.8" rx="16.5" ry="13.2" transform="rotate(52 503.8 470.8)" fill="url(#pk0)"/><ellipse cx="513.7" cy="483.2" rx="14.3" ry="9.1" transform="rotate(148 513.7 483.2)" fill="url(#pk1)"/><ellipse cx="555.0" cy="536.1" rx="14.3" ry="13.3" transform="rotate(69 555.0 536.1)" fill="url(#pk1)"/><ellipse cx="541.1" cy="525.1" rx="15.3" ry="14.4" transform="rotate(83 541.1 525.1)" fill="url(#pk3)"/><ellipse cx="520.0" cy="506.8" rx="18.7" ry="15.7" transform="rotate(122 520.0 506.8)" fill="url(#pk1)"/><ellipse cx="562.7" cy="563.1" rx="19.8" ry="13.8" transform="rotate(136 562.7 563.1)" fill="url(#pk3)"/><ellipse cx="502.0" cy="493.0" rx="18.3" ry="15.2" transform="rotate(74 502.0 493.0)" fill="url(#pk3)"/><ellipse cx="522.2" cy="527.9" rx="18.3" ry="13.7" transform="rotate(42 522.2 527.9)" fill="url(#pk3)"/><ellipse cx="547.8" cy="558.1" rx="17.3" ry="11.5" transform="rotate(175 547.8 558.1)" fill="url(#pk1)"/><ellipse cx="481.1" cy="483.8" rx="19.4" ry="16.2" transform="rotate(71 481.1 483.8)" fill="url(#pk1)"/><ellipse cx="507.6" cy="515.9" rx="18.5" ry="16.1" transform="rotate(155 507.6 515.9)" fill="url(#pk3)"/><ellipse cx="532.5" cy="545.7" rx="16.8" ry="13.7" transform="rotate(170 532.5 545.7)" fill="url(#pk0)"/><ellipse cx="488.9" cy="507.1" rx="18.3" ry="13.7" transform="rotate(49 488.9 507.1)" fill="url(#pk0)"/><ellipse cx="542.3" cy="571.7" rx="19.8" ry="16.9" transform="rotate(42 542.3 571.7)" fill="url(#pk3)"/><ellipse cx="531.8" cy="560.7" rx="18.6" ry="16.2" transform="rotate(158 531.8 560.7)" fill="url(#pk1)"/><ellipse cx="507.5" cy="540.4" rx="16.3" ry="15.0" transform="rotate(95 507.5 540.4)" fill="url(#pk1)"/><ellipse cx="468.1" cy="496.2" rx="19.0" ry="11.9" transform="rotate(1 468.1 496.2)" fill="url(#pk3)"/><ellipse cx="494.3" cy="527.8" rx="14.9" ry="11.4" transform="rotate(69 494.3 527.8)" fill="url(#pk3)"/><ellipse cx="474.7" cy="512.0" rx="17.9" ry="11.8" transform="rotate(8 474.7 512.0)" fill="url(#pk0)"/><ellipse cx="526.7" cy="576.2" rx="15.4" ry="14.5" transform="rotate(157 526.7 576.2)" fill="url(#pk3)"/><ellipse cx="511.5" cy="559.6" rx="14.6" ry="9.3" transform="rotate(55 511.5 559.6)" fill="url(#pk3)"/><ellipse cx="490.4" cy="543.0" rx="14.1" ry="11.4" transform="rotate(108 490.4 543.0)" fill="url(#pk0)"/><ellipse cx="475.5" cy="526.6" rx="19.2" ry="16.9" transform="rotate(126 475.5 526.6)" fill="url(#pk3)"/><ellipse cx="459.5" cy="509.9" rx="16.3" ry="11.4" transform="rotate(141 459.5 509.9)" fill="url(#pk3)"/><ellipse cx="494.7" cy="557.5" rx="14.7" ry="9.5" transform="rotate(59 494.7 557.5)" fill="url(#pk3)"/><ellipse cx="508.2" cy="573.8" rx="17.0" ry="11.1" transform="rotate(69 508.2 573.8)" fill="url(#pk3)"/><ellipse cx="517.3" cy="587.7" rx="14.3" ry="10.5" transform="rotate(27 517.3 587.7)" fill="url(#pk1)"/><ellipse cx="478.2" cy="553.8" rx="17.9" ry="13.7" transform="rotate(157 478.2 553.8)" fill="url(#pk3)"/><ellipse cx="459.2" cy="537.4" rx="19.0" ry="16.1" transform="rotate(45 459.2 537.4)" fill="url(#pk1)"/><ellipse cx="483.0" cy="568.2" rx="16.9" ry="15.4" transform="rotate(159 483.0 568.2)" fill="url(#pk1)"/></g><circle cx="600" cy="372" r="10.5" fill="url(#bs)" stroke="#4d74a8" stroke-width="0.8"/><circle cx="565" cy="385" r="10.5" fill="url(#bs)" stroke="#4d74a8" stroke-width="0.8"/><circle cx="605" cy="392" r="10.5" fill="url(#bs)" stroke="#4d74a8" stroke-width="0.8"/><circle cx="620" cy="435" r="10.5" fill="url(#bs)" stroke="#4d74a8" stroke-width="0.8"/><circle cx="712" cy="425" r="10.5" fill="url(#bs)" stroke="#4d74a8" stroke-width="0.8"/><circle cx="690" cy="435" r="10.5" fill="url(#bs)" stroke="#4d74a8" stroke-width="0.8"/><circle cx="510" cy="447" r="10.5" fill="url(#bs)" stroke="#4d74a8" stroke-width="0.8"/><circle cx="477" cy="460" r="10.5" fill="url(#bs)" stroke="#4d74a8" stroke-width="0.8"/><circle cx="515" cy="470" r="10.5" fill="url(#bs)" stroke="#4d74a8" stroke-width="0.8"/><circle cx="695" cy="467" r="10.5" fill="url(#bs)" stroke="#4d74a8" stroke-width="0.8"/><circle cx="625" cy="502" r="10.5" fill="url(#bs)" stroke="#4d74a8" stroke-width="0.8"/><circle cx="600" cy="512" r="10.5" fill="url(#bs)" stroke="#4d74a8" stroke-width="0.8"/><circle cx="605" cy="545" r="10.5" fill="url(#bs)" stroke="#4d74a8" stroke-width="0.8"/></g>
<circle cx="710" cy="357" r="10.5" fill="url(#bs)" stroke="#4d74a8" stroke-width="0.8"/>
<path d="M408.0 542.1 L407.8 539.7 L407.6 537.3 L407.5 535.0 L407.5 532.6 L407.6 530.2 L407.8 527.8 L408.1 525.4 L408.5 523.0 L408.9 520.7 L409.4 518.3 L410.1 516.0 L410.7 513.7 L411.5 511.4 L412.4 509.1 L413.3 506.8 L414.3 504.6 L415.3 502.5 L416.5 500.3 L417.7 498.2 L418.9 496.1 L420.3 494.1 L421.7 492.1 L423.1 490.2 L424.7 488.3 L426.3 486.5 L427.9 484.8 L429.6 483.1 L431.3 481.4 L433.2 479.8 L435.0 478.3 L436.9 476.8 L438.8 475.4 L440.8 474.0 L442.8 472.6 L444.8 471.2 L446.8 469.9 L448.8 468.5 L450.8 467.2 L452.8 465.8 L454.7 464.4 L456.7 463.0 L458.6 461.5 L460.5 460.1 L462.4 458.5 L464.2 456.9 L466.0 455.3 L467.8 453.7 L469.6 452.1 L471.4 450.4 L473.2 448.7 L475.0 447.1 L476.7 445.5 L478.5 443.8 L480.3 442.2 L482.1 440.6 L484.0 439.0 L485.8 437.4 L487.6 435.8 L489.4 434.2 L491.2 432.6 L493.1 431.0 L494.9 429.4 L496.7 427.8 L498.6 426.2 L500.4 424.6 L502.2 423.1 L504.1 421.5 L505.9 419.9 L507.7 418.3 L509.6 416.7 L511.4 415.2 L513.3 413.6 L515.1 412.0 L516.9 410.4 L518.8 408.9 L520.6 407.3 L522.4 405.7 L524.3 404.2 L526.1 402.6 L528.0 401.0 L529.8 399.4 L531.6 397.8 L533.5 396.3 L535.3 394.7 L537.1 393.1 L538.9 391.5 L540.8 389.9 L542.6 388.4 L544.4 386.8 L546.2 385.2 L548.1 383.6 L549.9 382.0 L551.7 380.4 L553.5 378.8 L555.3 377.2 L557.1 375.6 L558.9 373.9 L560.8 372.3 L562.6 370.7 L564.4 369.1 L566.2 367.5 L567.9 365.8 L569.7 364.2 L571.5 362.6 L573.3 360.9 L575.1 359.3 L576.9 357.7 L578.8 356.1 L580.6 354.5 L582.4 352.9 L584.2 351.3 L586.1 349.7 L587.9 348.1 L589.8 346.6 L591.7 345.0 L593.5 343.5 L595.4 342.0 L597.4 340.5 L599.3 339.0 L601.2 337.6 L603.2 336.1 L605.2 334.7 L607.2 333.4 L609.2 332.0 L611.3 330.8 L613.4 329.5 L615.5 328.4 L617.6 327.4 L619.8 326.4 L622.0 325.6 L624.2 324.8 L626.4 324.1 L628.7 323.6 L631.0 323.1 L633.3 322.7 L635.7 322.4 L638.0 322.2 L640.4 322.1 L642.8 322.0 L645.2 322.1 L647.6 322.2 L650.0 322.4 L652.4 322.7 L654.8 323.0 L657.2 323.4 L659.6 323.9 L661.9 324.5 L664.3 325.1 L666.7 325.8 L669.1 326.6 L671.4 327.4 L673.7 328.3 L676.1 329.2 L678.3 330.2 L680.6 331.2 L682.9 332.3 L685.1 333.5 L687.3 334.7 L689.4 335.9 L691.5 337.2 L693.6 338.6 L695.7 340.0 L697.7 341.4 L699.6 342.9 L701.5 344.4 L703.4 345.9 L705.2 347.5 L707.0 349.1 L708.7 350.7 L710.4 352.4 L712.1 354.1 L713.6 355.8 L715.2 357.6 L716.7 359.4 L718.1 361.2 L719.5 363.1 L720.9 365.0 L722.2 366.9 L723.4 368.9 L724.7 370.9 L725.8 372.9 L727.0 374.9 L728.1 377.0 L729.1 379.1 L730.1 381.3 L731.1 383.5 L732.0 385.7 L732.9 387.9 L733.7 390.2 L734.5 392.5 L735.3 394.8 L736.0 397.2 L736.7 399.6 L737.4 402.0 L738.0 404.5 L738.5 406.9 L739.1 409.4 L739.5 411.9 L739.9 414.4 L740.3 416.9 L740.6 419.4 L740.8 422.0 L740.9 424.5 L741.0 426.9 L741.0 429.4 L740.9 431.9 L740.7 434.3 L740.5 436.7 L740.1 439.1 L739.7 441.4 L739.1 443.7 L738.5 446.0 L737.8 448.2 L736.9 450.3 L735.9 452.4 L734.8 454.5 L733.6 456.5 L732.3 458.4 L730.9 460.3 L729.5 462.1 L727.9 463.8 L726.3 465.6 L724.6 467.3 L722.8 468.9 L721.0 470.5 L719.2 472.1 L717.3 473.7 L715.4 475.2 L713.4 476.7 L711.5 478.2 L709.5 479.7 L707.6 481.1 L705.6 482.6 L703.7 484.1 L701.7 485.5 L699.8 487.0 L697.9 488.5 L696.0 490.0 L694.1 491.6 L692.2 493.1 L690.4 494.7 L688.6 496.3 L686.8 497.9 L685.0 499.6 L683.2 501.2 L681.5 502.9 L679.7 504.5 L678.0 506.2 L676.2 507.9 L674.5 509.6 L672.8 511.3 L671.1 513.0 L669.4 514.7 L667.6 516.4 L665.9 518.1 L664.2 519.8 L662.5 521.5 L660.8 523.2 L659.1 524.8 L657.3 526.5 L655.6 528.2 L653.8 529.9 L652.1 531.5 L650.3 533.2 L648.5 534.8 L646.7 536.4 L644.9 538.0 L643.1 539.6 L641.3 541.2 L639.4 542.8 L637.6 544.4 L635.7 545.9 L633.9 547.5 L632.0 549.0 L630.1 550.6 L628.3 552.1 L626.4 553.7 L624.5 555.2 L622.6 556.7 L620.7 558.2 L618.8 559.8 L617.0 561.3 L615.1 562.8 L613.2 564.3 L611.3 565.9 L609.4 567.4 L607.6 568.9 L605.7 570.5 L603.8 572.0 L602.0 573.6 L600.1 575.1 L598.3 576.7 L596.5 578.3 L594.6 579.9 L592.8 581.5 L591.0 583.1 L589.2 584.7 L587.4 586.3 L585.7 587.9 L583.9 589.5 L582.1 591.2 L580.3 592.8 L578.6 594.4 L576.8 596.1 L575.0 597.7 L573.3 599.4 L571.5 601.0 L569.7 602.7 L567.9 604.3 L566.1 606.0 L564.3 607.6 L562.5 609.2 L560.7 610.9 L558.9 612.5 L557.1 614.1 L555.2 615.8 L553.4 617.4 L551.5 619.0 L549.6 620.5 L547.7 622.1 L545.7 623.6 L543.8 625.0 L541.8 626.4 L539.7 627.7 L537.7 628.9 L535.6 630.0 L533.5 631.0 L531.3 632.0 L529.1 632.8 L526.9 633.6 L524.7 634.2 L522.4 634.8 L520.1 635.3 L517.8 635.7 L515.5 636.0 L513.1 636.3 L510.7 636.5 L508.4 636.5 L506.0 636.6 L503.6 636.5 L501.2 636.4 L498.8 636.2 L496.4 635.9 L494.0 635.5 L491.6 635.1 L489.2 634.6 L486.8 634.1 L484.4 633.5 L482.1 632.8 L479.7 632.1 L477.4 631.3 L475.0 630.4 L472.7 629.5 L470.4 628.5 L468.2 627.5 L465.9 626.4 L463.7 625.3 L461.5 624.1 L459.4 622.9 L457.3 621.6 L455.2 620.3 L453.1 619.0 L451.1 617.5 L449.1 616.1 L447.2 614.6 L445.3 613.1 L443.5 611.5 L441.7 609.9 L440.0 608.3 L438.3 606.6 L436.6 604.9 L435.0 603.1 L433.5 601.4 L432.0 599.5 L430.5 597.7 L429.1 595.8 L427.8 593.9 L426.5 591.9 L425.2 589.9 L424.0 587.9 L422.8 585.8 L421.7 583.7 L420.6 581.5 L419.6 579.4 L418.6 577.1 L417.7 574.9 L416.8 572.6 L415.9 570.3 L415.1 568.0 L414.3 565.6 L413.5 563.3 L412.7 560.9 L412.0 558.6 L411.3 556.2 L410.6 553.9 L410.0 551.5 L409.4 549.2 L408.8 546.8 L408.4 544.5Z" fill="url(#gD)" opacity="0.18"/>
<ellipse cx="664.6" cy="406.2" rx="89.5" ry="68.0" transform="rotate(49.2 664.6 406.2)" fill="#ffffff" opacity="0.12" clip-path="url(#silD)"/>
<g clip-path="url(#rimD)"><ellipse cx="485.2" cy="556.0" rx="89.5" ry="68.0" transform="rotate(49.2 485.2 556.0)" fill="#e2e3e5" opacity="0.85"/><g filter="url(#soft)" stroke="#861630" stroke-width="1"><ellipse cx="563.4" cy="516.4" rx="18.6" ry="14.5" transform="rotate(39 563.4 516.4)" fill="url(#dk3)"/><ellipse cx="530.3" cy="485.7" rx="15.2" ry="11.6" transform="rotate(91 530.3 485.7)" fill="url(#dk1)"/><ellipse cx="574.4" cy="539.8" rx="17.6" ry="12.3" transform="rotate(56 574.4 539.8)" fill="url(#dk3)"/><ellipse cx="542.9" cy="509.6" rx="16.9" ry="14.4" transform="rotate(68 542.9 509.6)" fill="url(#dk1)"/><ellipse cx="503.8" cy="470.8" rx="15.3" ry="12.3" transform="rotate(52 503.8 470.8)" fill="url(#dk0)"/><ellipse cx="513.7" cy="483.2" rx="13.3" ry="8.4" transform="rotate(148 513.7 483.2)" fill="url(#dk1)"/><ellipse cx="555.0" cy="536.1" rx="13.3" ry="12.4" transform="rotate(69 555.0 536.1)" fill="url(#dk1)"/><ellipse cx="541.1" cy="525.1" rx="14.3" ry="13.4" transform="rotate(83 541.1 525.1)" fill="url(#dk3)"/><ellipse cx="520.0" cy="506.8" rx="17.4" ry="14.6" transform="rotate(122 520.0 506.8)" fill="url(#dk1)"/><ellipse cx="562.7" cy="563.1" rx="18.4" ry="12.8" transform="rotate(136 562.7 563.1)" fill="url(#dk3)"/><ellipse cx="502.0" cy="493.0" rx="17.1" ry="14.2" transform="rotate(74 502.0 493.0)" fill="url(#dk3)"/><ellipse cx="522.2" cy="527.9" rx="17.0" ry="12.7" transform="rotate(42 522.2 527.9)" fill="url(#dk3)"/><ellipse cx="547.8" cy="558.1" rx="16.1" ry="10.7" transform="rotate(175 547.8 558.1)" fill="url(#dk1)"/><ellipse cx="481.1" cy="483.8" rx="18.0" ry="15.1" transform="rotate(71 481.1 483.8)" fill="url(#dk1)"/><ellipse cx="507.6" cy="515.9" rx="17.2" ry="15.0" transform="rotate(155 507.6 515.9)" fill="url(#dk3)"/><ellipse cx="532.5" cy="545.7" rx="15.6" ry="12.7" transform="rotate(170 532.5 545.7)" fill="url(#dk0)"/><ellipse cx="488.9" cy="507.1" rx="17.0" ry="12.8" transform="rotate(49 488.9 507.1)" fill="url(#dk0)"/><ellipse cx="542.3" cy="571.7" rx="18.4" ry="15.7" transform="rotate(42 542.3 571.7)" fill="url(#dk3)"/><ellipse cx="531.8" cy="560.7" rx="17.3" ry="15.1" transform="rotate(158 531.8 560.7)" fill="url(#dk1)"/><ellipse cx="507.5" cy="540.4" rx="15.2" ry="14.0" transform="rotate(95 507.5 540.4)" fill="url(#dk1)"/><ellipse cx="468.1" cy="496.2" rx="17.6" ry="11.1" transform="rotate(1 468.1 496.2)" fill="url(#dk3)"/><ellipse cx="494.3" cy="527.8" rx="13.9" ry="10.6" transform="rotate(69 494.3 527.8)" fill="url(#dk3)"/><ellipse cx="474.7" cy="512.0" rx="16.6" ry="11.0" transform="rotate(8 474.7 512.0)" fill="url(#dk0)"/><ellipse cx="526.7" cy="576.2" rx="14.4" ry="13.5" transform="rotate(157 526.7 576.2)" fill="url(#dk3)"/><ellipse cx="511.5" cy="559.6" rx="13.6" ry="8.6" transform="rotate(55 511.5 559.6)" fill="url(#dk3)"/><ellipse cx="490.4" cy="543.0" rx="13.2" ry="10.6" transform="rotate(108 490.4 543.0)" fill="url(#dk0)"/><ellipse cx="475.5" cy="526.6" rx="17.9" ry="15.7" transform="rotate(126 475.5 526.6)" fill="url(#dk3)"/><ellipse cx="459.5" cy="509.9" rx="15.1" ry="10.6" transform="rotate(141 459.5 509.9)" fill="url(#dk3)"/><ellipse cx="494.7" cy="557.5" rx="13.7" ry="8.8" transform="rotate(59 494.7 557.5)" fill="url(#dk3)"/><ellipse cx="508.2" cy="573.8" rx="15.8" ry="10.3" transform="rotate(69 508.2 573.8)" fill="url(#dk3)"/><ellipse cx="517.3" cy="587.7" rx="13.3" ry="9.8" transform="rotate(27 517.3 587.7)" fill="url(#dk1)"/><ellipse cx="478.2" cy="553.8" rx="16.7" ry="12.8" transform="rotate(157 478.2 553.8)" fill="url(#dk3)"/><ellipse cx="459.2" cy="537.4" rx="17.6" ry="14.9" transform="rotate(45 459.2 537.4)" fill="url(#dk1)"/><ellipse cx="483.0" cy="568.2" rx="15.7" ry="14.3" transform="rotate(159 483.0 568.2)" fill="url(#dk1)"/></g></g>
<circle cx="445" cy="530" r="10.5" fill="url(#bsf)" stroke="#2f5590" stroke-width="0.8"/><circle cx="502" cy="607" r="10.5" fill="url(#bsf)" stroke="#2f5590" stroke-width="0.8"/>
<g clip-path="url(#rimD)"><circle cx="477" cy="460" r="10.5" fill="url(#bsf)" stroke="#2f5590" stroke-width="0.8"/></g>
<text transform="translate(444.5 375) scale(1 1)" font-family="Liberation Sans" font-size="50" fill="#000">D</text>
<path d="M60.5 662.0H327.0M60.5 882.0H327.0" stroke="#a6a6a6" stroke-width="1" fill="none"/>
<path d="M60.5 662.0V882.0" stroke="#ff9a9a" stroke-width="1" fill="none"/>
<path d="M327.0 662.0V882.0" stroke="#a9c8e8" stroke-width="1" fill="none"/>
<path d="M113.8 882.0v-3M113.8 662.0v3M167.1 882.0v-3M167.1 662.0v3M220.4 882.0v-3M220.4 662.0v3M273.7 882.0v-3M273.7 662.0v3" stroke="#a6a6a6" stroke-width="1" fill="none"/>
<path d="M60.5 838.0h3M60.5 794.0h3M60.5 750.0h3M60.5 706.0h3" stroke="#ff9a9a" stroke-width="1" fill="none"/>
<path d="M327.0 827.0h-3M327.0 772.0h-3M327.0 717.0h-3M327.0 662.0h-3" stroke="#a9c8e8" stroke-width="1" fill="none"/>
<text x="53.5" y="889.0" text-anchor="end" fill="#e8111b" font-size="21">0</text>
<text x="53.5" y="845.0" text-anchor="end" fill="#e8111b" font-size="21">0.1</text>
<text x="53.5" y="801.0" text-anchor="end" fill="#e8111b" font-size="21">0.2</text>
<text x="53.5" y="757.0" text-anchor="end" fill="#e8111b" font-size="21">0.3</text>
<text x="53.5" y="713.0" text-anchor="end" fill="#e8111b" font-size="21">0.4</text>
<text x="53.5" y="669.0" text-anchor="end" fill="#e8111b" font-size="21">0.5</text>
<text x="333.0" y="889.0" fill="#2a74b6" font-size="21">0</text>
<text x="333.0" y="834.0" fill="#2a74b6" font-size="21">0.01</text>
<text x="333.0" y="779.0" fill="#2a74b6" font-size="21">0.02</text>
<text x="333.0" y="724.0" fill="#2a74b6" font-size="21">0.03</text>
<text x="333.0" y="669.0" fill="#2a74b6" font-size="21">0.04</text>
<text x="60.5" y="907.0" text-anchor="middle" fill="#262626" font-size="21">0</text>
<text x="113.8" y="907.0" text-anchor="middle" fill="#262626" font-size="21">1</text>
<text x="167.1" y="907.0" text-anchor="middle" fill="#262626" font-size="21">2</text>
<text x="220.4" y="907.0" text-anchor="middle" fill="#262626" font-size="21">3</text>
<text x="273.7" y="907.0" text-anchor="middle" fill="#262626" font-size="21">4</text>
<text x="327.0" y="907.0" text-anchor="middle" fill="#262626" font-size="21">5</text>
<text x="193.8" y="932.0" text-anchor="middle" fill="#262626" font-size="23.5">r/a</text>
<text transform="translate(20.5 772.0) rotate(-90)" text-anchor="middle" fill="#e8111b" font-size="23.5">Ht</text>
<text transform="translate(395.0 772.0) rotate(-90)" text-anchor="middle" fill="#2a74b6" font-size="23.5">Ht</text>
<polyline points="68.8,695.0 85.5,717.0 102.1,727.1 118.8,742.1 135.5,744.5 152.1,753.5 168.8,767.8 185.4,769.8 202.1,780.8 218.7,781.9 235.4,788.3 252.0,778.8 268.7,769.4 285.4,820.8 302.0,873.6 318.7,882.0" fill="none" stroke="#e8111b" stroke-width="2.2" stroke-linejoin="round"/>
<path d="M68.8 710.4V679.6M66.6 710.4h4.5M66.6 679.6h4.5M85.5 725.4V708.6M83.2 725.4h4.5M83.2 708.6h4.5M102.1 735.0V719.2M99.9 735.0h4.5M99.9 719.2h4.5M118.8 748.2V735.9M116.5 748.2h4.5M116.5 735.9h4.5M135.5 747.8V741.2M133.2 747.8h4.5M133.2 741.2h4.5M152.1 754.8V752.2M149.9 754.8h4.5M149.9 752.2h4.5M168.8 771.3V764.3M166.5 771.3h4.5M166.5 764.3h4.5M185.4 775.1V764.5M183.2 775.1h4.5M183.2 764.5h4.5M202.1 782.1V779.5M199.8 782.1h4.5M199.8 779.5h4.5M218.7 782.8V781.0M216.5 782.8h4.5M216.5 781.0h4.5M235.4 789.2V787.4M233.1 789.2h4.5M233.1 787.4h4.5M252.0 784.5V773.1M249.8 784.5h4.5M249.8 773.1h4.5M268.7 779.0V759.7M266.5 779.0h4.5M266.5 759.7h4.5M285.4 827.9V813.8M283.1 827.9h4.5M283.1 813.8h4.5M302.0 874.5V872.8M299.8 874.5h4.5M299.8 872.8h4.5M318.7 882.8V881.2M316.4 882.8h4.5M316.4 881.2h4.5" fill="none" stroke="#e8111b" stroke-width="1.7"/>
<polyline points="68.8,882.0 85.5,882.0 102.1,882.0 118.8,882.0 135.5,878.7 152.1,875.4 168.8,872.1 185.4,864.1 202.1,851.2 218.7,839.4 235.4,842.2 252.0,835.6 268.7,792.1 285.4,746.1 302.0,779.8 318.7,865.5" fill="none" stroke="#2a74b6" stroke-width="2.2" stroke-linejoin="round"/>
<path d="M185.4 865.8V862.5M183.2 865.8h4.5M183.2 862.5h4.5M202.1 852.9V849.5M199.8 852.9h4.5M199.8 849.5h4.5M218.7 853.1V825.6M216.5 853.1h4.5M216.5 825.6h4.5M235.4 854.8V829.5M233.1 854.8h4.5M233.1 829.5h4.5M252.0 837.2V833.9M249.8 837.2h4.5M249.8 833.9h4.5M268.7 805.3V778.9M266.5 805.3h4.5M266.5 778.9h4.5M285.4 756.6V735.7M283.1 756.6h4.5M283.1 735.7h4.5M302.0 781.5V778.2M299.8 781.5h4.5M299.8 778.2h4.5M318.7 867.1V863.9M316.4 867.1h4.5M316.4 863.9h4.5" fill="none" stroke="#2a74b6" stroke-width="1.7"/>
<rect x="192.9" y="667.4" width="127.6" height="47.0" fill="#fff" stroke="#808080" stroke-width="1"/>
<path d="M196.9 679.4H216.9M206.9 672.4v14" stroke="#e8111b" stroke-width="1.8" fill="none"/>
<text x="220.4" y="686.2" fill="#1a1a1a" font-size="19.2">normal RBC</text>
<path d="M196.9 701.7H216.9M206.9 694.7v14" stroke="#2a74b6" stroke-width="1.8" fill="none"/>
<text x="220.4" y="708.5" fill="#1a1a1a" font-size="19.2">sickle RBC</text>
<path d="M466.6 661.7H732.6M466.6 882.0H732.6" stroke="#a6a6a6" stroke-width="1" fill="none"/>
<path d="M466.6 661.7V882.0" stroke="#ff9a9a" stroke-width="1" fill="none"/>
<path d="M732.6 661.7V882.0" stroke="#a9c8e8" stroke-width="1" fill="none"/>
<path d="M519.8 882.0v-3M519.8 661.7v3M573.0 882.0v-3M573.0 661.7v3M626.2 882.0v-3M626.2 661.7v3M679.4 882.0v-3M679.4 661.7v3" stroke="#a6a6a6" stroke-width="1" fill="none"/>
<path d="M466.6 837.9h3M466.6 793.9h3M466.6 749.8h3M466.6 705.8h3" stroke="#ff9a9a" stroke-width="1" fill="none"/>
<path d="M732.6 837.9h-3M732.6 793.9h-3M732.6 749.8h-3M732.6 705.8h-3M732.6 661.7h-3" stroke="#a9c8e8" stroke-width="1" fill="none"/>
<text x="459.6" y="889.0" text-anchor="end" fill="#e8111b" font-size="21">0</text>
<text x="459.6" y="844.9" text-anchor="end" fill="#e8111b" font-size="21">0.1</text>
<text x="459.6" y="800.9" text-anchor="end" fill="#e8111b" font-size="21">0.2</text>
<text x="459.6" y="756.8" text-anchor="end" fill="#e8111b" font-size="21">0.3</text>
<text x="459.6" y="712.8" text-anchor="end" fill="#e8111b" font-size="21">0.4</text>
<text x="459.6" y="668.7" text-anchor="end" fill="#e8111b" font-size="21">0.5</text>
<text x="738.6" y="889.0" fill="#2a74b6" font-size="21">0</text>
<text x="738.6" y="844.9" fill="#2a74b6" font-size="21">0.01</text>
<text x="738.6" y="800.9" fill="#2a74b6" font-size="21">0.02</text>
<text x="738.6" y="756.8" fill="#2a74b6" font-size="21">0.03</text>
<text x="738.6" y="712.8" fill="#2a74b6" font-size="21">0.04</text>
<text x="738.6" y="668.7" fill="#2a74b6" font-size="21">0.05</text>
<text x="466.6" y="907.0" text-anchor="middle" fill="#262626" font-size="21">0</text>
<text x="519.8" y="907.0" text-anchor="middle" fill="#262626" font-size="21">1</text>
<text x="573.0" y="907.0" text-anchor="middle" fill="#262626" font-size="21">2</text>
<text x="626.2" y="907.0" text-anchor="middle" fill="#262626" font-size="21">3</text>
<text x="679.4" y="907.0" text-anchor="middle" fill="#262626" font-size="21">4</text>
<text x="732.6" y="907.0" text-anchor="middle" fill="#262626" font-size="21">5</text>
<text x="599.6" y="932.0" text-anchor="middle" fill="#262626" font-size="23.5">r/a</text>
<text transform="translate(426.6 771.9) rotate(-90)" text-anchor="middle" fill="#e8111b" font-size="23.5">Ht</text>
<text transform="translate(800.6 771.9) rotate(-90)" text-anchor="middle" fill="#2a74b6" font-size="23.5">Ht</text>
<polyline points="474.9,690.8 491.5,709.3 508.2,730.6 524.8,738.4 541.4,738.1 558.0,764.5 574.7,746.1 591.3,754.2 607.9,768.9 624.5,770.2 641.2,775.4 657.8,764.5 674.4,771.2 691.0,796.3 707.7,839.3 724.3,876.3" fill="none" stroke="#e8111b" stroke-width="2.2" stroke-linejoin="round"/>
<path d="M474.9 698.1V683.5M472.7 698.1h4.5M472.7 683.5h4.5M491.5 714.6V704.0M489.3 714.6h4.5M489.3 704.0h4.5M508.2 738.5V722.7M505.9 738.5h4.5M505.9 722.7h4.5M524.8 744.5V732.2M522.5 744.5h4.5M522.5 732.2h4.5M541.4 744.2V731.9M539.2 744.2h4.5M539.2 731.9h4.5M558.0 770.9V758.1M555.8 770.9h4.5M555.8 758.1h4.5M574.7 750.9V741.2M572.4 750.9h4.5M572.4 741.2h4.5M591.3 759.5V748.9M589.0 759.5h4.5M589.0 748.9h4.5M607.9 773.1V764.7M605.7 773.1h4.5M605.7 764.7h4.5M624.5 775.5V764.9M622.3 775.5h4.5M622.3 764.9h4.5M641.2 778.7V772.1M638.9 778.7h4.5M638.9 772.1h4.5M657.8 766.3V762.8M655.5 766.3h4.5M655.5 762.8h4.5M674.4 772.5V769.9M672.2 772.5h4.5M672.2 769.9h4.5M691.0 797.2V795.4M688.8 797.2h4.5M688.8 795.4h4.5M707.7 840.2V838.5M705.4 840.2h4.5M705.4 838.5h4.5M724.3 877.2V875.4M722.0 877.2h4.5M722.0 875.4h4.5" fill="none" stroke="#e8111b" stroke-width="1.7"/>
<polyline points="474.9,882.0 491.5,879.4 508.2,873.2 524.8,866.6 541.4,862.6 558.0,860.9 574.7,853.4 591.3,849.0 607.9,845.4 624.5,839.3 641.2,830.0 657.8,783.7 674.4,746.3 691.0,761.7 707.7,805.3 724.3,867.9" fill="none" stroke="#2a74b6" stroke-width="2.2" stroke-linejoin="round"/>
<path d="M508.2 874.5V871.9M505.9 874.5h4.5M505.9 871.9h4.5M524.8 872.6V860.6M522.5 872.6h4.5M522.5 860.6h4.5M541.4 873.4V851.9M539.2 873.4h4.5M539.2 851.9h4.5M558.0 867.8V853.9M555.8 867.8h4.5M555.8 853.9h4.5M574.7 858.6V848.1M572.4 858.6h4.5M572.4 848.1h4.5M591.3 860.9V837.1M589.0 860.9h4.5M589.0 837.1h4.5M607.9 857.8V833.1M605.7 857.8h4.5M605.7 833.1h4.5M624.5 848.5V830.0M622.3 848.5h4.5M622.3 830.0h4.5M641.2 834.9V825.2M638.9 834.9h4.5M638.9 825.2h4.5M657.8 788.2V779.3M655.5 788.2h4.5M655.5 779.3h4.5M674.4 751.1V741.4M672.2 751.1h4.5M672.2 741.4h4.5M691.0 770.5V752.9M688.8 770.5h4.5M688.8 752.9h4.5M707.7 815.5V795.2M705.4 815.5h4.5M705.4 795.2h4.5M724.3 869.7V866.1M722.0 869.7h4.5M722.0 866.1h4.5" fill="none" stroke="#2a74b6" stroke-width="1.7"/>
<rect x="598.3" y="667.4" width="128.2" height="47.0" fill="#fff" stroke="#808080" stroke-width="1"/>
<path d="M602.3 679.4H622.3M612.3 672.4v14" stroke="#e8111b" stroke-width="1.8" fill="none"/>
<text x="625.8" y="686.2" fill="#1a1a1a" font-size="19.2">normal RBC</text>
<path d="M602.3 701.7H622.3M612.3 694.7v14" stroke="#2a74b6" stroke-width="1.8" fill="none"/>
<text x="625.8" y="708.5" fill="#1a1a1a" font-size="19.2">idRBC</text>
<path d="M60.8 960.8H327.4M60.8 1181.0H327.4" stroke="#a6a6a6" stroke-width="1" fill="none"/>
<path d="M60.8 960.8V1181.0" stroke="#ff9a9a" stroke-width="1" fill="none"/>
<path d="M327.4 960.8V1181.0" stroke="#a9c8e8" stroke-width="1" fill="none"/>
<path d="M114.1 1181.0v-3M114.1 960.8v3M167.4 1181.0v-3M167.4 960.8v3M220.7 1181.0v-3M220.7 960.8v3M274.1 1181.0v-3M274.1 960.8v3" stroke="#a6a6a6" stroke-width="1" fill="none"/>
<path d="M60.8 1137.0h3M60.8 1092.9h3M60.8 1048.9h3M60.8 1004.8h3" stroke="#ff9a9a" stroke-width="1" fill="none"/>
<path d="M327.4 1141.0h-3M327.4 1100.9h-3M327.4 1060.9h-3M327.4 1020.9h-3M327.4 980.8h-3" stroke="#a9c8e8" stroke-width="1" fill="none"/>
<text x="53.8" y="1188.0" text-anchor="end" fill="#e8111b" font-size="21">0</text>
<text x="53.8" y="1144.0" text-anchor="end" fill="#e8111b" font-size="21">0.1</text>
<text x="53.8" y="1099.9" text-anchor="end" fill="#e8111b" font-size="21">0.2</text>
<text x="53.8" y="1055.9" text-anchor="end" fill="#e8111b" font-size="21">0.3</text>
<text x="53.8" y="1011.8" text-anchor="end" fill="#e8111b" font-size="21">0.4</text>
<text x="53.8" y="967.8" text-anchor="end" fill="#e8111b" font-size="21">0.5</text>
<text x="333.4" y="1188.0" fill="#2a74b6" font-size="21">0</text>
<text x="333.4" y="1148.0" fill="#2a74b6" font-size="21">0.01</text>
<text x="333.4" y="1107.9" fill="#2a74b6" font-size="21">0.02</text>
<text x="333.4" y="1067.9" fill="#2a74b6" font-size="21">0.03</text>
<text x="333.4" y="1027.9" fill="#2a74b6" font-size="21">0.04</text>
<text x="333.4" y="987.8" fill="#2a74b6" font-size="21">0.05</text>
<text x="60.8" y="1206.0" text-anchor="middle" fill="#262626" font-size="21">0</text>
<text x="114.1" y="1206.0" text-anchor="middle" fill="#262626" font-size="21">1</text>
<text x="167.4" y="1206.0" text-anchor="middle" fill="#262626" font-size="21">2</text>
<text x="220.7" y="1206.0" text-anchor="middle" fill="#262626" font-size="21">3</text>
<text x="274.1" y="1206.0" text-anchor="middle" fill="#262626" font-size="21">4</text>
<text x="327.4" y="1206.0" text-anchor="middle" fill="#262626" font-size="21">5</text>
<text x="194.1" y="1231.0" text-anchor="middle" fill="#262626" font-size="23.5">r/a</text>
<text transform="translate(20.8 1070.9) rotate(-90)" text-anchor="middle" fill="#e8111b" font-size="23.5">Ht</text>
<text transform="translate(395.4 1070.9) rotate(-90)" text-anchor="middle" fill="#2a74b6" font-size="23.5">Ht</text>
<polyline points="69.1,978.0 85.7,1017.0 102.4,1016.0 119.1,1034.5 135.7,1041.3 152.4,1055.6 169.1,1059.8 185.7,1058.8 202.4,1071.8 219.1,1072.5 235.7,1082.6 252.4,1085.1 269.1,1079.8 285.7,1119.3 302.4,1169.8 319.1,1180.6" fill="none" stroke="#e8111b" stroke-width="2.2" stroke-linejoin="round"/>
<path d="M69.1 984.1V971.8M66.8 984.1h4.5M66.8 971.8h4.5M85.7 1026.5V1007.4M83.5 1026.5h4.5M83.5 1007.4h4.5M102.4 1031.4V1000.6M100.2 1031.4h4.5M100.2 1000.6h4.5M119.1 1045.9V1023.0M116.8 1045.9h4.5M116.8 1023.0h4.5M135.7 1050.1V1032.5M133.5 1050.1h4.5M133.5 1032.5h4.5M152.4 1066.1V1045.0M150.2 1066.1h4.5M150.2 1045.0h4.5M169.1 1068.6V1050.9M166.8 1068.6h4.5M166.8 1050.9h4.5M185.7 1060.2V1057.5M183.5 1060.2h4.5M183.5 1057.5h4.5M202.4 1079.3V1064.3M200.2 1079.3h4.5M200.2 1064.3h4.5M219.1 1073.9V1071.2M216.8 1073.9h4.5M216.8 1071.2h4.5M235.7 1083.4V1081.8M233.5 1083.4h4.5M233.5 1081.8h4.5M252.4 1085.9V1084.3M250.2 1085.9h4.5M250.2 1084.3h4.5M269.1 1085.0V1074.5M266.8 1085.0h4.5M266.8 1074.5h4.5M285.7 1120.7V1118.0M283.5 1120.7h4.5M283.5 1118.0h4.5M302.4 1170.6V1169.0M300.2 1170.6h4.5M300.2 1169.0h4.5" fill="none" stroke="#e8111b" stroke-width="1.7"/>
<polyline points="69.1,1181.0 85.7,1181.0 102.4,1181.0 119.1,1181.0 135.7,1175.4 152.4,1168.2 169.1,1158.2 185.7,1129.4 202.4,1114.1 219.1,1101.7 235.7,1084.5 252.4,1047.7 269.1,1020.9 285.7,1061.7 302.4,1135.0 319.1,1177.0" fill="none" stroke="#2a74b6" stroke-width="2.2" stroke-linejoin="round"/>
<path d="M135.7 1181.8V1169.0M133.5 1181.8h4.5M133.5 1169.0h4.5M152.4 1182.6V1153.8M150.2 1182.6h4.5M150.2 1153.8h4.5M169.1 1174.6V1141.8M166.8 1174.6h4.5M166.8 1141.8h4.5M185.7 1140.6V1118.1M183.5 1140.6h4.5M183.5 1118.1h4.5M202.4 1115.3V1112.9M200.2 1115.3h4.5M200.2 1112.9h4.5M219.1 1106.5V1096.9M216.8 1106.5h4.5M216.8 1096.9h4.5M235.7 1089.3V1079.7M233.5 1089.3h4.5M233.5 1079.7h4.5M252.4 1052.9V1042.5M250.2 1052.9h4.5M250.2 1042.5h4.5M269.1 1022.1V1019.7M266.8 1022.1h4.5M266.8 1019.7h4.5M285.7 1069.7V1053.7M283.5 1069.7h4.5M283.5 1053.7h4.5M302.4 1144.2V1125.7M300.2 1144.2h4.5M300.2 1125.7h4.5M319.1 1179.0V1175.0M316.8 1179.0h4.5M316.8 1175.0h4.5" fill="none" stroke="#2a74b6" stroke-width="1.7"/>
<rect x="150.2" y="966.6" width="170.5" height="46.4" fill="#fff" stroke="#808080" stroke-width="1"/>
<path d="M154.2 978.4H174.2M164.2 971.4v14" stroke="#e8111b" stroke-width="1.8" fill="none"/>
<text x="177.7" y="985.2" fill="#1a1a1a" font-size="19.2">normal RBC</text>
<path d="M154.2 1000.5H174.2M164.2 993.5v14" stroke="#2a74b6" stroke-width="1.8" fill="none"/>
<text x="177.7" y="1007.3" fill="#1a1a1a" font-size="19.2">sphero-echinocyte</text>
<path d="M467.0 960.5H732.8M467.0 1181.0H732.8" stroke="#a6a6a6" stroke-width="1" fill="none"/>
<path d="M467.0 960.5V1181.0" stroke="#ff9a9a" stroke-width="1" fill="none"/>
<path d="M732.8 960.5V1181.0" stroke="#a9c8e8" stroke-width="1" fill="none"/>
<path d="M520.2 1181.0v-3M520.2 960.5v3M573.3 1181.0v-3M573.3 960.5v3M626.5 1181.0v-3M626.5 960.5v3M679.6 1181.0v-3M679.6 960.5v3" stroke="#a6a6a6" stroke-width="1" fill="none"/>
<path d="M467.0 1136.9h3M467.0 1092.8h3M467.0 1048.7h3M467.0 1004.6h3" stroke="#ff9a9a" stroke-width="1" fill="none"/>
<path d="M732.8 1140.9h-3M732.8 1100.8h-3M732.8 1060.7h-3M732.8 1020.6h-3M732.8 980.5h-3" stroke="#a9c8e8" stroke-width="1" fill="none"/>
<text x="460.0" y="1188.0" text-anchor="end" fill="#e8111b" font-size="21">0</text>
<text x="460.0" y="1143.9" text-anchor="end" fill="#e8111b" font-size="21">0.1</text>
<text x="460.0" y="1099.8" text-anchor="end" fill="#e8111b" font-size="21">0.2</text>
<text x="460.0" y="1055.7" text-anchor="end" fill="#e8111b" font-size="21">0.3</text>
<text x="460.0" y="1011.6" text-anchor="end" fill="#e8111b" font-size="21">0.4</text>
<text x="460.0" y="967.5" text-anchor="end" fill="#e8111b" font-size="21">0.5</text>
<text x="738.8" y="1188.0" fill="#2a74b6" font-size="21">0</text>
<text x="738.8" y="1147.9" fill="#2a74b6" font-size="21">0.01</text>
<text x="738.8" y="1107.8" fill="#2a74b6" font-size="21">0.02</text>
<text x="738.8" y="1067.7" fill="#2a74b6" font-size="21">0.03</text>
<text x="738.8" y="1027.6" fill="#2a74b6" font-size="21">0.04</text>
<text x="738.8" y="987.5" fill="#2a74b6" font-size="21">0.05</text>
<text x="467.0" y="1206.0" text-anchor="middle" fill="#262626" font-size="21">0</text>
<text x="520.2" y="1206.0" text-anchor="middle" fill="#262626" font-size="21">1</text>
<text x="573.3" y="1206.0" text-anchor="middle" fill="#262626" font-size="21">2</text>
<text x="626.5" y="1206.0" text-anchor="middle" fill="#262626" font-size="21">3</text>
<text x="679.6" y="1206.0" text-anchor="middle" fill="#262626" font-size="21">4</text>
<text x="732.8" y="1206.0" text-anchor="middle" fill="#262626" font-size="21">5</text>
<text x="599.9" y="1231.0" text-anchor="middle" fill="#262626" font-size="23.5">r/a</text>
<text transform="translate(427.0 1070.8) rotate(-90)" text-anchor="middle" fill="#e8111b" font-size="23.5">Ht</text>
<text transform="translate(800.8 1070.8) rotate(-90)" text-anchor="middle" fill="#2a74b6" font-size="23.5">Ht</text>
<polyline points="475.3,974.4 491.9,1015.2 508.5,1035.5 525.1,1054.5 541.8,1046.8 558.4,1051.0 575.0,1064.0 591.6,1072.4 608.2,1085.0 624.8,1085.0 641.4,1088.2 658.0,1085.7 674.7,1088.2 691.3,1130.1 707.9,1173.1 724.5,1181.0" fill="none" stroke="#e8111b" stroke-width="2.2" stroke-linejoin="round"/>
<path d="M475.3 979.7V969.1M473.1 979.7h4.5M473.1 969.1h4.5M491.9 1016.0V1014.4M489.7 1016.0h4.5M489.7 1014.4h4.5M508.5 1038.8V1032.2M506.3 1038.8h4.5M506.3 1032.2h4.5M525.1 1057.6V1051.4M522.9 1057.6h4.5M522.9 1051.4h4.5M541.8 1050.8V1042.9M539.5 1050.8h4.5M539.5 1042.9h4.5M558.4 1051.9V1050.2M556.1 1051.9h4.5M556.1 1050.2h4.5M575.0 1068.9V1059.2M572.7 1068.9h4.5M572.7 1059.2h4.5M591.6 1085.2V1059.6M589.3 1085.2h4.5M589.3 1059.6h4.5M608.2 1095.8V1074.1M606.0 1095.8h4.5M606.0 1074.1h4.5M624.8 1090.7V1079.2M622.6 1090.7h4.5M622.6 1079.2h4.5M641.4 1089.1V1087.3M639.2 1089.1h4.5M639.2 1087.3h4.5M658.0 1087.0V1084.4M655.8 1087.0h4.5M655.8 1084.4h4.5M674.7 1099.0V1077.4M672.4 1099.0h4.5M672.4 1077.4h4.5M691.3 1138.0V1122.2M689.0 1138.0h4.5M689.0 1122.2h4.5M707.9 1173.9V1172.3M705.6 1173.9h4.5M705.6 1172.3h4.5" fill="none" stroke="#e8111b" stroke-width="1.7"/>
<polyline points="475.3,1181.0 491.9,1181.0 508.5,1181.0 525.1,1181.0 541.8,1181.0 558.4,1179.8 575.0,1174.6 591.6,1169.4 608.2,1168.2 624.8,1167.8 641.4,1169.4 658.0,1156.1 674.7,1056.7 691.3,1023.4 707.9,1080.8 724.5,1169.4" fill="none" stroke="#2a74b6" stroke-width="2.2" stroke-linejoin="round"/>
<path d="M575.0 1182.6V1166.6M572.7 1182.6h4.5M572.7 1166.6h4.5M591.6 1181.8V1156.9M589.3 1181.8h4.5M589.3 1156.9h4.5M608.2 1176.2V1160.2M606.0 1176.2h4.5M606.0 1160.2h4.5M624.8 1171.8V1163.8M622.6 1171.8h4.5M622.6 1163.8h4.5M641.4 1177.4V1161.4M639.2 1177.4h4.5M639.2 1161.4h4.5M658.0 1165.8V1146.5M655.8 1165.8h4.5M655.8 1146.5h4.5M674.7 1058.7V1054.7M672.4 1058.7h4.5M672.4 1054.7h4.5M691.3 1025.4V1021.4M689.0 1025.4h4.5M689.0 1021.4h4.5M707.9 1084.8V1076.8M705.6 1084.8h4.5M705.6 1076.8h4.5M724.5 1171.4V1167.4M722.2 1171.4h4.5M722.2 1167.4h4.5" fill="none" stroke="#2a74b6" stroke-width="1.7"/>
<rect x="598.3" y="966.4" width="128.2" height="47.0" fill="#fff" stroke="#808080" stroke-width="1"/>
<path d="M602.3 978.4H622.3M612.3 971.4v14" stroke="#e8111b" stroke-width="1.8" fill="none"/>
<text x="625.8" y="985.2" fill="#1a1a1a" font-size="19.2">normal RBC</text>
<path d="M602.3 1000.7H622.3M612.3 993.7v14" stroke="#2a74b6" stroke-width="1.8" fill="none"/>
<text x="625.8" y="1007.5" fill="#1a1a1a" font-size="19.2">spherocyte</text>
<text transform="translate(-5.5 653) scale(0.95 1)" font-family="Liberation Sans" font-size="50" fill="#000">E</text>
<text transform="translate(401.5 653) scale(0.95 1)" font-family="Liberation Sans" font-size="50" fill="#000">F</text>
<text transform="translate(-2.2 952) scale(0.95 1)" font-family="Liberation Sans" font-size="50" fill="#000">G</text>
<text transform="translate(401.5 952) scale(0.95 1)" font-family="Liberation Sans" font-size="50" fill="#000">H</text>
</svg></body></html>
